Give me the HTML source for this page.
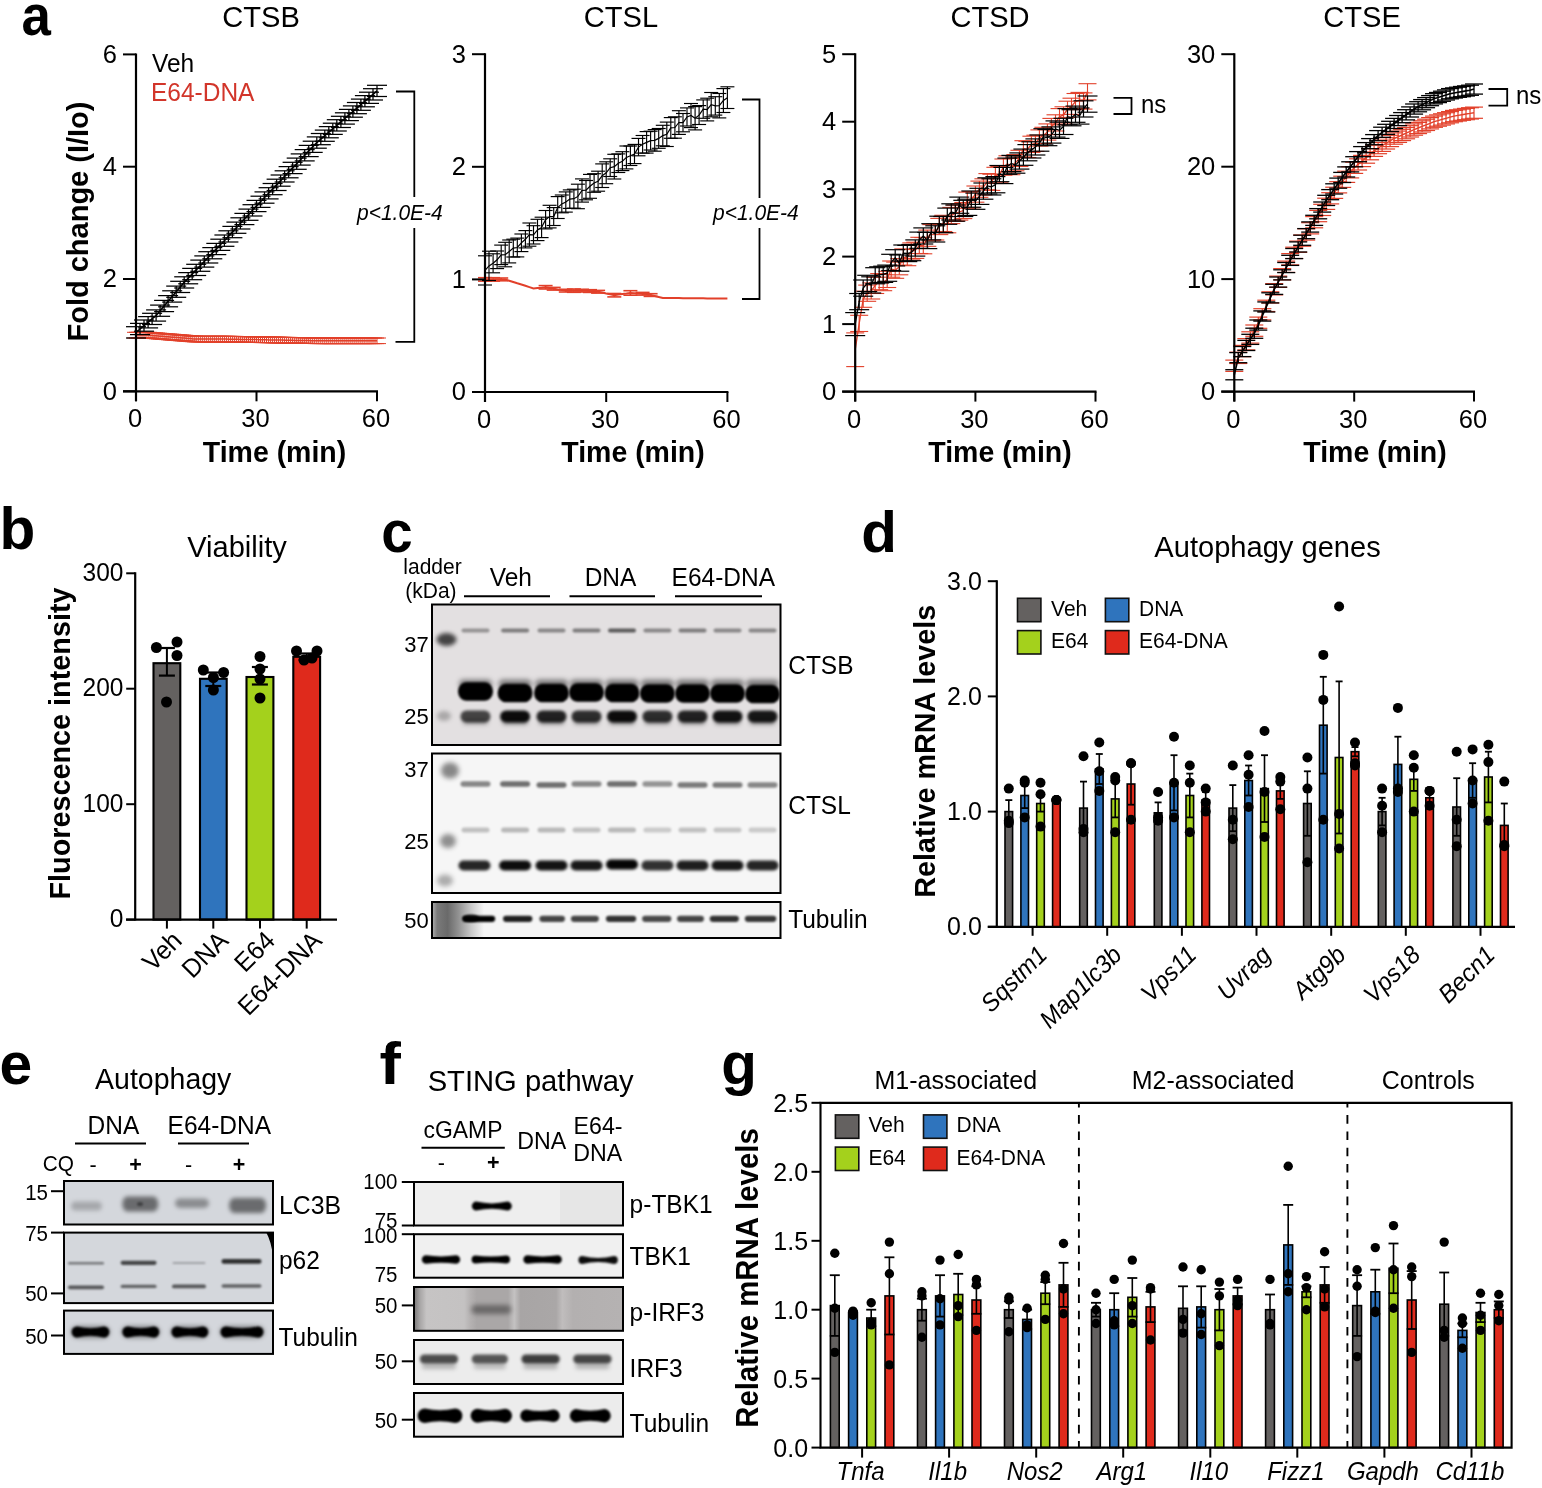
<!DOCTYPE html><html><head><meta charset="utf-8"><style>html,body{margin:0;padding:0;background:#fff;}svg{display:block;}</style></head><body>
<svg width="1542" height="1488" viewBox="0 0 1542 1488" font-family="'Liberation Sans', Arial, Helvetica, sans-serif">
<rect width="1542" height="1488" fill="#fff"/>
<defs><filter id="b0_6" x="-50%" y="-100%" width="200%" height="300%"><feGaussianBlur stdDeviation="0.6"/></filter><filter id="b1_0" x="-50%" y="-100%" width="200%" height="300%"><feGaussianBlur stdDeviation="1.0"/></filter><filter id="b1_5" x="-50%" y="-100%" width="200%" height="300%"><feGaussianBlur stdDeviation="1.5"/></filter><filter id="b2_0" x="-50%" y="-100%" width="200%" height="300%"><feGaussianBlur stdDeviation="2.0"/></filter><filter id="b2_5" x="-50%" y="-100%" width="200%" height="300%"><feGaussianBlur stdDeviation="2.5"/></filter><filter id="b3_0" x="-50%" y="-100%" width="200%" height="300%"><feGaussianBlur stdDeviation="3.0"/></filter><filter id="b4_0" x="-50%" y="-100%" width="200%" height="300%"><feGaussianBlur stdDeviation="4.0"/></filter><filter id="b6_0" x="-50%" y="-100%" width="200%" height="300%"><feGaussianBlur stdDeviation="6.0"/></filter></defs>
<text transform="translate(21.52,35.03) scale(0.92,1)" font-size="57.45" font-weight="bold">a</text>
<text transform="translate(261.00,27.30) scale(1,1.04)" font-size="29.1" text-anchor="middle">CTSB</text>
<path d="M136.0,335.1 L138.0,335.1 L140.0,335.1 L142.0,335.1 L144.0,335.1 L146.0,335.1 L148.1,335.1 L150.1,335.3 L152.1,335.5 L154.1,335.7 L156.1,335.8 L158.1,336.0 L160.1,336.2 L162.1,336.3 L164.1,336.5 L166.1,336.7 L168.1,336.8 L170.1,337.0 L172.2,337.2 L174.2,337.3 L176.2,337.5 L178.2,337.6 L180.2,337.8 L182.2,338.0 L184.2,338.1 L186.2,338.3 L188.2,338.4 L190.2,338.6 L192.2,338.8 L194.2,338.9 L196.2,339.1 L198.3,339.1 L200.3,339.1 L202.3,339.1 L204.3,339.1 L206.3,339.1 L208.3,339.1 L210.3,339.1 L212.3,339.1 L214.3,339.1 L216.3,339.1 L218.3,339.1 L220.3,339.1 L222.4,339.1 L224.4,339.1 L226.4,339.1 L228.4,339.2 L230.4,339.2 L232.4,339.2 L234.4,339.3 L236.4,339.3 L238.4,339.3 L240.4,339.4 L242.4,339.4 L244.4,339.4 L246.5,339.5 L248.5,339.5 L250.5,339.5 L252.5,339.6 L254.5,339.6 L256.5,339.6 L258.5,339.7 L260.5,339.7 L262.5,339.8 L264.5,339.8 L266.5,339.8 L268.6,339.9 L270.6,339.9 L272.6,339.9 L274.6,340.0 L276.6,340.0 L278.6,340.1 L280.6,340.1 L282.6,340.1 L284.6,340.2 L286.6,340.2 L288.6,340.2 L290.6,340.3 L292.6,340.3 L294.7,340.4 L296.7,340.4 L298.7,340.4 L300.7,340.5 L302.7,340.5 L304.7,340.5 L306.7,340.6 L308.7,340.6 L310.7,340.7 L312.7,340.7 L314.7,340.7 L316.8,340.8 L318.8,340.8 L320.8,340.8 L322.8,340.8 L324.8,340.8 L326.8,340.8 L328.8,340.8 L330.8,340.8 L332.8,340.8 L334.8,340.8 L336.8,340.8 L338.8,340.8 L340.9,340.8 L342.9,340.8 L344.9,340.8 L346.9,340.8 L348.9,340.8 L350.9,340.8 L352.9,340.8 L354.9,340.8 L356.9,340.8 L358.9,340.8 L360.9,340.8 L362.9,340.8 L364.9,340.8 L367.0,340.8 L369.0,340.8 L371.0,340.8 L373.0,340.8 L375.0,340.8 L377.0,340.8" stroke="#e2402a" stroke-width="1.5" fill="none"/>
<line x1="136.0" y1="332.3" x2="136.0" y2="338.0" stroke="#e2402a" stroke-width="1.0"/>
<line x1="127.0" y1="332.3" x2="145.0" y2="332.3" stroke="#e2402a" stroke-width="1.0"/>
<line x1="127.0" y1="338.0" x2="145.0" y2="338.0" stroke="#e2402a" stroke-width="1.0"/>
<line x1="138.0" y1="332.3" x2="138.0" y2="338.0" stroke="#e2402a" stroke-width="1.0"/>
<line x1="129.0" y1="332.3" x2="147.0" y2="332.3" stroke="#e2402a" stroke-width="1.0"/>
<line x1="129.0" y1="338.0" x2="147.0" y2="338.0" stroke="#e2402a" stroke-width="1.0"/>
<line x1="140.0" y1="332.3" x2="140.0" y2="338.0" stroke="#e2402a" stroke-width="1.0"/>
<line x1="131.0" y1="332.3" x2="149.0" y2="332.3" stroke="#e2402a" stroke-width="1.0"/>
<line x1="131.0" y1="338.0" x2="149.0" y2="338.0" stroke="#e2402a" stroke-width="1.0"/>
<line x1="142.0" y1="332.3" x2="142.0" y2="338.0" stroke="#e2402a" stroke-width="1.0"/>
<line x1="133.0" y1="332.3" x2="151.0" y2="332.3" stroke="#e2402a" stroke-width="1.0"/>
<line x1="133.0" y1="338.0" x2="151.0" y2="338.0" stroke="#e2402a" stroke-width="1.0"/>
<line x1="144.0" y1="332.3" x2="144.0" y2="338.0" stroke="#e2402a" stroke-width="1.0"/>
<line x1="135.0" y1="332.3" x2="153.0" y2="332.3" stroke="#e2402a" stroke-width="1.0"/>
<line x1="135.0" y1="338.0" x2="153.0" y2="338.0" stroke="#e2402a" stroke-width="1.0"/>
<line x1="146.0" y1="332.3" x2="146.0" y2="338.0" stroke="#e2402a" stroke-width="1.0"/>
<line x1="137.0" y1="332.3" x2="155.0" y2="332.3" stroke="#e2402a" stroke-width="1.0"/>
<line x1="137.0" y1="338.0" x2="155.0" y2="338.0" stroke="#e2402a" stroke-width="1.0"/>
<line x1="148.1" y1="332.3" x2="148.1" y2="338.0" stroke="#e2402a" stroke-width="1.0"/>
<line x1="139.1" y1="332.3" x2="157.1" y2="332.3" stroke="#e2402a" stroke-width="1.0"/>
<line x1="139.1" y1="338.0" x2="157.1" y2="338.0" stroke="#e2402a" stroke-width="1.0"/>
<line x1="150.1" y1="332.5" x2="150.1" y2="338.1" stroke="#e2402a" stroke-width="1.0"/>
<line x1="141.1" y1="332.5" x2="159.1" y2="332.5" stroke="#e2402a" stroke-width="1.0"/>
<line x1="141.1" y1="338.1" x2="159.1" y2="338.1" stroke="#e2402a" stroke-width="1.0"/>
<line x1="152.1" y1="332.7" x2="152.1" y2="338.3" stroke="#e2402a" stroke-width="1.0"/>
<line x1="143.1" y1="332.7" x2="161.1" y2="332.7" stroke="#e2402a" stroke-width="1.0"/>
<line x1="143.1" y1="338.3" x2="161.1" y2="338.3" stroke="#e2402a" stroke-width="1.0"/>
<line x1="154.1" y1="332.8" x2="154.1" y2="338.5" stroke="#e2402a" stroke-width="1.0"/>
<line x1="145.1" y1="332.8" x2="163.1" y2="332.8" stroke="#e2402a" stroke-width="1.0"/>
<line x1="145.1" y1="338.5" x2="163.1" y2="338.5" stroke="#e2402a" stroke-width="1.0"/>
<line x1="156.1" y1="333.0" x2="156.1" y2="338.6" stroke="#e2402a" stroke-width="1.0"/>
<line x1="147.1" y1="333.0" x2="165.1" y2="333.0" stroke="#e2402a" stroke-width="1.0"/>
<line x1="147.1" y1="338.6" x2="165.1" y2="338.6" stroke="#e2402a" stroke-width="1.0"/>
<line x1="158.1" y1="333.2" x2="158.1" y2="338.8" stroke="#e2402a" stroke-width="1.0"/>
<line x1="149.1" y1="333.2" x2="167.1" y2="333.2" stroke="#e2402a" stroke-width="1.0"/>
<line x1="149.1" y1="338.8" x2="167.1" y2="338.8" stroke="#e2402a" stroke-width="1.0"/>
<line x1="160.1" y1="333.4" x2="160.1" y2="339.0" stroke="#e2402a" stroke-width="1.0"/>
<line x1="151.1" y1="333.4" x2="169.1" y2="333.4" stroke="#e2402a" stroke-width="1.0"/>
<line x1="151.1" y1="339.0" x2="169.1" y2="339.0" stroke="#e2402a" stroke-width="1.0"/>
<line x1="162.1" y1="333.5" x2="162.1" y2="339.1" stroke="#e2402a" stroke-width="1.0"/>
<line x1="153.1" y1="333.5" x2="171.1" y2="333.5" stroke="#e2402a" stroke-width="1.0"/>
<line x1="153.1" y1="339.1" x2="171.1" y2="339.1" stroke="#e2402a" stroke-width="1.0"/>
<line x1="164.1" y1="333.7" x2="164.1" y2="339.3" stroke="#e2402a" stroke-width="1.0"/>
<line x1="155.1" y1="333.7" x2="173.1" y2="333.7" stroke="#e2402a" stroke-width="1.0"/>
<line x1="155.1" y1="339.3" x2="173.1" y2="339.3" stroke="#e2402a" stroke-width="1.0"/>
<line x1="166.1" y1="333.9" x2="166.1" y2="339.5" stroke="#e2402a" stroke-width="1.0"/>
<line x1="157.1" y1="333.9" x2="175.1" y2="333.9" stroke="#e2402a" stroke-width="1.0"/>
<line x1="157.1" y1="339.5" x2="175.1" y2="339.5" stroke="#e2402a" stroke-width="1.0"/>
<line x1="168.1" y1="334.0" x2="168.1" y2="339.6" stroke="#e2402a" stroke-width="1.0"/>
<line x1="159.1" y1="334.0" x2="177.1" y2="334.0" stroke="#e2402a" stroke-width="1.0"/>
<line x1="159.1" y1="339.6" x2="177.1" y2="339.6" stroke="#e2402a" stroke-width="1.0"/>
<line x1="170.1" y1="334.2" x2="170.1" y2="339.8" stroke="#e2402a" stroke-width="1.0"/>
<line x1="161.1" y1="334.2" x2="179.1" y2="334.2" stroke="#e2402a" stroke-width="1.0"/>
<line x1="161.1" y1="339.8" x2="179.1" y2="339.8" stroke="#e2402a" stroke-width="1.0"/>
<line x1="172.2" y1="334.3" x2="172.2" y2="340.0" stroke="#e2402a" stroke-width="1.0"/>
<line x1="163.2" y1="334.3" x2="181.2" y2="334.3" stroke="#e2402a" stroke-width="1.0"/>
<line x1="163.2" y1="340.0" x2="181.2" y2="340.0" stroke="#e2402a" stroke-width="1.0"/>
<line x1="174.2" y1="334.5" x2="174.2" y2="340.1" stroke="#e2402a" stroke-width="1.0"/>
<line x1="165.2" y1="334.5" x2="183.2" y2="334.5" stroke="#e2402a" stroke-width="1.0"/>
<line x1="165.2" y1="340.1" x2="183.2" y2="340.1" stroke="#e2402a" stroke-width="1.0"/>
<line x1="176.2" y1="334.7" x2="176.2" y2="340.3" stroke="#e2402a" stroke-width="1.0"/>
<line x1="167.2" y1="334.7" x2="185.2" y2="334.7" stroke="#e2402a" stroke-width="1.0"/>
<line x1="167.2" y1="340.3" x2="185.2" y2="340.3" stroke="#e2402a" stroke-width="1.0"/>
<line x1="178.2" y1="334.8" x2="178.2" y2="340.4" stroke="#e2402a" stroke-width="1.0"/>
<line x1="169.2" y1="334.8" x2="187.2" y2="334.8" stroke="#e2402a" stroke-width="1.0"/>
<line x1="169.2" y1="340.4" x2="187.2" y2="340.4" stroke="#e2402a" stroke-width="1.0"/>
<line x1="180.2" y1="335.0" x2="180.2" y2="340.6" stroke="#e2402a" stroke-width="1.0"/>
<line x1="171.2" y1="335.0" x2="189.2" y2="335.0" stroke="#e2402a" stroke-width="1.0"/>
<line x1="171.2" y1="340.6" x2="189.2" y2="340.6" stroke="#e2402a" stroke-width="1.0"/>
<line x1="182.2" y1="335.1" x2="182.2" y2="340.8" stroke="#e2402a" stroke-width="1.0"/>
<line x1="173.2" y1="335.1" x2="191.2" y2="335.1" stroke="#e2402a" stroke-width="1.0"/>
<line x1="173.2" y1="340.8" x2="191.2" y2="340.8" stroke="#e2402a" stroke-width="1.0"/>
<line x1="184.2" y1="335.3" x2="184.2" y2="340.9" stroke="#e2402a" stroke-width="1.0"/>
<line x1="175.2" y1="335.3" x2="193.2" y2="335.3" stroke="#e2402a" stroke-width="1.0"/>
<line x1="175.2" y1="340.9" x2="193.2" y2="340.9" stroke="#e2402a" stroke-width="1.0"/>
<line x1="186.2" y1="335.5" x2="186.2" y2="341.1" stroke="#e2402a" stroke-width="1.0"/>
<line x1="177.2" y1="335.5" x2="195.2" y2="335.5" stroke="#e2402a" stroke-width="1.0"/>
<line x1="177.2" y1="341.1" x2="195.2" y2="341.1" stroke="#e2402a" stroke-width="1.0"/>
<line x1="188.2" y1="335.6" x2="188.2" y2="341.2" stroke="#e2402a" stroke-width="1.0"/>
<line x1="179.2" y1="335.6" x2="197.2" y2="335.6" stroke="#e2402a" stroke-width="1.0"/>
<line x1="179.2" y1="341.2" x2="197.2" y2="341.2" stroke="#e2402a" stroke-width="1.0"/>
<line x1="190.2" y1="335.8" x2="190.2" y2="341.4" stroke="#e2402a" stroke-width="1.0"/>
<line x1="181.2" y1="335.8" x2="199.2" y2="335.8" stroke="#e2402a" stroke-width="1.0"/>
<line x1="181.2" y1="341.4" x2="199.2" y2="341.4" stroke="#e2402a" stroke-width="1.0"/>
<line x1="192.2" y1="336.0" x2="192.2" y2="341.6" stroke="#e2402a" stroke-width="1.0"/>
<line x1="183.2" y1="336.0" x2="201.2" y2="336.0" stroke="#e2402a" stroke-width="1.0"/>
<line x1="183.2" y1="341.6" x2="201.2" y2="341.6" stroke="#e2402a" stroke-width="1.0"/>
<line x1="194.2" y1="336.1" x2="194.2" y2="341.7" stroke="#e2402a" stroke-width="1.0"/>
<line x1="185.2" y1="336.1" x2="203.2" y2="336.1" stroke="#e2402a" stroke-width="1.0"/>
<line x1="185.2" y1="341.7" x2="203.2" y2="341.7" stroke="#e2402a" stroke-width="1.0"/>
<line x1="196.2" y1="336.3" x2="196.2" y2="341.9" stroke="#e2402a" stroke-width="1.0"/>
<line x1="187.2" y1="336.3" x2="205.2" y2="336.3" stroke="#e2402a" stroke-width="1.0"/>
<line x1="187.2" y1="341.9" x2="205.2" y2="341.9" stroke="#e2402a" stroke-width="1.0"/>
<line x1="198.3" y1="336.3" x2="198.3" y2="341.9" stroke="#e2402a" stroke-width="1.0"/>
<line x1="189.3" y1="336.3" x2="207.3" y2="336.3" stroke="#e2402a" stroke-width="1.0"/>
<line x1="189.3" y1="341.9" x2="207.3" y2="341.9" stroke="#e2402a" stroke-width="1.0"/>
<line x1="200.3" y1="336.3" x2="200.3" y2="341.9" stroke="#e2402a" stroke-width="1.0"/>
<line x1="191.3" y1="336.3" x2="209.3" y2="336.3" stroke="#e2402a" stroke-width="1.0"/>
<line x1="191.3" y1="341.9" x2="209.3" y2="341.9" stroke="#e2402a" stroke-width="1.0"/>
<line x1="202.3" y1="336.3" x2="202.3" y2="341.9" stroke="#e2402a" stroke-width="1.0"/>
<line x1="193.3" y1="336.3" x2="211.3" y2="336.3" stroke="#e2402a" stroke-width="1.0"/>
<line x1="193.3" y1="341.9" x2="211.3" y2="341.9" stroke="#e2402a" stroke-width="1.0"/>
<line x1="204.3" y1="336.3" x2="204.3" y2="341.9" stroke="#e2402a" stroke-width="1.0"/>
<line x1="195.3" y1="336.3" x2="213.3" y2="336.3" stroke="#e2402a" stroke-width="1.0"/>
<line x1="195.3" y1="341.9" x2="213.3" y2="341.9" stroke="#e2402a" stroke-width="1.0"/>
<line x1="206.3" y1="336.3" x2="206.3" y2="341.9" stroke="#e2402a" stroke-width="1.0"/>
<line x1="197.3" y1="336.3" x2="215.3" y2="336.3" stroke="#e2402a" stroke-width="1.0"/>
<line x1="197.3" y1="341.9" x2="215.3" y2="341.9" stroke="#e2402a" stroke-width="1.0"/>
<line x1="208.3" y1="336.3" x2="208.3" y2="341.9" stroke="#e2402a" stroke-width="1.0"/>
<line x1="199.3" y1="336.3" x2="217.3" y2="336.3" stroke="#e2402a" stroke-width="1.0"/>
<line x1="199.3" y1="341.9" x2="217.3" y2="341.9" stroke="#e2402a" stroke-width="1.0"/>
<line x1="210.3" y1="336.3" x2="210.3" y2="341.9" stroke="#e2402a" stroke-width="1.0"/>
<line x1="201.3" y1="336.3" x2="219.3" y2="336.3" stroke="#e2402a" stroke-width="1.0"/>
<line x1="201.3" y1="341.9" x2="219.3" y2="341.9" stroke="#e2402a" stroke-width="1.0"/>
<line x1="212.3" y1="336.3" x2="212.3" y2="341.9" stroke="#e2402a" stroke-width="1.0"/>
<line x1="203.3" y1="336.3" x2="221.3" y2="336.3" stroke="#e2402a" stroke-width="1.0"/>
<line x1="203.3" y1="341.9" x2="221.3" y2="341.9" stroke="#e2402a" stroke-width="1.0"/>
<line x1="214.3" y1="336.3" x2="214.3" y2="341.9" stroke="#e2402a" stroke-width="1.0"/>
<line x1="205.3" y1="336.3" x2="223.3" y2="336.3" stroke="#e2402a" stroke-width="1.0"/>
<line x1="205.3" y1="341.9" x2="223.3" y2="341.9" stroke="#e2402a" stroke-width="1.0"/>
<line x1="216.3" y1="336.3" x2="216.3" y2="341.9" stroke="#e2402a" stroke-width="1.0"/>
<line x1="207.3" y1="336.3" x2="225.3" y2="336.3" stroke="#e2402a" stroke-width="1.0"/>
<line x1="207.3" y1="341.9" x2="225.3" y2="341.9" stroke="#e2402a" stroke-width="1.0"/>
<line x1="218.3" y1="336.3" x2="218.3" y2="341.9" stroke="#e2402a" stroke-width="1.0"/>
<line x1="209.3" y1="336.3" x2="227.3" y2="336.3" stroke="#e2402a" stroke-width="1.0"/>
<line x1="209.3" y1="341.9" x2="227.3" y2="341.9" stroke="#e2402a" stroke-width="1.0"/>
<line x1="220.3" y1="336.3" x2="220.3" y2="341.9" stroke="#e2402a" stroke-width="1.0"/>
<line x1="211.3" y1="336.3" x2="229.3" y2="336.3" stroke="#e2402a" stroke-width="1.0"/>
<line x1="211.3" y1="341.9" x2="229.3" y2="341.9" stroke="#e2402a" stroke-width="1.0"/>
<line x1="222.4" y1="336.3" x2="222.4" y2="341.9" stroke="#e2402a" stroke-width="1.0"/>
<line x1="213.4" y1="336.3" x2="231.4" y2="336.3" stroke="#e2402a" stroke-width="1.0"/>
<line x1="213.4" y1="341.9" x2="231.4" y2="341.9" stroke="#e2402a" stroke-width="1.0"/>
<line x1="224.4" y1="336.3" x2="224.4" y2="341.9" stroke="#e2402a" stroke-width="1.0"/>
<line x1="215.4" y1="336.3" x2="233.4" y2="336.3" stroke="#e2402a" stroke-width="1.0"/>
<line x1="215.4" y1="341.9" x2="233.4" y2="341.9" stroke="#e2402a" stroke-width="1.0"/>
<line x1="226.4" y1="336.3" x2="226.4" y2="341.9" stroke="#e2402a" stroke-width="1.0"/>
<line x1="217.4" y1="336.3" x2="235.4" y2="336.3" stroke="#e2402a" stroke-width="1.0"/>
<line x1="217.4" y1="341.9" x2="235.4" y2="341.9" stroke="#e2402a" stroke-width="1.0"/>
<line x1="228.4" y1="336.3" x2="228.4" y2="342.0" stroke="#e2402a" stroke-width="1.0"/>
<line x1="219.4" y1="336.3" x2="237.4" y2="336.3" stroke="#e2402a" stroke-width="1.0"/>
<line x1="219.4" y1="342.0" x2="237.4" y2="342.0" stroke="#e2402a" stroke-width="1.0"/>
<line x1="230.4" y1="336.4" x2="230.4" y2="342.0" stroke="#e2402a" stroke-width="1.0"/>
<line x1="221.4" y1="336.4" x2="239.4" y2="336.4" stroke="#e2402a" stroke-width="1.0"/>
<line x1="221.4" y1="342.0" x2="239.4" y2="342.0" stroke="#e2402a" stroke-width="1.0"/>
<line x1="232.4" y1="336.4" x2="232.4" y2="342.0" stroke="#e2402a" stroke-width="1.0"/>
<line x1="223.4" y1="336.4" x2="241.4" y2="336.4" stroke="#e2402a" stroke-width="1.0"/>
<line x1="223.4" y1="342.0" x2="241.4" y2="342.0" stroke="#e2402a" stroke-width="1.0"/>
<line x1="234.4" y1="336.4" x2="234.4" y2="342.1" stroke="#e2402a" stroke-width="1.0"/>
<line x1="225.4" y1="336.4" x2="243.4" y2="336.4" stroke="#e2402a" stroke-width="1.0"/>
<line x1="225.4" y1="342.1" x2="243.4" y2="342.1" stroke="#e2402a" stroke-width="1.0"/>
<line x1="236.4" y1="336.5" x2="236.4" y2="342.1" stroke="#e2402a" stroke-width="1.0"/>
<line x1="227.4" y1="336.5" x2="245.4" y2="336.5" stroke="#e2402a" stroke-width="1.0"/>
<line x1="227.4" y1="342.1" x2="245.4" y2="342.1" stroke="#e2402a" stroke-width="1.0"/>
<line x1="238.4" y1="336.5" x2="238.4" y2="342.1" stroke="#e2402a" stroke-width="1.0"/>
<line x1="229.4" y1="336.5" x2="247.4" y2="336.5" stroke="#e2402a" stroke-width="1.0"/>
<line x1="229.4" y1="342.1" x2="247.4" y2="342.1" stroke="#e2402a" stroke-width="1.0"/>
<line x1="240.4" y1="336.6" x2="240.4" y2="342.2" stroke="#e2402a" stroke-width="1.0"/>
<line x1="231.4" y1="336.6" x2="249.4" y2="336.6" stroke="#e2402a" stroke-width="1.0"/>
<line x1="231.4" y1="342.2" x2="249.4" y2="342.2" stroke="#e2402a" stroke-width="1.0"/>
<line x1="242.4" y1="336.6" x2="242.4" y2="342.2" stroke="#e2402a" stroke-width="1.0"/>
<line x1="233.4" y1="336.6" x2="251.4" y2="336.6" stroke="#e2402a" stroke-width="1.0"/>
<line x1="233.4" y1="342.2" x2="251.4" y2="342.2" stroke="#e2402a" stroke-width="1.0"/>
<line x1="244.4" y1="336.6" x2="244.4" y2="342.2" stroke="#e2402a" stroke-width="1.0"/>
<line x1="235.4" y1="336.6" x2="253.4" y2="336.6" stroke="#e2402a" stroke-width="1.0"/>
<line x1="235.4" y1="342.2" x2="253.4" y2="342.2" stroke="#e2402a" stroke-width="1.0"/>
<line x1="246.5" y1="336.7" x2="246.5" y2="342.3" stroke="#e2402a" stroke-width="1.0"/>
<line x1="237.5" y1="336.7" x2="255.5" y2="336.7" stroke="#e2402a" stroke-width="1.0"/>
<line x1="237.5" y1="342.3" x2="255.5" y2="342.3" stroke="#e2402a" stroke-width="1.0"/>
<line x1="248.5" y1="336.7" x2="248.5" y2="342.3" stroke="#e2402a" stroke-width="1.0"/>
<line x1="239.5" y1="336.7" x2="257.5" y2="336.7" stroke="#e2402a" stroke-width="1.0"/>
<line x1="239.5" y1="342.3" x2="257.5" y2="342.3" stroke="#e2402a" stroke-width="1.0"/>
<line x1="250.5" y1="336.7" x2="250.5" y2="342.3" stroke="#e2402a" stroke-width="1.0"/>
<line x1="241.5" y1="336.7" x2="259.5" y2="336.7" stroke="#e2402a" stroke-width="1.0"/>
<line x1="241.5" y1="342.3" x2="259.5" y2="342.3" stroke="#e2402a" stroke-width="1.0"/>
<line x1="252.5" y1="336.8" x2="252.5" y2="342.4" stroke="#e2402a" stroke-width="1.0"/>
<line x1="243.5" y1="336.8" x2="261.5" y2="336.8" stroke="#e2402a" stroke-width="1.0"/>
<line x1="243.5" y1="342.4" x2="261.5" y2="342.4" stroke="#e2402a" stroke-width="1.0"/>
<line x1="254.5" y1="336.8" x2="254.5" y2="342.4" stroke="#e2402a" stroke-width="1.0"/>
<line x1="245.5" y1="336.8" x2="263.5" y2="336.8" stroke="#e2402a" stroke-width="1.0"/>
<line x1="245.5" y1="342.4" x2="263.5" y2="342.4" stroke="#e2402a" stroke-width="1.0"/>
<line x1="256.5" y1="336.8" x2="256.5" y2="342.4" stroke="#e2402a" stroke-width="1.0"/>
<line x1="247.5" y1="336.8" x2="265.5" y2="336.8" stroke="#e2402a" stroke-width="1.0"/>
<line x1="247.5" y1="342.4" x2="265.5" y2="342.4" stroke="#e2402a" stroke-width="1.0"/>
<line x1="258.5" y1="336.9" x2="258.5" y2="342.5" stroke="#e2402a" stroke-width="1.0"/>
<line x1="249.5" y1="336.9" x2="267.5" y2="336.9" stroke="#e2402a" stroke-width="1.0"/>
<line x1="249.5" y1="342.5" x2="267.5" y2="342.5" stroke="#e2402a" stroke-width="1.0"/>
<line x1="260.5" y1="336.9" x2="260.5" y2="342.5" stroke="#e2402a" stroke-width="1.0"/>
<line x1="251.5" y1="336.9" x2="269.5" y2="336.9" stroke="#e2402a" stroke-width="1.0"/>
<line x1="251.5" y1="342.5" x2="269.5" y2="342.5" stroke="#e2402a" stroke-width="1.0"/>
<line x1="262.5" y1="336.9" x2="262.5" y2="342.6" stroke="#e2402a" stroke-width="1.0"/>
<line x1="253.5" y1="336.9" x2="271.5" y2="336.9" stroke="#e2402a" stroke-width="1.0"/>
<line x1="253.5" y1="342.6" x2="271.5" y2="342.6" stroke="#e2402a" stroke-width="1.0"/>
<line x1="264.5" y1="337.0" x2="264.5" y2="342.6" stroke="#e2402a" stroke-width="1.0"/>
<line x1="255.5" y1="337.0" x2="273.5" y2="337.0" stroke="#e2402a" stroke-width="1.0"/>
<line x1="255.5" y1="342.6" x2="273.5" y2="342.6" stroke="#e2402a" stroke-width="1.0"/>
<line x1="266.5" y1="337.0" x2="266.5" y2="342.6" stroke="#e2402a" stroke-width="1.0"/>
<line x1="257.5" y1="337.0" x2="275.5" y2="337.0" stroke="#e2402a" stroke-width="1.0"/>
<line x1="257.5" y1="342.6" x2="275.5" y2="342.6" stroke="#e2402a" stroke-width="1.0"/>
<line x1="268.6" y1="337.1" x2="268.6" y2="342.7" stroke="#e2402a" stroke-width="1.0"/>
<line x1="259.6" y1="337.1" x2="277.6" y2="337.1" stroke="#e2402a" stroke-width="1.0"/>
<line x1="259.6" y1="342.7" x2="277.6" y2="342.7" stroke="#e2402a" stroke-width="1.0"/>
<line x1="270.6" y1="337.1" x2="270.6" y2="342.7" stroke="#e2402a" stroke-width="1.0"/>
<line x1="261.6" y1="337.1" x2="279.6" y2="337.1" stroke="#e2402a" stroke-width="1.0"/>
<line x1="261.6" y1="342.7" x2="279.6" y2="342.7" stroke="#e2402a" stroke-width="1.0"/>
<line x1="272.6" y1="337.1" x2="272.6" y2="342.7" stroke="#e2402a" stroke-width="1.0"/>
<line x1="263.6" y1="337.1" x2="281.6" y2="337.1" stroke="#e2402a" stroke-width="1.0"/>
<line x1="263.6" y1="342.7" x2="281.6" y2="342.7" stroke="#e2402a" stroke-width="1.0"/>
<line x1="274.6" y1="337.2" x2="274.6" y2="342.8" stroke="#e2402a" stroke-width="1.0"/>
<line x1="265.6" y1="337.2" x2="283.6" y2="337.2" stroke="#e2402a" stroke-width="1.0"/>
<line x1="265.6" y1="342.8" x2="283.6" y2="342.8" stroke="#e2402a" stroke-width="1.0"/>
<line x1="276.6" y1="337.2" x2="276.6" y2="342.8" stroke="#e2402a" stroke-width="1.0"/>
<line x1="267.6" y1="337.2" x2="285.6" y2="337.2" stroke="#e2402a" stroke-width="1.0"/>
<line x1="267.6" y1="342.8" x2="285.6" y2="342.8" stroke="#e2402a" stroke-width="1.0"/>
<line x1="278.6" y1="337.2" x2="278.6" y2="342.9" stroke="#e2402a" stroke-width="1.0"/>
<line x1="269.6" y1="337.2" x2="287.6" y2="337.2" stroke="#e2402a" stroke-width="1.0"/>
<line x1="269.6" y1="342.9" x2="287.6" y2="342.9" stroke="#e2402a" stroke-width="1.0"/>
<line x1="280.6" y1="337.3" x2="280.6" y2="342.9" stroke="#e2402a" stroke-width="1.0"/>
<line x1="271.6" y1="337.3" x2="289.6" y2="337.3" stroke="#e2402a" stroke-width="1.0"/>
<line x1="271.6" y1="342.9" x2="289.6" y2="342.9" stroke="#e2402a" stroke-width="1.0"/>
<line x1="282.6" y1="337.3" x2="282.6" y2="342.9" stroke="#e2402a" stroke-width="1.0"/>
<line x1="273.6" y1="337.3" x2="291.6" y2="337.3" stroke="#e2402a" stroke-width="1.0"/>
<line x1="273.6" y1="342.9" x2="291.6" y2="342.9" stroke="#e2402a" stroke-width="1.0"/>
<line x1="284.6" y1="337.4" x2="284.6" y2="343.0" stroke="#e2402a" stroke-width="1.0"/>
<line x1="275.6" y1="337.4" x2="293.6" y2="337.4" stroke="#e2402a" stroke-width="1.0"/>
<line x1="275.6" y1="343.0" x2="293.6" y2="343.0" stroke="#e2402a" stroke-width="1.0"/>
<line x1="286.6" y1="337.4" x2="286.6" y2="343.0" stroke="#e2402a" stroke-width="1.0"/>
<line x1="277.6" y1="337.4" x2="295.6" y2="337.4" stroke="#e2402a" stroke-width="1.0"/>
<line x1="277.6" y1="343.0" x2="295.6" y2="343.0" stroke="#e2402a" stroke-width="1.0"/>
<line x1="288.6" y1="337.4" x2="288.6" y2="343.0" stroke="#e2402a" stroke-width="1.0"/>
<line x1="279.6" y1="337.4" x2="297.6" y2="337.4" stroke="#e2402a" stroke-width="1.0"/>
<line x1="279.6" y1="343.0" x2="297.6" y2="343.0" stroke="#e2402a" stroke-width="1.0"/>
<line x1="290.6" y1="337.5" x2="290.6" y2="343.1" stroke="#e2402a" stroke-width="1.0"/>
<line x1="281.6" y1="337.5" x2="299.6" y2="337.5" stroke="#e2402a" stroke-width="1.0"/>
<line x1="281.6" y1="343.1" x2="299.6" y2="343.1" stroke="#e2402a" stroke-width="1.0"/>
<line x1="292.6" y1="337.5" x2="292.6" y2="343.1" stroke="#e2402a" stroke-width="1.0"/>
<line x1="283.6" y1="337.5" x2="301.6" y2="337.5" stroke="#e2402a" stroke-width="1.0"/>
<line x1="283.6" y1="343.1" x2="301.6" y2="343.1" stroke="#e2402a" stroke-width="1.0"/>
<line x1="294.7" y1="337.5" x2="294.7" y2="343.2" stroke="#e2402a" stroke-width="1.0"/>
<line x1="285.7" y1="337.5" x2="303.7" y2="337.5" stroke="#e2402a" stroke-width="1.0"/>
<line x1="285.7" y1="343.2" x2="303.7" y2="343.2" stroke="#e2402a" stroke-width="1.0"/>
<line x1="296.7" y1="337.6" x2="296.7" y2="343.2" stroke="#e2402a" stroke-width="1.0"/>
<line x1="287.7" y1="337.6" x2="305.7" y2="337.6" stroke="#e2402a" stroke-width="1.0"/>
<line x1="287.7" y1="343.2" x2="305.7" y2="343.2" stroke="#e2402a" stroke-width="1.0"/>
<line x1="298.7" y1="337.6" x2="298.7" y2="343.2" stroke="#e2402a" stroke-width="1.0"/>
<line x1="289.7" y1="337.6" x2="307.7" y2="337.6" stroke="#e2402a" stroke-width="1.0"/>
<line x1="289.7" y1="343.2" x2="307.7" y2="343.2" stroke="#e2402a" stroke-width="1.0"/>
<line x1="300.7" y1="337.7" x2="300.7" y2="343.3" stroke="#e2402a" stroke-width="1.0"/>
<line x1="291.7" y1="337.7" x2="309.7" y2="337.7" stroke="#e2402a" stroke-width="1.0"/>
<line x1="291.7" y1="343.3" x2="309.7" y2="343.3" stroke="#e2402a" stroke-width="1.0"/>
<line x1="302.7" y1="337.7" x2="302.7" y2="343.3" stroke="#e2402a" stroke-width="1.0"/>
<line x1="293.7" y1="337.7" x2="311.7" y2="337.7" stroke="#e2402a" stroke-width="1.0"/>
<line x1="293.7" y1="343.3" x2="311.7" y2="343.3" stroke="#e2402a" stroke-width="1.0"/>
<line x1="304.7" y1="337.7" x2="304.7" y2="343.3" stroke="#e2402a" stroke-width="1.0"/>
<line x1="295.7" y1="337.7" x2="313.7" y2="337.7" stroke="#e2402a" stroke-width="1.0"/>
<line x1="295.7" y1="343.3" x2="313.7" y2="343.3" stroke="#e2402a" stroke-width="1.0"/>
<line x1="306.7" y1="337.8" x2="306.7" y2="343.4" stroke="#e2402a" stroke-width="1.0"/>
<line x1="297.7" y1="337.8" x2="315.7" y2="337.8" stroke="#e2402a" stroke-width="1.0"/>
<line x1="297.7" y1="343.4" x2="315.7" y2="343.4" stroke="#e2402a" stroke-width="1.0"/>
<line x1="308.7" y1="337.8" x2="308.7" y2="343.4" stroke="#e2402a" stroke-width="1.0"/>
<line x1="299.7" y1="337.8" x2="317.7" y2="337.8" stroke="#e2402a" stroke-width="1.0"/>
<line x1="299.7" y1="343.4" x2="317.7" y2="343.4" stroke="#e2402a" stroke-width="1.0"/>
<line x1="310.7" y1="337.8" x2="310.7" y2="343.5" stroke="#e2402a" stroke-width="1.0"/>
<line x1="301.7" y1="337.8" x2="319.7" y2="337.8" stroke="#e2402a" stroke-width="1.0"/>
<line x1="301.7" y1="343.5" x2="319.7" y2="343.5" stroke="#e2402a" stroke-width="1.0"/>
<line x1="312.7" y1="337.9" x2="312.7" y2="343.5" stroke="#e2402a" stroke-width="1.0"/>
<line x1="303.7" y1="337.9" x2="321.7" y2="337.9" stroke="#e2402a" stroke-width="1.0"/>
<line x1="303.7" y1="343.5" x2="321.7" y2="343.5" stroke="#e2402a" stroke-width="1.0"/>
<line x1="314.7" y1="337.9" x2="314.7" y2="343.5" stroke="#e2402a" stroke-width="1.0"/>
<line x1="305.7" y1="337.9" x2="323.7" y2="337.9" stroke="#e2402a" stroke-width="1.0"/>
<line x1="305.7" y1="343.5" x2="323.7" y2="343.5" stroke="#e2402a" stroke-width="1.0"/>
<line x1="316.8" y1="338.0" x2="316.8" y2="343.6" stroke="#e2402a" stroke-width="1.0"/>
<line x1="307.8" y1="338.0" x2="325.8" y2="338.0" stroke="#e2402a" stroke-width="1.0"/>
<line x1="307.8" y1="343.6" x2="325.8" y2="343.6" stroke="#e2402a" stroke-width="1.0"/>
<line x1="318.8" y1="338.0" x2="318.8" y2="343.6" stroke="#e2402a" stroke-width="1.0"/>
<line x1="309.8" y1="338.0" x2="327.8" y2="338.0" stroke="#e2402a" stroke-width="1.0"/>
<line x1="309.8" y1="343.6" x2="327.8" y2="343.6" stroke="#e2402a" stroke-width="1.0"/>
<line x1="320.8" y1="338.0" x2="320.8" y2="343.6" stroke="#e2402a" stroke-width="1.0"/>
<line x1="311.8" y1="338.0" x2="329.8" y2="338.0" stroke="#e2402a" stroke-width="1.0"/>
<line x1="311.8" y1="343.6" x2="329.8" y2="343.6" stroke="#e2402a" stroke-width="1.0"/>
<line x1="322.8" y1="338.0" x2="322.8" y2="343.6" stroke="#e2402a" stroke-width="1.0"/>
<line x1="313.8" y1="338.0" x2="331.8" y2="338.0" stroke="#e2402a" stroke-width="1.0"/>
<line x1="313.8" y1="343.6" x2="331.8" y2="343.6" stroke="#e2402a" stroke-width="1.0"/>
<line x1="324.8" y1="338.0" x2="324.8" y2="343.6" stroke="#e2402a" stroke-width="1.0"/>
<line x1="315.8" y1="338.0" x2="333.8" y2="338.0" stroke="#e2402a" stroke-width="1.0"/>
<line x1="315.8" y1="343.6" x2="333.8" y2="343.6" stroke="#e2402a" stroke-width="1.0"/>
<line x1="326.8" y1="338.0" x2="326.8" y2="343.6" stroke="#e2402a" stroke-width="1.0"/>
<line x1="317.8" y1="338.0" x2="335.8" y2="338.0" stroke="#e2402a" stroke-width="1.0"/>
<line x1="317.8" y1="343.6" x2="335.8" y2="343.6" stroke="#e2402a" stroke-width="1.0"/>
<line x1="328.8" y1="338.0" x2="328.8" y2="343.6" stroke="#e2402a" stroke-width="1.0"/>
<line x1="319.8" y1="338.0" x2="337.8" y2="338.0" stroke="#e2402a" stroke-width="1.0"/>
<line x1="319.8" y1="343.6" x2="337.8" y2="343.6" stroke="#e2402a" stroke-width="1.0"/>
<line x1="330.8" y1="338.0" x2="330.8" y2="343.6" stroke="#e2402a" stroke-width="1.0"/>
<line x1="321.8" y1="338.0" x2="339.8" y2="338.0" stroke="#e2402a" stroke-width="1.0"/>
<line x1="321.8" y1="343.6" x2="339.8" y2="343.6" stroke="#e2402a" stroke-width="1.0"/>
<line x1="332.8" y1="338.0" x2="332.8" y2="343.6" stroke="#e2402a" stroke-width="1.0"/>
<line x1="323.8" y1="338.0" x2="341.8" y2="338.0" stroke="#e2402a" stroke-width="1.0"/>
<line x1="323.8" y1="343.6" x2="341.8" y2="343.6" stroke="#e2402a" stroke-width="1.0"/>
<line x1="334.8" y1="338.0" x2="334.8" y2="343.6" stroke="#e2402a" stroke-width="1.0"/>
<line x1="325.8" y1="338.0" x2="343.8" y2="338.0" stroke="#e2402a" stroke-width="1.0"/>
<line x1="325.8" y1="343.6" x2="343.8" y2="343.6" stroke="#e2402a" stroke-width="1.0"/>
<line x1="336.8" y1="338.0" x2="336.8" y2="343.6" stroke="#e2402a" stroke-width="1.0"/>
<line x1="327.8" y1="338.0" x2="345.8" y2="338.0" stroke="#e2402a" stroke-width="1.0"/>
<line x1="327.8" y1="343.6" x2="345.8" y2="343.6" stroke="#e2402a" stroke-width="1.0"/>
<line x1="338.8" y1="338.0" x2="338.8" y2="343.6" stroke="#e2402a" stroke-width="1.0"/>
<line x1="329.8" y1="338.0" x2="347.8" y2="338.0" stroke="#e2402a" stroke-width="1.0"/>
<line x1="329.8" y1="343.6" x2="347.8" y2="343.6" stroke="#e2402a" stroke-width="1.0"/>
<line x1="340.9" y1="338.0" x2="340.9" y2="343.6" stroke="#e2402a" stroke-width="1.0"/>
<line x1="331.9" y1="338.0" x2="349.9" y2="338.0" stroke="#e2402a" stroke-width="1.0"/>
<line x1="331.9" y1="343.6" x2="349.9" y2="343.6" stroke="#e2402a" stroke-width="1.0"/>
<line x1="342.9" y1="338.0" x2="342.9" y2="343.6" stroke="#e2402a" stroke-width="1.0"/>
<line x1="333.9" y1="338.0" x2="351.9" y2="338.0" stroke="#e2402a" stroke-width="1.0"/>
<line x1="333.9" y1="343.6" x2="351.9" y2="343.6" stroke="#e2402a" stroke-width="1.0"/>
<line x1="344.9" y1="338.0" x2="344.9" y2="343.6" stroke="#e2402a" stroke-width="1.0"/>
<line x1="335.9" y1="338.0" x2="353.9" y2="338.0" stroke="#e2402a" stroke-width="1.0"/>
<line x1="335.9" y1="343.6" x2="353.9" y2="343.6" stroke="#e2402a" stroke-width="1.0"/>
<line x1="346.9" y1="338.0" x2="346.9" y2="343.6" stroke="#e2402a" stroke-width="1.0"/>
<line x1="337.9" y1="338.0" x2="355.9" y2="338.0" stroke="#e2402a" stroke-width="1.0"/>
<line x1="337.9" y1="343.6" x2="355.9" y2="343.6" stroke="#e2402a" stroke-width="1.0"/>
<line x1="348.9" y1="338.0" x2="348.9" y2="343.6" stroke="#e2402a" stroke-width="1.0"/>
<line x1="339.9" y1="338.0" x2="357.9" y2="338.0" stroke="#e2402a" stroke-width="1.0"/>
<line x1="339.9" y1="343.6" x2="357.9" y2="343.6" stroke="#e2402a" stroke-width="1.0"/>
<line x1="350.9" y1="338.0" x2="350.9" y2="343.6" stroke="#e2402a" stroke-width="1.0"/>
<line x1="341.9" y1="338.0" x2="359.9" y2="338.0" stroke="#e2402a" stroke-width="1.0"/>
<line x1="341.9" y1="343.6" x2="359.9" y2="343.6" stroke="#e2402a" stroke-width="1.0"/>
<line x1="352.9" y1="338.0" x2="352.9" y2="343.6" stroke="#e2402a" stroke-width="1.0"/>
<line x1="343.9" y1="338.0" x2="361.9" y2="338.0" stroke="#e2402a" stroke-width="1.0"/>
<line x1="343.9" y1="343.6" x2="361.9" y2="343.6" stroke="#e2402a" stroke-width="1.0"/>
<line x1="354.9" y1="338.0" x2="354.9" y2="343.6" stroke="#e2402a" stroke-width="1.0"/>
<line x1="345.9" y1="338.0" x2="363.9" y2="338.0" stroke="#e2402a" stroke-width="1.0"/>
<line x1="345.9" y1="343.6" x2="363.9" y2="343.6" stroke="#e2402a" stroke-width="1.0"/>
<line x1="356.9" y1="338.0" x2="356.9" y2="343.6" stroke="#e2402a" stroke-width="1.0"/>
<line x1="347.9" y1="338.0" x2="365.9" y2="338.0" stroke="#e2402a" stroke-width="1.0"/>
<line x1="347.9" y1="343.6" x2="365.9" y2="343.6" stroke="#e2402a" stroke-width="1.0"/>
<line x1="358.9" y1="338.0" x2="358.9" y2="343.6" stroke="#e2402a" stroke-width="1.0"/>
<line x1="349.9" y1="338.0" x2="367.9" y2="338.0" stroke="#e2402a" stroke-width="1.0"/>
<line x1="349.9" y1="343.6" x2="367.9" y2="343.6" stroke="#e2402a" stroke-width="1.0"/>
<line x1="360.9" y1="338.0" x2="360.9" y2="343.6" stroke="#e2402a" stroke-width="1.0"/>
<line x1="351.9" y1="338.0" x2="369.9" y2="338.0" stroke="#e2402a" stroke-width="1.0"/>
<line x1="351.9" y1="343.6" x2="369.9" y2="343.6" stroke="#e2402a" stroke-width="1.0"/>
<line x1="362.9" y1="338.0" x2="362.9" y2="343.6" stroke="#e2402a" stroke-width="1.0"/>
<line x1="353.9" y1="338.0" x2="371.9" y2="338.0" stroke="#e2402a" stroke-width="1.0"/>
<line x1="353.9" y1="343.6" x2="371.9" y2="343.6" stroke="#e2402a" stroke-width="1.0"/>
<line x1="364.9" y1="338.0" x2="364.9" y2="343.6" stroke="#e2402a" stroke-width="1.0"/>
<line x1="355.9" y1="338.0" x2="373.9" y2="338.0" stroke="#e2402a" stroke-width="1.0"/>
<line x1="355.9" y1="343.6" x2="373.9" y2="343.6" stroke="#e2402a" stroke-width="1.0"/>
<line x1="367.0" y1="338.0" x2="367.0" y2="343.6" stroke="#e2402a" stroke-width="1.0"/>
<line x1="358.0" y1="338.0" x2="376.0" y2="338.0" stroke="#e2402a" stroke-width="1.0"/>
<line x1="358.0" y1="343.6" x2="376.0" y2="343.6" stroke="#e2402a" stroke-width="1.0"/>
<line x1="369.0" y1="338.0" x2="369.0" y2="343.6" stroke="#e2402a" stroke-width="1.0"/>
<line x1="360.0" y1="338.0" x2="378.0" y2="338.0" stroke="#e2402a" stroke-width="1.0"/>
<line x1="360.0" y1="343.6" x2="378.0" y2="343.6" stroke="#e2402a" stroke-width="1.0"/>
<line x1="371.0" y1="338.0" x2="371.0" y2="343.6" stroke="#e2402a" stroke-width="1.0"/>
<line x1="362.0" y1="338.0" x2="380.0" y2="338.0" stroke="#e2402a" stroke-width="1.0"/>
<line x1="362.0" y1="343.6" x2="380.0" y2="343.6" stroke="#e2402a" stroke-width="1.0"/>
<line x1="373.0" y1="338.0" x2="373.0" y2="343.6" stroke="#e2402a" stroke-width="1.0"/>
<line x1="364.0" y1="338.0" x2="382.0" y2="338.0" stroke="#e2402a" stroke-width="1.0"/>
<line x1="364.0" y1="343.6" x2="382.0" y2="343.6" stroke="#e2402a" stroke-width="1.0"/>
<line x1="375.0" y1="338.0" x2="375.0" y2="343.6" stroke="#e2402a" stroke-width="1.0"/>
<line x1="366.0" y1="338.0" x2="384.0" y2="338.0" stroke="#e2402a" stroke-width="1.0"/>
<line x1="366.0" y1="343.6" x2="384.0" y2="343.6" stroke="#e2402a" stroke-width="1.0"/>
<line x1="377.0" y1="338.0" x2="377.0" y2="343.6" stroke="#e2402a" stroke-width="1.0"/>
<line x1="368.0" y1="338.0" x2="386.0" y2="338.0" stroke="#e2402a" stroke-width="1.0"/>
<line x1="368.0" y1="343.6" x2="386.0" y2="343.6" stroke="#e2402a" stroke-width="1.0"/>
<path d="M136.0,332.3 L140.0,329.0 L144.0,325.6 L148.1,322.2 L152.1,318.9 L156.1,315.5 L160.1,310.7 L164.1,306.0 L168.1,301.2 L172.2,296.4 L176.2,291.7 L180.2,286.9 L184.2,282.4 L188.2,278.2 L192.2,274.0 L196.2,269.9 L200.3,265.7 L204.3,261.5 L208.3,257.3 L212.3,253.2 L216.3,249.0 L220.3,244.8 L224.4,240.7 L228.4,236.4 L232.4,232.1 L236.4,227.7 L240.4,223.4 L244.4,219.0 L248.5,214.7 L252.5,210.3 L256.5,206.0 L260.5,201.8 L264.5,197.5 L268.6,193.3 L272.6,189.1 L276.6,184.9 L280.6,180.6 L284.6,176.4 L288.6,172.2 L292.6,167.9 L296.7,163.7 L300.7,159.5 L304.7,155.2 L308.7,151.0 L312.7,146.8 L316.8,142.6 L320.8,139.1 L324.8,135.7 L328.8,132.2 L332.8,128.8 L336.8,125.3 L340.9,121.9 L344.9,118.4 L348.9,115.0 L352.9,111.6 L356.9,108.1 L360.9,104.7 L364.9,101.2 L369.0,97.8 L373.0,94.3 L377.0,90.9" stroke="#000" stroke-width="1.6" fill="none"/>
<line x1="136.0" y1="326.7" x2="136.0" y2="338.0" stroke="#000" stroke-width="1.25"/>
<line x1="126.0" y1="326.7" x2="146.0" y2="326.7" stroke="#000" stroke-width="1.25"/>
<line x1="126.0" y1="338.0" x2="146.0" y2="338.0" stroke="#000" stroke-width="1.25"/>
<line x1="140.0" y1="323.4" x2="140.0" y2="334.6" stroke="#000" stroke-width="1.25"/>
<line x1="130.0" y1="323.4" x2="150.0" y2="323.4" stroke="#000" stroke-width="1.25"/>
<line x1="130.0" y1="334.6" x2="150.0" y2="334.6" stroke="#000" stroke-width="1.25"/>
<line x1="144.0" y1="320.0" x2="144.0" y2="331.2" stroke="#000" stroke-width="1.25"/>
<line x1="134.0" y1="320.0" x2="154.0" y2="320.0" stroke="#000" stroke-width="1.25"/>
<line x1="134.0" y1="331.2" x2="154.0" y2="331.2" stroke="#000" stroke-width="1.25"/>
<line x1="148.1" y1="316.6" x2="148.1" y2="327.9" stroke="#000" stroke-width="1.25"/>
<line x1="138.1" y1="316.6" x2="158.1" y2="316.6" stroke="#000" stroke-width="1.25"/>
<line x1="138.1" y1="327.9" x2="158.1" y2="327.9" stroke="#000" stroke-width="1.25"/>
<line x1="152.1" y1="313.3" x2="152.1" y2="324.5" stroke="#000" stroke-width="1.25"/>
<line x1="142.1" y1="313.3" x2="162.1" y2="313.3" stroke="#000" stroke-width="1.25"/>
<line x1="142.1" y1="324.5" x2="162.1" y2="324.5" stroke="#000" stroke-width="1.25"/>
<line x1="156.1" y1="309.9" x2="156.1" y2="321.1" stroke="#000" stroke-width="1.25"/>
<line x1="146.1" y1="309.9" x2="166.1" y2="309.9" stroke="#000" stroke-width="1.25"/>
<line x1="146.1" y1="321.1" x2="166.1" y2="321.1" stroke="#000" stroke-width="1.25"/>
<line x1="160.1" y1="305.1" x2="160.1" y2="316.3" stroke="#000" stroke-width="1.25"/>
<line x1="150.1" y1="305.1" x2="170.1" y2="305.1" stroke="#000" stroke-width="1.25"/>
<line x1="150.1" y1="316.3" x2="170.1" y2="316.3" stroke="#000" stroke-width="1.25"/>
<line x1="164.1" y1="300.4" x2="164.1" y2="311.6" stroke="#000" stroke-width="1.25"/>
<line x1="154.1" y1="300.4" x2="174.1" y2="300.4" stroke="#000" stroke-width="1.25"/>
<line x1="154.1" y1="311.6" x2="174.1" y2="311.6" stroke="#000" stroke-width="1.25"/>
<line x1="168.1" y1="295.6" x2="168.1" y2="306.8" stroke="#000" stroke-width="1.25"/>
<line x1="158.1" y1="295.6" x2="178.1" y2="295.6" stroke="#000" stroke-width="1.25"/>
<line x1="158.1" y1="306.8" x2="178.1" y2="306.8" stroke="#000" stroke-width="1.25"/>
<line x1="172.2" y1="290.8" x2="172.2" y2="302.1" stroke="#000" stroke-width="1.25"/>
<line x1="162.2" y1="290.8" x2="182.2" y2="290.8" stroke="#000" stroke-width="1.25"/>
<line x1="162.2" y1="302.1" x2="182.2" y2="302.1" stroke="#000" stroke-width="1.25"/>
<line x1="176.2" y1="286.1" x2="176.2" y2="297.3" stroke="#000" stroke-width="1.25"/>
<line x1="166.2" y1="286.1" x2="186.2" y2="286.1" stroke="#000" stroke-width="1.25"/>
<line x1="166.2" y1="297.3" x2="186.2" y2="297.3" stroke="#000" stroke-width="1.25"/>
<line x1="180.2" y1="281.3" x2="180.2" y2="292.5" stroke="#000" stroke-width="1.25"/>
<line x1="170.2" y1="281.3" x2="190.2" y2="281.3" stroke="#000" stroke-width="1.25"/>
<line x1="170.2" y1="292.5" x2="190.2" y2="292.5" stroke="#000" stroke-width="1.25"/>
<line x1="184.2" y1="276.8" x2="184.2" y2="288.0" stroke="#000" stroke-width="1.25"/>
<line x1="174.2" y1="276.8" x2="194.2" y2="276.8" stroke="#000" stroke-width="1.25"/>
<line x1="174.2" y1="288.0" x2="194.2" y2="288.0" stroke="#000" stroke-width="1.25"/>
<line x1="188.2" y1="272.6" x2="188.2" y2="283.8" stroke="#000" stroke-width="1.25"/>
<line x1="178.2" y1="272.6" x2="198.2" y2="272.6" stroke="#000" stroke-width="1.25"/>
<line x1="178.2" y1="283.8" x2="198.2" y2="283.8" stroke="#000" stroke-width="1.25"/>
<line x1="192.2" y1="268.4" x2="192.2" y2="279.7" stroke="#000" stroke-width="1.25"/>
<line x1="182.2" y1="268.4" x2="202.2" y2="268.4" stroke="#000" stroke-width="1.25"/>
<line x1="182.2" y1="279.7" x2="202.2" y2="279.7" stroke="#000" stroke-width="1.25"/>
<line x1="196.2" y1="264.3" x2="196.2" y2="275.5" stroke="#000" stroke-width="1.25"/>
<line x1="186.2" y1="264.3" x2="206.2" y2="264.3" stroke="#000" stroke-width="1.25"/>
<line x1="186.2" y1="275.5" x2="206.2" y2="275.5" stroke="#000" stroke-width="1.25"/>
<line x1="200.3" y1="260.1" x2="200.3" y2="271.3" stroke="#000" stroke-width="1.25"/>
<line x1="190.3" y1="260.1" x2="210.3" y2="260.1" stroke="#000" stroke-width="1.25"/>
<line x1="190.3" y1="271.3" x2="210.3" y2="271.3" stroke="#000" stroke-width="1.25"/>
<line x1="204.3" y1="255.9" x2="204.3" y2="267.1" stroke="#000" stroke-width="1.25"/>
<line x1="194.3" y1="255.9" x2="214.3" y2="255.9" stroke="#000" stroke-width="1.25"/>
<line x1="194.3" y1="267.1" x2="214.3" y2="267.1" stroke="#000" stroke-width="1.25"/>
<line x1="208.3" y1="251.7" x2="208.3" y2="263.0" stroke="#000" stroke-width="1.25"/>
<line x1="198.3" y1="251.7" x2="218.3" y2="251.7" stroke="#000" stroke-width="1.25"/>
<line x1="198.3" y1="263.0" x2="218.3" y2="263.0" stroke="#000" stroke-width="1.25"/>
<line x1="212.3" y1="247.6" x2="212.3" y2="258.8" stroke="#000" stroke-width="1.25"/>
<line x1="202.3" y1="247.6" x2="222.3" y2="247.6" stroke="#000" stroke-width="1.25"/>
<line x1="202.3" y1="258.8" x2="222.3" y2="258.8" stroke="#000" stroke-width="1.25"/>
<line x1="216.3" y1="243.4" x2="216.3" y2="254.6" stroke="#000" stroke-width="1.25"/>
<line x1="206.3" y1="243.4" x2="226.3" y2="243.4" stroke="#000" stroke-width="1.25"/>
<line x1="206.3" y1="254.6" x2="226.3" y2="254.6" stroke="#000" stroke-width="1.25"/>
<line x1="220.3" y1="239.2" x2="220.3" y2="250.4" stroke="#000" stroke-width="1.25"/>
<line x1="210.3" y1="239.2" x2="230.3" y2="239.2" stroke="#000" stroke-width="1.25"/>
<line x1="210.3" y1="250.4" x2="230.3" y2="250.4" stroke="#000" stroke-width="1.25"/>
<line x1="224.4" y1="235.0" x2="224.4" y2="246.3" stroke="#000" stroke-width="1.25"/>
<line x1="214.4" y1="235.0" x2="234.4" y2="235.0" stroke="#000" stroke-width="1.25"/>
<line x1="214.4" y1="246.3" x2="234.4" y2="246.3" stroke="#000" stroke-width="1.25"/>
<line x1="228.4" y1="230.8" x2="228.4" y2="242.0" stroke="#000" stroke-width="1.25"/>
<line x1="218.4" y1="230.8" x2="238.4" y2="230.8" stroke="#000" stroke-width="1.25"/>
<line x1="218.4" y1="242.0" x2="238.4" y2="242.0" stroke="#000" stroke-width="1.25"/>
<line x1="232.4" y1="226.4" x2="232.4" y2="237.7" stroke="#000" stroke-width="1.25"/>
<line x1="222.4" y1="226.4" x2="242.4" y2="226.4" stroke="#000" stroke-width="1.25"/>
<line x1="222.4" y1="237.7" x2="242.4" y2="237.7" stroke="#000" stroke-width="1.25"/>
<line x1="236.4" y1="222.1" x2="236.4" y2="233.3" stroke="#000" stroke-width="1.25"/>
<line x1="226.4" y1="222.1" x2="246.4" y2="222.1" stroke="#000" stroke-width="1.25"/>
<line x1="226.4" y1="233.3" x2="246.4" y2="233.3" stroke="#000" stroke-width="1.25"/>
<line x1="240.4" y1="217.8" x2="240.4" y2="229.0" stroke="#000" stroke-width="1.25"/>
<line x1="230.4" y1="217.8" x2="250.4" y2="217.8" stroke="#000" stroke-width="1.25"/>
<line x1="230.4" y1="229.0" x2="250.4" y2="229.0" stroke="#000" stroke-width="1.25"/>
<line x1="244.4" y1="213.4" x2="244.4" y2="224.6" stroke="#000" stroke-width="1.25"/>
<line x1="234.4" y1="213.4" x2="254.4" y2="213.4" stroke="#000" stroke-width="1.25"/>
<line x1="234.4" y1="224.6" x2="254.4" y2="224.6" stroke="#000" stroke-width="1.25"/>
<line x1="248.5" y1="209.1" x2="248.5" y2="220.3" stroke="#000" stroke-width="1.25"/>
<line x1="238.5" y1="209.1" x2="258.5" y2="209.1" stroke="#000" stroke-width="1.25"/>
<line x1="238.5" y1="220.3" x2="258.5" y2="220.3" stroke="#000" stroke-width="1.25"/>
<line x1="252.5" y1="204.7" x2="252.5" y2="216.0" stroke="#000" stroke-width="1.25"/>
<line x1="242.5" y1="204.7" x2="262.5" y2="204.7" stroke="#000" stroke-width="1.25"/>
<line x1="242.5" y1="216.0" x2="262.5" y2="216.0" stroke="#000" stroke-width="1.25"/>
<line x1="256.5" y1="200.4" x2="256.5" y2="211.6" stroke="#000" stroke-width="1.25"/>
<line x1="246.5" y1="200.4" x2="266.5" y2="200.4" stroke="#000" stroke-width="1.25"/>
<line x1="246.5" y1="211.6" x2="266.5" y2="211.6" stroke="#000" stroke-width="1.25"/>
<line x1="260.5" y1="196.2" x2="260.5" y2="207.4" stroke="#000" stroke-width="1.25"/>
<line x1="250.5" y1="196.2" x2="270.5" y2="196.2" stroke="#000" stroke-width="1.25"/>
<line x1="250.5" y1="207.4" x2="270.5" y2="207.4" stroke="#000" stroke-width="1.25"/>
<line x1="264.5" y1="191.9" x2="264.5" y2="203.2" stroke="#000" stroke-width="1.25"/>
<line x1="254.5" y1="191.9" x2="274.5" y2="191.9" stroke="#000" stroke-width="1.25"/>
<line x1="254.5" y1="203.2" x2="274.5" y2="203.2" stroke="#000" stroke-width="1.25"/>
<line x1="268.6" y1="187.7" x2="268.6" y2="198.9" stroke="#000" stroke-width="1.25"/>
<line x1="258.6" y1="187.7" x2="278.6" y2="187.7" stroke="#000" stroke-width="1.25"/>
<line x1="258.6" y1="198.9" x2="278.6" y2="198.9" stroke="#000" stroke-width="1.25"/>
<line x1="272.6" y1="183.5" x2="272.6" y2="194.7" stroke="#000" stroke-width="1.25"/>
<line x1="262.6" y1="183.5" x2="282.6" y2="183.5" stroke="#000" stroke-width="1.25"/>
<line x1="262.6" y1="194.7" x2="282.6" y2="194.7" stroke="#000" stroke-width="1.25"/>
<line x1="276.6" y1="179.2" x2="276.6" y2="190.5" stroke="#000" stroke-width="1.25"/>
<line x1="266.6" y1="179.2" x2="286.6" y2="179.2" stroke="#000" stroke-width="1.25"/>
<line x1="266.6" y1="190.5" x2="286.6" y2="190.5" stroke="#000" stroke-width="1.25"/>
<line x1="280.6" y1="175.0" x2="280.6" y2="186.2" stroke="#000" stroke-width="1.25"/>
<line x1="270.6" y1="175.0" x2="290.6" y2="175.0" stroke="#000" stroke-width="1.25"/>
<line x1="270.6" y1="186.2" x2="290.6" y2="186.2" stroke="#000" stroke-width="1.25"/>
<line x1="284.6" y1="170.8" x2="284.6" y2="182.0" stroke="#000" stroke-width="1.25"/>
<line x1="274.6" y1="170.8" x2="294.6" y2="170.8" stroke="#000" stroke-width="1.25"/>
<line x1="274.6" y1="182.0" x2="294.6" y2="182.0" stroke="#000" stroke-width="1.25"/>
<line x1="288.6" y1="166.6" x2="288.6" y2="177.8" stroke="#000" stroke-width="1.25"/>
<line x1="278.6" y1="166.6" x2="298.6" y2="166.6" stroke="#000" stroke-width="1.25"/>
<line x1="278.6" y1="177.8" x2="298.6" y2="177.8" stroke="#000" stroke-width="1.25"/>
<line x1="292.6" y1="162.3" x2="292.6" y2="173.6" stroke="#000" stroke-width="1.25"/>
<line x1="282.6" y1="162.3" x2="302.6" y2="162.3" stroke="#000" stroke-width="1.25"/>
<line x1="282.6" y1="173.6" x2="302.6" y2="173.6" stroke="#000" stroke-width="1.25"/>
<line x1="296.7" y1="158.1" x2="296.7" y2="169.3" stroke="#000" stroke-width="1.25"/>
<line x1="286.7" y1="158.1" x2="306.7" y2="158.1" stroke="#000" stroke-width="1.25"/>
<line x1="286.7" y1="169.3" x2="306.7" y2="169.3" stroke="#000" stroke-width="1.25"/>
<line x1="300.7" y1="153.9" x2="300.7" y2="165.1" stroke="#000" stroke-width="1.25"/>
<line x1="290.7" y1="153.9" x2="310.7" y2="153.9" stroke="#000" stroke-width="1.25"/>
<line x1="290.7" y1="165.1" x2="310.7" y2="165.1" stroke="#000" stroke-width="1.25"/>
<line x1="304.7" y1="149.6" x2="304.7" y2="160.9" stroke="#000" stroke-width="1.25"/>
<line x1="294.7" y1="149.6" x2="314.7" y2="149.6" stroke="#000" stroke-width="1.25"/>
<line x1="294.7" y1="160.9" x2="314.7" y2="160.9" stroke="#000" stroke-width="1.25"/>
<line x1="308.7" y1="145.4" x2="308.7" y2="156.6" stroke="#000" stroke-width="1.25"/>
<line x1="298.7" y1="145.4" x2="318.7" y2="145.4" stroke="#000" stroke-width="1.25"/>
<line x1="298.7" y1="156.6" x2="318.7" y2="156.6" stroke="#000" stroke-width="1.25"/>
<line x1="312.7" y1="141.2" x2="312.7" y2="152.4" stroke="#000" stroke-width="1.25"/>
<line x1="302.7" y1="141.2" x2="322.7" y2="141.2" stroke="#000" stroke-width="1.25"/>
<line x1="302.7" y1="152.4" x2="322.7" y2="152.4" stroke="#000" stroke-width="1.25"/>
<line x1="316.8" y1="136.9" x2="316.8" y2="148.2" stroke="#000" stroke-width="1.25"/>
<line x1="306.8" y1="136.9" x2="326.8" y2="136.9" stroke="#000" stroke-width="1.25"/>
<line x1="306.8" y1="148.2" x2="326.8" y2="148.2" stroke="#000" stroke-width="1.25"/>
<line x1="320.8" y1="133.5" x2="320.8" y2="144.7" stroke="#000" stroke-width="1.25"/>
<line x1="310.8" y1="133.5" x2="330.8" y2="133.5" stroke="#000" stroke-width="1.25"/>
<line x1="310.8" y1="144.7" x2="330.8" y2="144.7" stroke="#000" stroke-width="1.25"/>
<line x1="324.8" y1="130.1" x2="324.8" y2="141.3" stroke="#000" stroke-width="1.25"/>
<line x1="314.8" y1="130.1" x2="334.8" y2="130.1" stroke="#000" stroke-width="1.25"/>
<line x1="314.8" y1="141.3" x2="334.8" y2="141.3" stroke="#000" stroke-width="1.25"/>
<line x1="328.8" y1="126.6" x2="328.8" y2="137.8" stroke="#000" stroke-width="1.25"/>
<line x1="318.8" y1="126.6" x2="338.8" y2="126.6" stroke="#000" stroke-width="1.25"/>
<line x1="318.8" y1="137.8" x2="338.8" y2="137.8" stroke="#000" stroke-width="1.25"/>
<line x1="332.8" y1="123.2" x2="332.8" y2="134.4" stroke="#000" stroke-width="1.25"/>
<line x1="322.8" y1="123.2" x2="342.8" y2="123.2" stroke="#000" stroke-width="1.25"/>
<line x1="322.8" y1="134.4" x2="342.8" y2="134.4" stroke="#000" stroke-width="1.25"/>
<line x1="336.8" y1="119.7" x2="336.8" y2="131.0" stroke="#000" stroke-width="1.25"/>
<line x1="326.8" y1="119.7" x2="346.8" y2="119.7" stroke="#000" stroke-width="1.25"/>
<line x1="326.8" y1="131.0" x2="346.8" y2="131.0" stroke="#000" stroke-width="1.25"/>
<line x1="340.9" y1="116.3" x2="340.9" y2="127.5" stroke="#000" stroke-width="1.25"/>
<line x1="330.9" y1="116.3" x2="350.9" y2="116.3" stroke="#000" stroke-width="1.25"/>
<line x1="330.9" y1="127.5" x2="350.9" y2="127.5" stroke="#000" stroke-width="1.25"/>
<line x1="344.9" y1="112.8" x2="344.9" y2="124.1" stroke="#000" stroke-width="1.25"/>
<line x1="334.9" y1="112.8" x2="354.9" y2="112.8" stroke="#000" stroke-width="1.25"/>
<line x1="334.9" y1="124.1" x2="354.9" y2="124.1" stroke="#000" stroke-width="1.25"/>
<line x1="348.9" y1="109.4" x2="348.9" y2="120.6" stroke="#000" stroke-width="1.25"/>
<line x1="338.9" y1="109.4" x2="358.9" y2="109.4" stroke="#000" stroke-width="1.25"/>
<line x1="338.9" y1="120.6" x2="358.9" y2="120.6" stroke="#000" stroke-width="1.25"/>
<line x1="352.9" y1="105.9" x2="352.9" y2="117.2" stroke="#000" stroke-width="1.25"/>
<line x1="342.9" y1="105.9" x2="362.9" y2="105.9" stroke="#000" stroke-width="1.25"/>
<line x1="342.9" y1="117.2" x2="362.9" y2="117.2" stroke="#000" stroke-width="1.25"/>
<line x1="356.9" y1="102.5" x2="356.9" y2="113.7" stroke="#000" stroke-width="1.25"/>
<line x1="346.9" y1="102.5" x2="366.9" y2="102.5" stroke="#000" stroke-width="1.25"/>
<line x1="346.9" y1="113.7" x2="366.9" y2="113.7" stroke="#000" stroke-width="1.25"/>
<line x1="360.9" y1="99.1" x2="360.9" y2="110.3" stroke="#000" stroke-width="1.25"/>
<line x1="350.9" y1="99.1" x2="370.9" y2="99.1" stroke="#000" stroke-width="1.25"/>
<line x1="350.9" y1="110.3" x2="370.9" y2="110.3" stroke="#000" stroke-width="1.25"/>
<line x1="364.9" y1="95.6" x2="364.9" y2="106.8" stroke="#000" stroke-width="1.25"/>
<line x1="354.9" y1="95.6" x2="374.9" y2="95.6" stroke="#000" stroke-width="1.25"/>
<line x1="354.9" y1="106.8" x2="374.9" y2="106.8" stroke="#000" stroke-width="1.25"/>
<line x1="369.0" y1="92.2" x2="369.0" y2="103.4" stroke="#000" stroke-width="1.25"/>
<line x1="359.0" y1="92.2" x2="379.0" y2="92.2" stroke="#000" stroke-width="1.25"/>
<line x1="359.0" y1="103.4" x2="379.0" y2="103.4" stroke="#000" stroke-width="1.25"/>
<line x1="373.0" y1="88.7" x2="373.0" y2="100.0" stroke="#000" stroke-width="1.25"/>
<line x1="363.0" y1="88.7" x2="383.0" y2="88.7" stroke="#000" stroke-width="1.25"/>
<line x1="363.0" y1="100.0" x2="383.0" y2="100.0" stroke="#000" stroke-width="1.25"/>
<line x1="377.0" y1="85.3" x2="377.0" y2="96.5" stroke="#000" stroke-width="1.25"/>
<line x1="367.0" y1="85.3" x2="387.0" y2="85.3" stroke="#000" stroke-width="1.25"/>
<line x1="367.0" y1="96.5" x2="387.0" y2="96.5" stroke="#000" stroke-width="1.25"/>
<line x1="136.0" y1="53.4" x2="136.0" y2="401.3" stroke="#000" stroke-width="2.2"/>
<line x1="123.0" y1="391.3" x2="136.0" y2="391.3" stroke="#000" stroke-width="2.0"/>
<text transform="translate(117.00,399.70) scale(1,1.04)" font-size="25.5" text-anchor="end">0</text>
<line x1="123.0" y1="279.0" x2="136.0" y2="279.0" stroke="#000" stroke-width="2.0"/>
<text transform="translate(117.00,287.40) scale(1,1.04)" font-size="25.5" text-anchor="end">2</text>
<line x1="123.0" y1="166.7" x2="136.0" y2="166.7" stroke="#000" stroke-width="2.0"/>
<text transform="translate(117.00,175.10) scale(1,1.04)" font-size="25.5" text-anchor="end">4</text>
<line x1="123.0" y1="54.4" x2="136.0" y2="54.4" stroke="#000" stroke-width="2.0"/>
<text transform="translate(117.00,62.80) scale(1,1.04)" font-size="25.5" text-anchor="end">6</text>
<line x1="123.0" y1="391.3" x2="378.0" y2="391.3" stroke="#000" stroke-width="2.2"/>
<line x1="136.0" y1="391.3" x2="136.0" y2="401.3" stroke="#000" stroke-width="2.0"/>
<text transform="translate(135.00,427.30) scale(1,1.04)" font-size="25.5" text-anchor="middle">0</text>
<line x1="256.5" y1="391.3" x2="256.5" y2="401.3" stroke="#000" stroke-width="2.0"/>
<text transform="translate(255.50,427.30) scale(1,1.04)" font-size="25.5" text-anchor="middle">30</text>
<line x1="377.0" y1="391.3" x2="377.0" y2="401.3" stroke="#000" stroke-width="2.0"/>
<text transform="translate(376.00,427.30) scale(1,1.04)" font-size="25.5" text-anchor="middle">60</text>
<text transform="translate(152.00,72.20) scale(1,1.04)" font-size="24.5">Veh</text>
<text transform="translate(151.00,101.00) scale(1,1.04)" font-size="24.5" fill="#d2352a">E64-DNA</text>
<g font-family="'Liberation Sans', Arial, Helvetica, sans-serif">
<text transform="translate(87.50,221.50) rotate(-90) scale(1,1.04)" font-size="29" text-anchor="middle" font-weight="bold">Fold change (I/Io)</text>
</g>
<path d="M396,91.5 H414.3 V197 M414.3,228 V341.8 H395.5" stroke="#000" stroke-width="1.8" fill="none"/>
<text transform="translate(357.00,219.50) scale(1,1.04)" font-size="21" font-style="italic">p&lt;1.0E-4</text>
<text transform="translate(274.50,462.00) scale(1,1.04)" font-size="28.5" text-anchor="middle" font-weight="bold">Time (min)</text>
<text transform="translate(621.00,27.30) scale(1,1.04)" font-size="29.1" text-anchor="middle">CTSL</text>
<path d="M485.0,279.4 L489.0,279.4 L493.1,279.4 L497.1,279.4 L501.2,279.4 L505.2,279.4 L509.2,280.7 L513.3,282.0 L517.3,283.3 L521.4,284.5 L525.4,285.8 L529.4,287.1 L533.5,288.4 L537.5,288.0 L541.6,287.7 L545.6,287.3 L549.6,288.0 L553.7,288.8 L557.7,289.5 L561.8,290.1 L565.8,290.7 L569.8,290.7 L573.9,290.7 L577.9,290.7 L582.0,290.7 L586.0,290.7 L590.0,291.0 L594.1,291.4 L598.1,291.8 L602.2,292.6 L606.2,293.5 L610.2,294.3 L614.3,295.2 L618.3,294.6 L622.4,294.0 L626.4,293.5 L630.4,292.9 L634.5,293.2 L638.5,293.5 L642.6,293.8 L646.6,294.0 L650.6,295.0 L654.7,296.0 L658.7,297.0 L662.8,298.0 L666.8,298.0 L670.8,298.0 L674.9,298.1 L678.9,298.1 L683.0,298.2 L687.0,298.2 L691.0,298.2 L695.1,298.3 L699.1,298.3 L703.2,298.3 L707.2,298.4 L711.2,298.4 L715.3,298.4 L719.3,298.5 L723.4,298.5 L727.4,298.5" stroke="#e2402a" stroke-width="2.0" fill="none"/>
<line x1="485.0" y1="277.7" x2="485.0" y2="281.1" stroke="#e2402a" stroke-width="1.6"/>
<line x1="478.0" y1="277.7" x2="492.0" y2="277.7" stroke="#e2402a" stroke-width="1.6"/>
<line x1="478.0" y1="281.1" x2="492.0" y2="281.1" stroke="#e2402a" stroke-width="1.6"/>
<line x1="493.1" y1="277.7" x2="493.1" y2="281.1" stroke="#e2402a" stroke-width="1.6"/>
<line x1="486.1" y1="277.7" x2="500.1" y2="277.7" stroke="#e2402a" stroke-width="1.6"/>
<line x1="486.1" y1="281.1" x2="500.1" y2="281.1" stroke="#e2402a" stroke-width="1.6"/>
<line x1="501.2" y1="278.0" x2="501.2" y2="280.8" stroke="#e2402a" stroke-width="1.6"/>
<line x1="494.2" y1="278.0" x2="508.2" y2="278.0" stroke="#e2402a" stroke-width="1.6"/>
<line x1="494.2" y1="280.8" x2="508.2" y2="280.8" stroke="#e2402a" stroke-width="1.6"/>
<line x1="545.6" y1="285.6" x2="545.6" y2="289.0" stroke="#e2402a" stroke-width="1.6"/>
<line x1="538.6" y1="285.6" x2="552.6" y2="285.6" stroke="#e2402a" stroke-width="1.6"/>
<line x1="538.6" y1="289.0" x2="552.6" y2="289.0" stroke="#e2402a" stroke-width="1.6"/>
<line x1="553.7" y1="287.4" x2="553.7" y2="290.1" stroke="#e2402a" stroke-width="1.6"/>
<line x1="546.7" y1="287.4" x2="560.7" y2="287.4" stroke="#e2402a" stroke-width="1.6"/>
<line x1="546.7" y1="290.1" x2="560.7" y2="290.1" stroke="#e2402a" stroke-width="1.6"/>
<line x1="565.8" y1="289.3" x2="565.8" y2="292.0" stroke="#e2402a" stroke-width="1.6"/>
<line x1="558.8" y1="289.3" x2="572.8" y2="289.3" stroke="#e2402a" stroke-width="1.6"/>
<line x1="558.8" y1="292.0" x2="572.8" y2="292.0" stroke="#e2402a" stroke-width="1.6"/>
<line x1="573.9" y1="289.0" x2="573.9" y2="292.3" stroke="#e2402a" stroke-width="1.6"/>
<line x1="566.9" y1="289.0" x2="580.9" y2="289.0" stroke="#e2402a" stroke-width="1.6"/>
<line x1="566.9" y1="292.3" x2="580.9" y2="292.3" stroke="#e2402a" stroke-width="1.6"/>
<line x1="582.0" y1="289.3" x2="582.0" y2="292.0" stroke="#e2402a" stroke-width="1.6"/>
<line x1="575.0" y1="289.3" x2="589.0" y2="289.3" stroke="#e2402a" stroke-width="1.6"/>
<line x1="575.0" y1="292.0" x2="589.0" y2="292.0" stroke="#e2402a" stroke-width="1.6"/>
<line x1="590.0" y1="289.7" x2="590.0" y2="292.4" stroke="#e2402a" stroke-width="1.6"/>
<line x1="583.0" y1="289.7" x2="597.0" y2="289.7" stroke="#e2402a" stroke-width="1.6"/>
<line x1="583.0" y1="292.4" x2="597.0" y2="292.4" stroke="#e2402a" stroke-width="1.6"/>
<line x1="598.1" y1="290.4" x2="598.1" y2="293.1" stroke="#e2402a" stroke-width="1.6"/>
<line x1="591.1" y1="290.4" x2="605.1" y2="290.4" stroke="#e2402a" stroke-width="1.6"/>
<line x1="591.1" y1="293.1" x2="605.1" y2="293.1" stroke="#e2402a" stroke-width="1.6"/>
<line x1="614.3" y1="293.5" x2="614.3" y2="296.9" stroke="#e2402a" stroke-width="1.6"/>
<line x1="607.3" y1="293.5" x2="621.3" y2="293.5" stroke="#e2402a" stroke-width="1.6"/>
<line x1="607.3" y1="296.9" x2="621.3" y2="296.9" stroke="#e2402a" stroke-width="1.6"/>
<line x1="630.4" y1="290.7" x2="630.4" y2="295.2" stroke="#e2402a" stroke-width="1.6"/>
<line x1="623.4" y1="290.7" x2="637.4" y2="290.7" stroke="#e2402a" stroke-width="1.6"/>
<line x1="623.4" y1="295.2" x2="637.4" y2="295.2" stroke="#e2402a" stroke-width="1.6"/>
<line x1="642.6" y1="292.4" x2="642.6" y2="295.1" stroke="#e2402a" stroke-width="1.6"/>
<line x1="635.6" y1="292.4" x2="649.6" y2="292.4" stroke="#e2402a" stroke-width="1.6"/>
<line x1="635.6" y1="295.1" x2="649.6" y2="295.1" stroke="#e2402a" stroke-width="1.6"/>
<line x1="650.6" y1="293.7" x2="650.6" y2="296.4" stroke="#e2402a" stroke-width="1.6"/>
<line x1="643.6" y1="293.7" x2="657.6" y2="293.7" stroke="#e2402a" stroke-width="1.6"/>
<line x1="643.6" y1="296.4" x2="657.6" y2="296.4" stroke="#e2402a" stroke-width="1.6"/>
<path d="M485.0,270.4 L489.0,265.9 L493.1,263.3 L497.1,259.8 L501.2,254.9 L505.2,254.6 L509.2,251.5 L513.3,248.1 L517.3,247.5 L521.4,242.8 L525.4,239.3 L529.4,234.6 L533.5,234.8 L537.5,229.9 L541.6,227.4 L545.6,219.7 L549.6,216.6 L553.7,216.6 L557.7,207.5 L561.8,203.9 L565.8,202.0 L569.8,199.1 L573.9,198.7 L577.9,196.4 L582.0,190.5 L586.0,190.1 L590.0,186.3 L594.1,183.0 L598.1,181.2 L602.2,175.7 L606.2,172.8 L610.2,167.7 L614.3,166.7 L618.3,163.2 L622.4,161.2 L626.4,157.4 L630.4,155.8 L634.5,154.0 L638.5,147.1 L642.6,144.3 L646.6,142.4 L650.6,140.6 L654.7,140.4 L658.7,138.4 L662.8,135.6 L666.8,134.3 L670.8,127.9 L674.9,127.5 L678.9,122.5 L683.0,122.6 L687.0,116.9 L691.0,115.5 L695.1,118.3 L699.1,115.1 L703.2,109.1 L707.2,109.5 L711.2,104.6 L715.3,105.9 L719.3,105.7 L723.4,100.5 L727.4,97.7" stroke="#000" stroke-width="1.2" fill="none"/>
<line x1="485.0" y1="255.8" x2="485.0" y2="285.0" stroke="#000" stroke-width="1.15"/>
<line x1="478.0" y1="255.8" x2="492.0" y2="255.8" stroke="#000" stroke-width="1.15"/>
<line x1="478.0" y1="285.0" x2="492.0" y2="285.0" stroke="#000" stroke-width="1.15"/>
<line x1="489.0" y1="251.2" x2="489.0" y2="280.5" stroke="#000" stroke-width="1.15"/>
<line x1="482.0" y1="251.2" x2="496.0" y2="251.2" stroke="#000" stroke-width="1.15"/>
<line x1="482.0" y1="280.5" x2="496.0" y2="280.5" stroke="#000" stroke-width="1.15"/>
<line x1="493.1" y1="253.8" x2="493.1" y2="272.8" stroke="#000" stroke-width="1.15"/>
<line x1="486.1" y1="253.8" x2="500.1" y2="253.8" stroke="#000" stroke-width="1.15"/>
<line x1="486.1" y1="272.8" x2="500.1" y2="272.8" stroke="#000" stroke-width="1.15"/>
<line x1="497.1" y1="251.0" x2="497.1" y2="268.6" stroke="#000" stroke-width="1.15"/>
<line x1="490.1" y1="251.0" x2="504.1" y2="251.0" stroke="#000" stroke-width="1.15"/>
<line x1="490.1" y1="268.6" x2="504.1" y2="268.6" stroke="#000" stroke-width="1.15"/>
<line x1="501.2" y1="245.1" x2="501.2" y2="264.6" stroke="#000" stroke-width="1.15"/>
<line x1="494.2" y1="245.1" x2="508.2" y2="245.1" stroke="#000" stroke-width="1.15"/>
<line x1="494.2" y1="264.6" x2="508.2" y2="264.6" stroke="#000" stroke-width="1.15"/>
<line x1="505.2" y1="242.3" x2="505.2" y2="266.8" stroke="#000" stroke-width="1.15"/>
<line x1="498.2" y1="242.3" x2="512.2" y2="242.3" stroke="#000" stroke-width="1.15"/>
<line x1="498.2" y1="266.8" x2="512.2" y2="266.8" stroke="#000" stroke-width="1.15"/>
<line x1="509.2" y1="240.0" x2="509.2" y2="262.9" stroke="#000" stroke-width="1.15"/>
<line x1="502.2" y1="240.0" x2="516.2" y2="240.0" stroke="#000" stroke-width="1.15"/>
<line x1="502.2" y1="262.9" x2="516.2" y2="262.9" stroke="#000" stroke-width="1.15"/>
<line x1="513.3" y1="239.2" x2="513.3" y2="257.0" stroke="#000" stroke-width="1.15"/>
<line x1="506.3" y1="239.2" x2="520.3" y2="239.2" stroke="#000" stroke-width="1.15"/>
<line x1="506.3" y1="257.0" x2="520.3" y2="257.0" stroke="#000" stroke-width="1.15"/>
<line x1="517.3" y1="238.1" x2="517.3" y2="256.9" stroke="#000" stroke-width="1.15"/>
<line x1="510.3" y1="238.1" x2="524.3" y2="238.1" stroke="#000" stroke-width="1.15"/>
<line x1="510.3" y1="256.9" x2="524.3" y2="256.9" stroke="#000" stroke-width="1.15"/>
<line x1="521.4" y1="234.0" x2="521.4" y2="251.6" stroke="#000" stroke-width="1.15"/>
<line x1="514.4" y1="234.0" x2="528.4" y2="234.0" stroke="#000" stroke-width="1.15"/>
<line x1="514.4" y1="251.6" x2="528.4" y2="251.6" stroke="#000" stroke-width="1.15"/>
<line x1="525.4" y1="230.6" x2="525.4" y2="247.9" stroke="#000" stroke-width="1.15"/>
<line x1="518.4" y1="230.6" x2="532.4" y2="230.6" stroke="#000" stroke-width="1.15"/>
<line x1="518.4" y1="247.9" x2="532.4" y2="247.9" stroke="#000" stroke-width="1.15"/>
<line x1="529.4" y1="223.0" x2="529.4" y2="246.2" stroke="#000" stroke-width="1.15"/>
<line x1="522.4" y1="223.0" x2="536.4" y2="223.0" stroke="#000" stroke-width="1.15"/>
<line x1="522.4" y1="246.2" x2="536.4" y2="246.2" stroke="#000" stroke-width="1.15"/>
<line x1="533.5" y1="225.7" x2="533.5" y2="244.0" stroke="#000" stroke-width="1.15"/>
<line x1="526.5" y1="225.7" x2="540.5" y2="225.7" stroke="#000" stroke-width="1.15"/>
<line x1="526.5" y1="244.0" x2="540.5" y2="244.0" stroke="#000" stroke-width="1.15"/>
<line x1="537.5" y1="219.3" x2="537.5" y2="240.6" stroke="#000" stroke-width="1.15"/>
<line x1="530.5" y1="219.3" x2="544.5" y2="219.3" stroke="#000" stroke-width="1.15"/>
<line x1="530.5" y1="240.6" x2="544.5" y2="240.6" stroke="#000" stroke-width="1.15"/>
<line x1="541.6" y1="217.2" x2="541.6" y2="237.6" stroke="#000" stroke-width="1.15"/>
<line x1="534.6" y1="217.2" x2="548.6" y2="217.2" stroke="#000" stroke-width="1.15"/>
<line x1="534.6" y1="237.6" x2="548.6" y2="237.6" stroke="#000" stroke-width="1.15"/>
<line x1="545.6" y1="210.5" x2="545.6" y2="228.9" stroke="#000" stroke-width="1.15"/>
<line x1="538.6" y1="210.5" x2="552.6" y2="210.5" stroke="#000" stroke-width="1.15"/>
<line x1="538.6" y1="228.9" x2="552.6" y2="228.9" stroke="#000" stroke-width="1.15"/>
<line x1="549.6" y1="205.3" x2="549.6" y2="227.9" stroke="#000" stroke-width="1.15"/>
<line x1="542.6" y1="205.3" x2="556.6" y2="205.3" stroke="#000" stroke-width="1.15"/>
<line x1="542.6" y1="227.9" x2="556.6" y2="227.9" stroke="#000" stroke-width="1.15"/>
<line x1="553.7" y1="207.6" x2="553.7" y2="225.5" stroke="#000" stroke-width="1.15"/>
<line x1="546.7" y1="207.6" x2="560.7" y2="207.6" stroke="#000" stroke-width="1.15"/>
<line x1="546.7" y1="225.5" x2="560.7" y2="225.5" stroke="#000" stroke-width="1.15"/>
<line x1="557.7" y1="196.6" x2="557.7" y2="218.5" stroke="#000" stroke-width="1.15"/>
<line x1="550.7" y1="196.6" x2="564.7" y2="196.6" stroke="#000" stroke-width="1.15"/>
<line x1="550.7" y1="218.5" x2="564.7" y2="218.5" stroke="#000" stroke-width="1.15"/>
<line x1="561.8" y1="195.0" x2="561.8" y2="212.8" stroke="#000" stroke-width="1.15"/>
<line x1="554.8" y1="195.0" x2="568.8" y2="195.0" stroke="#000" stroke-width="1.15"/>
<line x1="554.8" y1="212.8" x2="568.8" y2="212.8" stroke="#000" stroke-width="1.15"/>
<line x1="565.8" y1="191.9" x2="565.8" y2="212.1" stroke="#000" stroke-width="1.15"/>
<line x1="558.8" y1="191.9" x2="572.8" y2="191.9" stroke="#000" stroke-width="1.15"/>
<line x1="558.8" y1="212.1" x2="572.8" y2="212.1" stroke="#000" stroke-width="1.15"/>
<line x1="569.8" y1="189.9" x2="569.8" y2="208.4" stroke="#000" stroke-width="1.15"/>
<line x1="562.8" y1="189.9" x2="576.8" y2="189.9" stroke="#000" stroke-width="1.15"/>
<line x1="562.8" y1="208.4" x2="576.8" y2="208.4" stroke="#000" stroke-width="1.15"/>
<line x1="573.9" y1="189.2" x2="573.9" y2="208.2" stroke="#000" stroke-width="1.15"/>
<line x1="566.9" y1="189.2" x2="580.9" y2="189.2" stroke="#000" stroke-width="1.15"/>
<line x1="566.9" y1="208.2" x2="580.9" y2="208.2" stroke="#000" stroke-width="1.15"/>
<line x1="577.9" y1="184.2" x2="577.9" y2="208.7" stroke="#000" stroke-width="1.15"/>
<line x1="570.9" y1="184.2" x2="584.9" y2="184.2" stroke="#000" stroke-width="1.15"/>
<line x1="570.9" y1="208.7" x2="584.9" y2="208.7" stroke="#000" stroke-width="1.15"/>
<line x1="582.0" y1="178.9" x2="582.0" y2="202.1" stroke="#000" stroke-width="1.15"/>
<line x1="575.0" y1="178.9" x2="589.0" y2="178.9" stroke="#000" stroke-width="1.15"/>
<line x1="575.0" y1="202.1" x2="589.0" y2="202.1" stroke="#000" stroke-width="1.15"/>
<line x1="586.0" y1="180.5" x2="586.0" y2="199.8" stroke="#000" stroke-width="1.15"/>
<line x1="579.0" y1="180.5" x2="593.0" y2="180.5" stroke="#000" stroke-width="1.15"/>
<line x1="579.0" y1="199.8" x2="593.0" y2="199.8" stroke="#000" stroke-width="1.15"/>
<line x1="590.0" y1="174.4" x2="590.0" y2="198.3" stroke="#000" stroke-width="1.15"/>
<line x1="583.0" y1="174.4" x2="597.0" y2="174.4" stroke="#000" stroke-width="1.15"/>
<line x1="583.0" y1="198.3" x2="597.0" y2="198.3" stroke="#000" stroke-width="1.15"/>
<line x1="594.1" y1="173.7" x2="594.1" y2="192.3" stroke="#000" stroke-width="1.15"/>
<line x1="587.1" y1="173.7" x2="601.1" y2="173.7" stroke="#000" stroke-width="1.15"/>
<line x1="587.1" y1="192.3" x2="601.1" y2="192.3" stroke="#000" stroke-width="1.15"/>
<line x1="598.1" y1="171.2" x2="598.1" y2="191.2" stroke="#000" stroke-width="1.15"/>
<line x1="591.1" y1="171.2" x2="605.1" y2="171.2" stroke="#000" stroke-width="1.15"/>
<line x1="591.1" y1="191.2" x2="605.1" y2="191.2" stroke="#000" stroke-width="1.15"/>
<line x1="602.2" y1="163.9" x2="602.2" y2="187.5" stroke="#000" stroke-width="1.15"/>
<line x1="595.2" y1="163.9" x2="609.2" y2="163.9" stroke="#000" stroke-width="1.15"/>
<line x1="595.2" y1="187.5" x2="609.2" y2="187.5" stroke="#000" stroke-width="1.15"/>
<line x1="606.2" y1="161.8" x2="606.2" y2="183.7" stroke="#000" stroke-width="1.15"/>
<line x1="599.2" y1="161.8" x2="613.2" y2="161.8" stroke="#000" stroke-width="1.15"/>
<line x1="599.2" y1="183.7" x2="613.2" y2="183.7" stroke="#000" stroke-width="1.15"/>
<line x1="610.2" y1="158.8" x2="610.2" y2="176.5" stroke="#000" stroke-width="1.15"/>
<line x1="603.2" y1="158.8" x2="617.2" y2="158.8" stroke="#000" stroke-width="1.15"/>
<line x1="603.2" y1="176.5" x2="617.2" y2="176.5" stroke="#000" stroke-width="1.15"/>
<line x1="614.3" y1="154.3" x2="614.3" y2="179.0" stroke="#000" stroke-width="1.15"/>
<line x1="607.3" y1="154.3" x2="621.3" y2="154.3" stroke="#000" stroke-width="1.15"/>
<line x1="607.3" y1="179.0" x2="621.3" y2="179.0" stroke="#000" stroke-width="1.15"/>
<line x1="618.3" y1="153.9" x2="618.3" y2="172.5" stroke="#000" stroke-width="1.15"/>
<line x1="611.3" y1="153.9" x2="625.3" y2="153.9" stroke="#000" stroke-width="1.15"/>
<line x1="611.3" y1="172.5" x2="625.3" y2="172.5" stroke="#000" stroke-width="1.15"/>
<line x1="622.4" y1="151.7" x2="622.4" y2="170.6" stroke="#000" stroke-width="1.15"/>
<line x1="615.4" y1="151.7" x2="629.4" y2="151.7" stroke="#000" stroke-width="1.15"/>
<line x1="615.4" y1="170.6" x2="629.4" y2="170.6" stroke="#000" stroke-width="1.15"/>
<line x1="626.4" y1="146.0" x2="626.4" y2="168.9" stroke="#000" stroke-width="1.15"/>
<line x1="619.4" y1="146.0" x2="633.4" y2="146.0" stroke="#000" stroke-width="1.15"/>
<line x1="619.4" y1="168.9" x2="633.4" y2="168.9" stroke="#000" stroke-width="1.15"/>
<line x1="630.4" y1="146.0" x2="630.4" y2="165.5" stroke="#000" stroke-width="1.15"/>
<line x1="623.4" y1="146.0" x2="637.4" y2="146.0" stroke="#000" stroke-width="1.15"/>
<line x1="623.4" y1="165.5" x2="637.4" y2="165.5" stroke="#000" stroke-width="1.15"/>
<line x1="634.5" y1="144.4" x2="634.5" y2="163.6" stroke="#000" stroke-width="1.15"/>
<line x1="627.5" y1="144.4" x2="641.5" y2="144.4" stroke="#000" stroke-width="1.15"/>
<line x1="627.5" y1="163.6" x2="641.5" y2="163.6" stroke="#000" stroke-width="1.15"/>
<line x1="638.5" y1="138.4" x2="638.5" y2="155.8" stroke="#000" stroke-width="1.15"/>
<line x1="631.5" y1="138.4" x2="645.5" y2="138.4" stroke="#000" stroke-width="1.15"/>
<line x1="631.5" y1="155.8" x2="645.5" y2="155.8" stroke="#000" stroke-width="1.15"/>
<line x1="642.6" y1="135.5" x2="642.6" y2="153.1" stroke="#000" stroke-width="1.15"/>
<line x1="635.6" y1="135.5" x2="649.6" y2="135.5" stroke="#000" stroke-width="1.15"/>
<line x1="635.6" y1="153.1" x2="649.6" y2="153.1" stroke="#000" stroke-width="1.15"/>
<line x1="646.6" y1="131.6" x2="646.6" y2="153.1" stroke="#000" stroke-width="1.15"/>
<line x1="639.6" y1="131.6" x2="653.6" y2="131.6" stroke="#000" stroke-width="1.15"/>
<line x1="639.6" y1="153.1" x2="653.6" y2="153.1" stroke="#000" stroke-width="1.15"/>
<line x1="650.6" y1="131.2" x2="650.6" y2="150.0" stroke="#000" stroke-width="1.15"/>
<line x1="643.6" y1="131.2" x2="657.6" y2="131.2" stroke="#000" stroke-width="1.15"/>
<line x1="643.6" y1="150.0" x2="657.6" y2="150.0" stroke="#000" stroke-width="1.15"/>
<line x1="654.7" y1="129.6" x2="654.7" y2="151.2" stroke="#000" stroke-width="1.15"/>
<line x1="647.7" y1="129.6" x2="661.7" y2="129.6" stroke="#000" stroke-width="1.15"/>
<line x1="647.7" y1="151.2" x2="661.7" y2="151.2" stroke="#000" stroke-width="1.15"/>
<line x1="658.7" y1="128.5" x2="658.7" y2="148.3" stroke="#000" stroke-width="1.15"/>
<line x1="651.7" y1="128.5" x2="665.7" y2="128.5" stroke="#000" stroke-width="1.15"/>
<line x1="651.7" y1="148.3" x2="665.7" y2="148.3" stroke="#000" stroke-width="1.15"/>
<line x1="662.8" y1="125.3" x2="662.8" y2="145.8" stroke="#000" stroke-width="1.15"/>
<line x1="655.8" y1="125.3" x2="669.8" y2="125.3" stroke="#000" stroke-width="1.15"/>
<line x1="655.8" y1="145.8" x2="669.8" y2="145.8" stroke="#000" stroke-width="1.15"/>
<line x1="666.8" y1="122.1" x2="666.8" y2="146.5" stroke="#000" stroke-width="1.15"/>
<line x1="659.8" y1="122.1" x2="673.8" y2="122.1" stroke="#000" stroke-width="1.15"/>
<line x1="659.8" y1="146.5" x2="673.8" y2="146.5" stroke="#000" stroke-width="1.15"/>
<line x1="670.8" y1="117.6" x2="670.8" y2="138.3" stroke="#000" stroke-width="1.15"/>
<line x1="663.8" y1="117.6" x2="677.8" y2="117.6" stroke="#000" stroke-width="1.15"/>
<line x1="663.8" y1="138.3" x2="677.8" y2="138.3" stroke="#000" stroke-width="1.15"/>
<line x1="674.9" y1="116.8" x2="674.9" y2="138.2" stroke="#000" stroke-width="1.15"/>
<line x1="667.9" y1="116.8" x2="681.9" y2="116.8" stroke="#000" stroke-width="1.15"/>
<line x1="667.9" y1="138.2" x2="681.9" y2="138.2" stroke="#000" stroke-width="1.15"/>
<line x1="678.9" y1="110.7" x2="678.9" y2="134.4" stroke="#000" stroke-width="1.15"/>
<line x1="671.9" y1="110.7" x2="685.9" y2="110.7" stroke="#000" stroke-width="1.15"/>
<line x1="671.9" y1="134.4" x2="685.9" y2="134.4" stroke="#000" stroke-width="1.15"/>
<line x1="683.0" y1="113.5" x2="683.0" y2="131.8" stroke="#000" stroke-width="1.15"/>
<line x1="676.0" y1="113.5" x2="690.0" y2="113.5" stroke="#000" stroke-width="1.15"/>
<line x1="676.0" y1="131.8" x2="690.0" y2="131.8" stroke="#000" stroke-width="1.15"/>
<line x1="687.0" y1="107.9" x2="687.0" y2="126.0" stroke="#000" stroke-width="1.15"/>
<line x1="680.0" y1="107.9" x2="694.0" y2="107.9" stroke="#000" stroke-width="1.15"/>
<line x1="680.0" y1="126.0" x2="694.0" y2="126.0" stroke="#000" stroke-width="1.15"/>
<line x1="691.0" y1="103.5" x2="691.0" y2="127.6" stroke="#000" stroke-width="1.15"/>
<line x1="684.0" y1="103.5" x2="698.0" y2="103.5" stroke="#000" stroke-width="1.15"/>
<line x1="684.0" y1="127.6" x2="698.0" y2="127.6" stroke="#000" stroke-width="1.15"/>
<line x1="695.1" y1="106.6" x2="695.1" y2="129.9" stroke="#000" stroke-width="1.15"/>
<line x1="688.1" y1="106.6" x2="702.1" y2="106.6" stroke="#000" stroke-width="1.15"/>
<line x1="688.1" y1="129.9" x2="702.1" y2="129.9" stroke="#000" stroke-width="1.15"/>
<line x1="699.1" y1="105.6" x2="699.1" y2="124.5" stroke="#000" stroke-width="1.15"/>
<line x1="692.1" y1="105.6" x2="706.1" y2="105.6" stroke="#000" stroke-width="1.15"/>
<line x1="692.1" y1="124.5" x2="706.1" y2="124.5" stroke="#000" stroke-width="1.15"/>
<line x1="703.2" y1="99.9" x2="703.2" y2="118.3" stroke="#000" stroke-width="1.15"/>
<line x1="696.2" y1="99.9" x2="710.2" y2="99.9" stroke="#000" stroke-width="1.15"/>
<line x1="696.2" y1="118.3" x2="710.2" y2="118.3" stroke="#000" stroke-width="1.15"/>
<line x1="707.2" y1="98.2" x2="707.2" y2="120.9" stroke="#000" stroke-width="1.15"/>
<line x1="700.2" y1="98.2" x2="714.2" y2="98.2" stroke="#000" stroke-width="1.15"/>
<line x1="700.2" y1="120.9" x2="714.2" y2="120.9" stroke="#000" stroke-width="1.15"/>
<line x1="711.2" y1="92.5" x2="711.2" y2="116.8" stroke="#000" stroke-width="1.15"/>
<line x1="704.2" y1="92.5" x2="718.2" y2="92.5" stroke="#000" stroke-width="1.15"/>
<line x1="704.2" y1="116.8" x2="718.2" y2="116.8" stroke="#000" stroke-width="1.15"/>
<line x1="715.3" y1="96.7" x2="715.3" y2="115.1" stroke="#000" stroke-width="1.15"/>
<line x1="708.3" y1="96.7" x2="722.3" y2="96.7" stroke="#000" stroke-width="1.15"/>
<line x1="708.3" y1="115.1" x2="722.3" y2="115.1" stroke="#000" stroke-width="1.15"/>
<line x1="719.3" y1="93.5" x2="719.3" y2="117.9" stroke="#000" stroke-width="1.15"/>
<line x1="712.3" y1="93.5" x2="726.3" y2="93.5" stroke="#000" stroke-width="1.15"/>
<line x1="712.3" y1="117.9" x2="726.3" y2="117.9" stroke="#000" stroke-width="1.15"/>
<line x1="723.4" y1="88.6" x2="723.4" y2="112.5" stroke="#000" stroke-width="1.15"/>
<line x1="716.4" y1="88.6" x2="730.4" y2="88.6" stroke="#000" stroke-width="1.15"/>
<line x1="716.4" y1="112.5" x2="730.4" y2="112.5" stroke="#000" stroke-width="1.15"/>
<line x1="727.4" y1="86.8" x2="727.4" y2="108.5" stroke="#000" stroke-width="1.15"/>
<line x1="720.4" y1="86.8" x2="734.4" y2="86.8" stroke="#000" stroke-width="1.15"/>
<line x1="720.4" y1="108.5" x2="734.4" y2="108.5" stroke="#000" stroke-width="1.15"/>
<line x1="485.0" y1="53.2" x2="485.0" y2="402.0" stroke="#000" stroke-width="2.2"/>
<line x1="472.0" y1="392.0" x2="485.0" y2="392.0" stroke="#000" stroke-width="2.0"/>
<text transform="translate(466.00,400.40) scale(1,1.04)" font-size="25.5" text-anchor="end">0</text>
<line x1="472.0" y1="279.4" x2="485.0" y2="279.4" stroke="#000" stroke-width="2.0"/>
<text transform="translate(466.00,287.80) scale(1,1.04)" font-size="25.5" text-anchor="end">1</text>
<line x1="472.0" y1="166.8" x2="485.0" y2="166.8" stroke="#000" stroke-width="2.0"/>
<text transform="translate(466.00,175.20) scale(1,1.04)" font-size="25.5" text-anchor="end">2</text>
<line x1="472.0" y1="54.2" x2="485.0" y2="54.2" stroke="#000" stroke-width="2.0"/>
<text transform="translate(466.00,62.60) scale(1,1.04)" font-size="25.5" text-anchor="end">3</text>
<line x1="472.0" y1="392.0" x2="728.4" y2="392.0" stroke="#000" stroke-width="2.2"/>
<line x1="485.0" y1="392.0" x2="485.0" y2="402.0" stroke="#000" stroke-width="2.0"/>
<text transform="translate(484.00,428.00) scale(1,1.04)" font-size="25.5" text-anchor="middle">0</text>
<line x1="606.2" y1="392.0" x2="606.2" y2="402.0" stroke="#000" stroke-width="2.0"/>
<text transform="translate(605.20,428.00) scale(1,1.04)" font-size="25.5" text-anchor="middle">30</text>
<line x1="727.4" y1="392.0" x2="727.4" y2="402.0" stroke="#000" stroke-width="2.0"/>
<text transform="translate(726.40,428.00) scale(1,1.04)" font-size="25.5" text-anchor="middle">60</text>
<path d="M742,99.5 H759.5 V198 M759.5,228 V299 H742" stroke="#000" stroke-width="1.8" fill="none"/>
<text transform="translate(713.00,220.00) scale(1,1.04)" font-size="21" font-style="italic">p&lt;1.0E-4</text>
<text transform="translate(633.00,462.00) scale(1,1.04)" font-size="28.5" text-anchor="middle" font-weight="bold">Time (min)</text>
<text transform="translate(990.00,27.30) scale(1,1.04)" font-size="29.1" text-anchor="middle">CTSD</text>
<path d="M855.2,349.8 L859.2,323.4 L863.2,299.2 L867.2,293.2 L871.2,291.0 L875.2,285.4 L879.2,281.6 L883.2,282.6 L887.2,279.4 L891.2,269.1 L895.2,270.2 L899.3,266.7 L903.3,257.0 L907.3,257.6 L911.3,251.0 L915.3,250.3 L919.3,245.4 L923.3,245.7 L927.3,238.2 L931.3,232.7 L935.3,231.9 L939.3,226.5 L943.3,223.4 L947.3,224.7 L951.3,215.5 L955.3,213.2 L959.3,212.0 L963.3,210.6 L967.3,200.2 L971.3,199.7 L975.4,194.1 L979.4,189.2 L983.4,186.9 L987.4,181.7 L991.4,182.3 L995.4,175.4 L999.4,174.7 L1003.4,167.1 L1007.4,163.9 L1011.4,166.6 L1015.4,162.7 L1019.4,158.4 L1023.4,148.8 L1027.4,149.4 L1031.4,144.3 L1035.4,143.3 L1039.4,138.0 L1043.4,135.4 L1047.4,132.0 L1051.4,126.5 L1055.5,122.9 L1059.5,116.7 L1063.5,114.9 L1067.5,109.3 L1071.5,106.3 L1075.5,101.6 L1079.5,100.5 L1083.5,101.0 L1087.5,91.8" stroke="#e2402a" stroke-width="1.3" fill="none"/>
<line x1="855.2" y1="332.9" x2="855.2" y2="366.6" stroke="#e2402a" stroke-width="1.1"/>
<line x1="846.2" y1="332.9" x2="864.2" y2="332.9" stroke="#e2402a" stroke-width="1.1"/>
<line x1="846.2" y1="366.6" x2="864.2" y2="366.6" stroke="#e2402a" stroke-width="1.1"/>
<line x1="859.2" y1="315.3" x2="859.2" y2="331.5" stroke="#e2402a" stroke-width="1.1"/>
<line x1="850.2" y1="315.3" x2="868.2" y2="315.3" stroke="#e2402a" stroke-width="1.1"/>
<line x1="850.2" y1="331.5" x2="868.2" y2="331.5" stroke="#e2402a" stroke-width="1.1"/>
<line x1="863.2" y1="291.2" x2="863.2" y2="307.3" stroke="#e2402a" stroke-width="1.1"/>
<line x1="854.2" y1="291.2" x2="872.2" y2="291.2" stroke="#e2402a" stroke-width="1.1"/>
<line x1="854.2" y1="307.3" x2="872.2" y2="307.3" stroke="#e2402a" stroke-width="1.1"/>
<line x1="867.2" y1="285.1" x2="867.2" y2="301.3" stroke="#e2402a" stroke-width="1.1"/>
<line x1="858.2" y1="285.1" x2="876.2" y2="285.1" stroke="#e2402a" stroke-width="1.1"/>
<line x1="858.2" y1="301.3" x2="876.2" y2="301.3" stroke="#e2402a" stroke-width="1.1"/>
<line x1="871.2" y1="282.9" x2="871.2" y2="299.0" stroke="#e2402a" stroke-width="1.1"/>
<line x1="862.2" y1="282.9" x2="880.2" y2="282.9" stroke="#e2402a" stroke-width="1.1"/>
<line x1="862.2" y1="299.0" x2="880.2" y2="299.0" stroke="#e2402a" stroke-width="1.1"/>
<line x1="875.2" y1="277.3" x2="875.2" y2="293.5" stroke="#e2402a" stroke-width="1.1"/>
<line x1="866.2" y1="277.3" x2="884.2" y2="277.3" stroke="#e2402a" stroke-width="1.1"/>
<line x1="866.2" y1="293.5" x2="884.2" y2="293.5" stroke="#e2402a" stroke-width="1.1"/>
<line x1="879.2" y1="273.6" x2="879.2" y2="289.7" stroke="#e2402a" stroke-width="1.1"/>
<line x1="870.2" y1="273.6" x2="888.2" y2="273.6" stroke="#e2402a" stroke-width="1.1"/>
<line x1="870.2" y1="289.7" x2="888.2" y2="289.7" stroke="#e2402a" stroke-width="1.1"/>
<line x1="883.2" y1="274.5" x2="883.2" y2="290.7" stroke="#e2402a" stroke-width="1.1"/>
<line x1="874.2" y1="274.5" x2="892.2" y2="274.5" stroke="#e2402a" stroke-width="1.1"/>
<line x1="874.2" y1="290.7" x2="892.2" y2="290.7" stroke="#e2402a" stroke-width="1.1"/>
<line x1="887.2" y1="271.3" x2="887.2" y2="287.5" stroke="#e2402a" stroke-width="1.1"/>
<line x1="878.2" y1="271.3" x2="896.2" y2="271.3" stroke="#e2402a" stroke-width="1.1"/>
<line x1="878.2" y1="287.5" x2="896.2" y2="287.5" stroke="#e2402a" stroke-width="1.1"/>
<line x1="891.2" y1="261.0" x2="891.2" y2="277.2" stroke="#e2402a" stroke-width="1.1"/>
<line x1="882.2" y1="261.0" x2="900.2" y2="261.0" stroke="#e2402a" stroke-width="1.1"/>
<line x1="882.2" y1="277.2" x2="900.2" y2="277.2" stroke="#e2402a" stroke-width="1.1"/>
<line x1="895.2" y1="262.1" x2="895.2" y2="278.3" stroke="#e2402a" stroke-width="1.1"/>
<line x1="886.2" y1="262.1" x2="904.2" y2="262.1" stroke="#e2402a" stroke-width="1.1"/>
<line x1="886.2" y1="278.3" x2="904.2" y2="278.3" stroke="#e2402a" stroke-width="1.1"/>
<line x1="899.3" y1="258.6" x2="899.3" y2="274.8" stroke="#e2402a" stroke-width="1.1"/>
<line x1="890.3" y1="258.6" x2="908.3" y2="258.6" stroke="#e2402a" stroke-width="1.1"/>
<line x1="890.3" y1="274.8" x2="908.3" y2="274.8" stroke="#e2402a" stroke-width="1.1"/>
<line x1="903.3" y1="248.9" x2="903.3" y2="265.1" stroke="#e2402a" stroke-width="1.1"/>
<line x1="894.3" y1="248.9" x2="912.3" y2="248.9" stroke="#e2402a" stroke-width="1.1"/>
<line x1="894.3" y1="265.1" x2="912.3" y2="265.1" stroke="#e2402a" stroke-width="1.1"/>
<line x1="907.3" y1="249.5" x2="907.3" y2="265.7" stroke="#e2402a" stroke-width="1.1"/>
<line x1="898.3" y1="249.5" x2="916.3" y2="249.5" stroke="#e2402a" stroke-width="1.1"/>
<line x1="898.3" y1="265.7" x2="916.3" y2="265.7" stroke="#e2402a" stroke-width="1.1"/>
<line x1="911.3" y1="242.9" x2="911.3" y2="259.1" stroke="#e2402a" stroke-width="1.1"/>
<line x1="902.3" y1="242.9" x2="920.3" y2="242.9" stroke="#e2402a" stroke-width="1.1"/>
<line x1="902.3" y1="259.1" x2="920.3" y2="259.1" stroke="#e2402a" stroke-width="1.1"/>
<line x1="915.3" y1="242.2" x2="915.3" y2="258.4" stroke="#e2402a" stroke-width="1.1"/>
<line x1="906.3" y1="242.2" x2="924.3" y2="242.2" stroke="#e2402a" stroke-width="1.1"/>
<line x1="906.3" y1="258.4" x2="924.3" y2="258.4" stroke="#e2402a" stroke-width="1.1"/>
<line x1="919.3" y1="237.3" x2="919.3" y2="253.5" stroke="#e2402a" stroke-width="1.1"/>
<line x1="910.3" y1="237.3" x2="928.3" y2="237.3" stroke="#e2402a" stroke-width="1.1"/>
<line x1="910.3" y1="253.5" x2="928.3" y2="253.5" stroke="#e2402a" stroke-width="1.1"/>
<line x1="923.3" y1="237.6" x2="923.3" y2="253.8" stroke="#e2402a" stroke-width="1.1"/>
<line x1="914.3" y1="237.6" x2="932.3" y2="237.6" stroke="#e2402a" stroke-width="1.1"/>
<line x1="914.3" y1="253.8" x2="932.3" y2="253.8" stroke="#e2402a" stroke-width="1.1"/>
<line x1="927.3" y1="230.1" x2="927.3" y2="246.3" stroke="#e2402a" stroke-width="1.1"/>
<line x1="918.3" y1="230.1" x2="936.3" y2="230.1" stroke="#e2402a" stroke-width="1.1"/>
<line x1="918.3" y1="246.3" x2="936.3" y2="246.3" stroke="#e2402a" stroke-width="1.1"/>
<line x1="931.3" y1="224.6" x2="931.3" y2="240.8" stroke="#e2402a" stroke-width="1.1"/>
<line x1="922.3" y1="224.6" x2="940.3" y2="224.6" stroke="#e2402a" stroke-width="1.1"/>
<line x1="922.3" y1="240.8" x2="940.3" y2="240.8" stroke="#e2402a" stroke-width="1.1"/>
<line x1="935.3" y1="223.8" x2="935.3" y2="240.0" stroke="#e2402a" stroke-width="1.1"/>
<line x1="926.3" y1="223.8" x2="944.3" y2="223.8" stroke="#e2402a" stroke-width="1.1"/>
<line x1="926.3" y1="240.0" x2="944.3" y2="240.0" stroke="#e2402a" stroke-width="1.1"/>
<line x1="939.3" y1="218.4" x2="939.3" y2="234.6" stroke="#e2402a" stroke-width="1.1"/>
<line x1="930.3" y1="218.4" x2="948.3" y2="218.4" stroke="#e2402a" stroke-width="1.1"/>
<line x1="930.3" y1="234.6" x2="948.3" y2="234.6" stroke="#e2402a" stroke-width="1.1"/>
<line x1="943.3" y1="215.3" x2="943.3" y2="231.5" stroke="#e2402a" stroke-width="1.1"/>
<line x1="934.3" y1="215.3" x2="952.3" y2="215.3" stroke="#e2402a" stroke-width="1.1"/>
<line x1="934.3" y1="231.5" x2="952.3" y2="231.5" stroke="#e2402a" stroke-width="1.1"/>
<line x1="947.3" y1="216.6" x2="947.3" y2="232.8" stroke="#e2402a" stroke-width="1.1"/>
<line x1="938.3" y1="216.6" x2="956.3" y2="216.6" stroke="#e2402a" stroke-width="1.1"/>
<line x1="938.3" y1="232.8" x2="956.3" y2="232.8" stroke="#e2402a" stroke-width="1.1"/>
<line x1="951.3" y1="207.4" x2="951.3" y2="223.6" stroke="#e2402a" stroke-width="1.1"/>
<line x1="942.3" y1="207.4" x2="960.3" y2="207.4" stroke="#e2402a" stroke-width="1.1"/>
<line x1="942.3" y1="223.6" x2="960.3" y2="223.6" stroke="#e2402a" stroke-width="1.1"/>
<line x1="955.3" y1="205.1" x2="955.3" y2="221.3" stroke="#e2402a" stroke-width="1.1"/>
<line x1="946.3" y1="205.1" x2="964.3" y2="205.1" stroke="#e2402a" stroke-width="1.1"/>
<line x1="946.3" y1="221.3" x2="964.3" y2="221.3" stroke="#e2402a" stroke-width="1.1"/>
<line x1="959.3" y1="203.9" x2="959.3" y2="220.1" stroke="#e2402a" stroke-width="1.1"/>
<line x1="950.3" y1="203.9" x2="968.3" y2="203.9" stroke="#e2402a" stroke-width="1.1"/>
<line x1="950.3" y1="220.1" x2="968.3" y2="220.1" stroke="#e2402a" stroke-width="1.1"/>
<line x1="963.3" y1="202.5" x2="963.3" y2="218.6" stroke="#e2402a" stroke-width="1.1"/>
<line x1="954.3" y1="202.5" x2="972.3" y2="202.5" stroke="#e2402a" stroke-width="1.1"/>
<line x1="954.3" y1="218.6" x2="972.3" y2="218.6" stroke="#e2402a" stroke-width="1.1"/>
<line x1="967.3" y1="192.1" x2="967.3" y2="208.3" stroke="#e2402a" stroke-width="1.1"/>
<line x1="958.3" y1="192.1" x2="976.3" y2="192.1" stroke="#e2402a" stroke-width="1.1"/>
<line x1="958.3" y1="208.3" x2="976.3" y2="208.3" stroke="#e2402a" stroke-width="1.1"/>
<line x1="971.3" y1="191.6" x2="971.3" y2="207.8" stroke="#e2402a" stroke-width="1.1"/>
<line x1="962.3" y1="191.6" x2="980.3" y2="191.6" stroke="#e2402a" stroke-width="1.1"/>
<line x1="962.3" y1="207.8" x2="980.3" y2="207.8" stroke="#e2402a" stroke-width="1.1"/>
<line x1="975.4" y1="186.0" x2="975.4" y2="202.2" stroke="#e2402a" stroke-width="1.1"/>
<line x1="966.4" y1="186.0" x2="984.4" y2="186.0" stroke="#e2402a" stroke-width="1.1"/>
<line x1="966.4" y1="202.2" x2="984.4" y2="202.2" stroke="#e2402a" stroke-width="1.1"/>
<line x1="979.4" y1="181.1" x2="979.4" y2="197.3" stroke="#e2402a" stroke-width="1.1"/>
<line x1="970.4" y1="181.1" x2="988.4" y2="181.1" stroke="#e2402a" stroke-width="1.1"/>
<line x1="970.4" y1="197.3" x2="988.4" y2="197.3" stroke="#e2402a" stroke-width="1.1"/>
<line x1="983.4" y1="178.8" x2="983.4" y2="195.0" stroke="#e2402a" stroke-width="1.1"/>
<line x1="974.4" y1="178.8" x2="992.4" y2="178.8" stroke="#e2402a" stroke-width="1.1"/>
<line x1="974.4" y1="195.0" x2="992.4" y2="195.0" stroke="#e2402a" stroke-width="1.1"/>
<line x1="987.4" y1="173.6" x2="987.4" y2="189.8" stroke="#e2402a" stroke-width="1.1"/>
<line x1="978.4" y1="173.6" x2="996.4" y2="173.6" stroke="#e2402a" stroke-width="1.1"/>
<line x1="978.4" y1="189.8" x2="996.4" y2="189.8" stroke="#e2402a" stroke-width="1.1"/>
<line x1="991.4" y1="174.2" x2="991.4" y2="190.4" stroke="#e2402a" stroke-width="1.1"/>
<line x1="982.4" y1="174.2" x2="1000.4" y2="174.2" stroke="#e2402a" stroke-width="1.1"/>
<line x1="982.4" y1="190.4" x2="1000.4" y2="190.4" stroke="#e2402a" stroke-width="1.1"/>
<line x1="995.4" y1="167.3" x2="995.4" y2="183.5" stroke="#e2402a" stroke-width="1.1"/>
<line x1="986.4" y1="167.3" x2="1004.4" y2="167.3" stroke="#e2402a" stroke-width="1.1"/>
<line x1="986.4" y1="183.5" x2="1004.4" y2="183.5" stroke="#e2402a" stroke-width="1.1"/>
<line x1="999.4" y1="166.6" x2="999.4" y2="182.8" stroke="#e2402a" stroke-width="1.1"/>
<line x1="990.4" y1="166.6" x2="1008.4" y2="166.6" stroke="#e2402a" stroke-width="1.1"/>
<line x1="990.4" y1="182.8" x2="1008.4" y2="182.8" stroke="#e2402a" stroke-width="1.1"/>
<line x1="1003.4" y1="159.0" x2="1003.4" y2="175.2" stroke="#e2402a" stroke-width="1.1"/>
<line x1="994.4" y1="159.0" x2="1012.4" y2="159.0" stroke="#e2402a" stroke-width="1.1"/>
<line x1="994.4" y1="175.2" x2="1012.4" y2="175.2" stroke="#e2402a" stroke-width="1.1"/>
<line x1="1007.4" y1="155.8" x2="1007.4" y2="172.0" stroke="#e2402a" stroke-width="1.1"/>
<line x1="998.4" y1="155.8" x2="1016.4" y2="155.8" stroke="#e2402a" stroke-width="1.1"/>
<line x1="998.4" y1="172.0" x2="1016.4" y2="172.0" stroke="#e2402a" stroke-width="1.1"/>
<line x1="1011.4" y1="158.5" x2="1011.4" y2="174.7" stroke="#e2402a" stroke-width="1.1"/>
<line x1="1002.4" y1="158.5" x2="1020.4" y2="158.5" stroke="#e2402a" stroke-width="1.1"/>
<line x1="1002.4" y1="174.7" x2="1020.4" y2="174.7" stroke="#e2402a" stroke-width="1.1"/>
<line x1="1015.4" y1="154.6" x2="1015.4" y2="170.8" stroke="#e2402a" stroke-width="1.1"/>
<line x1="1006.4" y1="154.6" x2="1024.4" y2="154.6" stroke="#e2402a" stroke-width="1.1"/>
<line x1="1006.4" y1="170.8" x2="1024.4" y2="170.8" stroke="#e2402a" stroke-width="1.1"/>
<line x1="1019.4" y1="150.3" x2="1019.4" y2="166.5" stroke="#e2402a" stroke-width="1.1"/>
<line x1="1010.4" y1="150.3" x2="1028.4" y2="150.3" stroke="#e2402a" stroke-width="1.1"/>
<line x1="1010.4" y1="166.5" x2="1028.4" y2="166.5" stroke="#e2402a" stroke-width="1.1"/>
<line x1="1023.4" y1="140.7" x2="1023.4" y2="156.9" stroke="#e2402a" stroke-width="1.1"/>
<line x1="1014.4" y1="140.7" x2="1032.4" y2="140.7" stroke="#e2402a" stroke-width="1.1"/>
<line x1="1014.4" y1="156.9" x2="1032.4" y2="156.9" stroke="#e2402a" stroke-width="1.1"/>
<line x1="1027.4" y1="141.3" x2="1027.4" y2="157.5" stroke="#e2402a" stroke-width="1.1"/>
<line x1="1018.4" y1="141.3" x2="1036.4" y2="141.3" stroke="#e2402a" stroke-width="1.1"/>
<line x1="1018.4" y1="157.5" x2="1036.4" y2="157.5" stroke="#e2402a" stroke-width="1.1"/>
<line x1="1031.4" y1="136.2" x2="1031.4" y2="152.4" stroke="#e2402a" stroke-width="1.1"/>
<line x1="1022.4" y1="136.2" x2="1040.4" y2="136.2" stroke="#e2402a" stroke-width="1.1"/>
<line x1="1022.4" y1="152.4" x2="1040.4" y2="152.4" stroke="#e2402a" stroke-width="1.1"/>
<line x1="1035.4" y1="135.2" x2="1035.4" y2="151.4" stroke="#e2402a" stroke-width="1.1"/>
<line x1="1026.4" y1="135.2" x2="1044.4" y2="135.2" stroke="#e2402a" stroke-width="1.1"/>
<line x1="1026.4" y1="151.4" x2="1044.4" y2="151.4" stroke="#e2402a" stroke-width="1.1"/>
<line x1="1039.4" y1="129.9" x2="1039.4" y2="146.1" stroke="#e2402a" stroke-width="1.1"/>
<line x1="1030.4" y1="129.9" x2="1048.4" y2="129.9" stroke="#e2402a" stroke-width="1.1"/>
<line x1="1030.4" y1="146.1" x2="1048.4" y2="146.1" stroke="#e2402a" stroke-width="1.1"/>
<line x1="1043.4" y1="127.3" x2="1043.4" y2="143.5" stroke="#e2402a" stroke-width="1.1"/>
<line x1="1034.4" y1="127.3" x2="1052.4" y2="127.3" stroke="#e2402a" stroke-width="1.1"/>
<line x1="1034.4" y1="143.5" x2="1052.4" y2="143.5" stroke="#e2402a" stroke-width="1.1"/>
<line x1="1047.4" y1="123.9" x2="1047.4" y2="140.1" stroke="#e2402a" stroke-width="1.1"/>
<line x1="1038.4" y1="123.9" x2="1056.4" y2="123.9" stroke="#e2402a" stroke-width="1.1"/>
<line x1="1038.4" y1="140.1" x2="1056.4" y2="140.1" stroke="#e2402a" stroke-width="1.1"/>
<line x1="1051.4" y1="118.4" x2="1051.4" y2="134.6" stroke="#e2402a" stroke-width="1.1"/>
<line x1="1042.4" y1="118.4" x2="1060.4" y2="118.4" stroke="#e2402a" stroke-width="1.1"/>
<line x1="1042.4" y1="134.6" x2="1060.4" y2="134.6" stroke="#e2402a" stroke-width="1.1"/>
<line x1="1055.5" y1="114.8" x2="1055.5" y2="131.0" stroke="#e2402a" stroke-width="1.1"/>
<line x1="1046.5" y1="114.8" x2="1064.5" y2="114.8" stroke="#e2402a" stroke-width="1.1"/>
<line x1="1046.5" y1="131.0" x2="1064.5" y2="131.0" stroke="#e2402a" stroke-width="1.1"/>
<line x1="1059.5" y1="108.6" x2="1059.5" y2="124.8" stroke="#e2402a" stroke-width="1.1"/>
<line x1="1050.5" y1="108.6" x2="1068.5" y2="108.6" stroke="#e2402a" stroke-width="1.1"/>
<line x1="1050.5" y1="124.8" x2="1068.5" y2="124.8" stroke="#e2402a" stroke-width="1.1"/>
<line x1="1063.5" y1="106.8" x2="1063.5" y2="123.0" stroke="#e2402a" stroke-width="1.1"/>
<line x1="1054.5" y1="106.8" x2="1072.5" y2="106.8" stroke="#e2402a" stroke-width="1.1"/>
<line x1="1054.5" y1="123.0" x2="1072.5" y2="123.0" stroke="#e2402a" stroke-width="1.1"/>
<line x1="1067.5" y1="101.2" x2="1067.5" y2="117.4" stroke="#e2402a" stroke-width="1.1"/>
<line x1="1058.5" y1="101.2" x2="1076.5" y2="101.2" stroke="#e2402a" stroke-width="1.1"/>
<line x1="1058.5" y1="117.4" x2="1076.5" y2="117.4" stroke="#e2402a" stroke-width="1.1"/>
<line x1="1071.5" y1="98.2" x2="1071.5" y2="114.4" stroke="#e2402a" stroke-width="1.1"/>
<line x1="1062.5" y1="98.2" x2="1080.5" y2="98.2" stroke="#e2402a" stroke-width="1.1"/>
<line x1="1062.5" y1="114.4" x2="1080.5" y2="114.4" stroke="#e2402a" stroke-width="1.1"/>
<line x1="1075.5" y1="93.5" x2="1075.5" y2="109.7" stroke="#e2402a" stroke-width="1.1"/>
<line x1="1066.5" y1="93.5" x2="1084.5" y2="93.5" stroke="#e2402a" stroke-width="1.1"/>
<line x1="1066.5" y1="109.7" x2="1084.5" y2="109.7" stroke="#e2402a" stroke-width="1.1"/>
<line x1="1079.5" y1="92.4" x2="1079.5" y2="108.6" stroke="#e2402a" stroke-width="1.1"/>
<line x1="1070.5" y1="92.4" x2="1088.5" y2="92.4" stroke="#e2402a" stroke-width="1.1"/>
<line x1="1070.5" y1="108.6" x2="1088.5" y2="108.6" stroke="#e2402a" stroke-width="1.1"/>
<line x1="1083.5" y1="92.9" x2="1083.5" y2="109.1" stroke="#e2402a" stroke-width="1.1"/>
<line x1="1074.5" y1="92.9" x2="1092.5" y2="92.9" stroke="#e2402a" stroke-width="1.1"/>
<line x1="1074.5" y1="109.1" x2="1092.5" y2="109.1" stroke="#e2402a" stroke-width="1.1"/>
<line x1="1087.5" y1="83.7" x2="1087.5" y2="99.9" stroke="#e2402a" stroke-width="1.1"/>
<line x1="1078.5" y1="83.7" x2="1096.5" y2="83.7" stroke="#e2402a" stroke-width="1.1"/>
<line x1="1078.5" y1="99.9" x2="1096.5" y2="99.9" stroke="#e2402a" stroke-width="1.1"/>
<path d="M855.2,324.1 L859.2,301.6 L863.2,288.1 L867.2,283.4 L871.2,284.9 L875.2,275.8 L879.2,274.9 L883.2,274.3 L887.2,273.2 L891.2,262.4 L895.2,257.8 L899.3,263.1 L903.3,253.1 L907.3,253.5 L911.3,252.6 L915.3,248.0 L919.3,240.2 L923.3,235.9 L927.3,240.5 L931.3,231.8 L935.3,233.9 L939.3,224.3 L943.3,224.6 L947.3,216.2 L951.3,211.9 L955.3,213.1 L959.3,205.2 L963.3,208.4 L967.3,207.3 L971.3,199.1 L975.4,201.2 L979.4,196.3 L983.4,191.1 L987.4,185.9 L991.4,186.9 L995.4,184.7 L999.4,173.6 L1003.4,175.5 L1007.4,166.2 L1011.4,163.5 L1015.4,165.1 L1019.4,161.0 L1023.4,157.2 L1027.4,152.7 L1031.4,149.9 L1035.4,146.9 L1039.4,143.1 L1043.4,136.8 L1047.4,137.6 L1051.4,135.0 L1055.5,129.0 L1059.5,130.3 L1063.5,126.4 L1067.5,116.7 L1071.5,117.7 L1075.5,114.2 L1079.5,116.0 L1083.5,108.9 L1087.5,104.1" stroke="#000" stroke-width="1.3" fill="none"/>
<line x1="855.2" y1="312.6" x2="855.2" y2="335.6" stroke="#000" stroke-width="1.2"/>
<line x1="845.2" y1="312.6" x2="865.2" y2="312.6" stroke="#000" stroke-width="1.2"/>
<line x1="845.2" y1="335.6" x2="865.2" y2="335.6" stroke="#000" stroke-width="1.2"/>
<line x1="859.2" y1="293.5" x2="859.2" y2="309.7" stroke="#000" stroke-width="1.2"/>
<line x1="849.2" y1="293.5" x2="869.2" y2="293.5" stroke="#000" stroke-width="1.2"/>
<line x1="849.2" y1="309.7" x2="869.2" y2="309.7" stroke="#000" stroke-width="1.2"/>
<line x1="863.2" y1="280.0" x2="863.2" y2="296.2" stroke="#000" stroke-width="1.2"/>
<line x1="853.2" y1="280.0" x2="873.2" y2="280.0" stroke="#000" stroke-width="1.2"/>
<line x1="853.2" y1="296.2" x2="873.2" y2="296.2" stroke="#000" stroke-width="1.2"/>
<line x1="867.2" y1="275.3" x2="867.2" y2="291.5" stroke="#000" stroke-width="1.2"/>
<line x1="857.2" y1="275.3" x2="877.2" y2="275.3" stroke="#000" stroke-width="1.2"/>
<line x1="857.2" y1="291.5" x2="877.2" y2="291.5" stroke="#000" stroke-width="1.2"/>
<line x1="871.2" y1="276.8" x2="871.2" y2="293.0" stroke="#000" stroke-width="1.2"/>
<line x1="861.2" y1="276.8" x2="881.2" y2="276.8" stroke="#000" stroke-width="1.2"/>
<line x1="861.2" y1="293.0" x2="881.2" y2="293.0" stroke="#000" stroke-width="1.2"/>
<line x1="875.2" y1="267.7" x2="875.2" y2="283.8" stroke="#000" stroke-width="1.2"/>
<line x1="865.2" y1="267.7" x2="885.2" y2="267.7" stroke="#000" stroke-width="1.2"/>
<line x1="865.2" y1="283.8" x2="885.2" y2="283.8" stroke="#000" stroke-width="1.2"/>
<line x1="879.2" y1="266.8" x2="879.2" y2="283.0" stroke="#000" stroke-width="1.2"/>
<line x1="869.2" y1="266.8" x2="889.2" y2="266.8" stroke="#000" stroke-width="1.2"/>
<line x1="869.2" y1="283.0" x2="889.2" y2="283.0" stroke="#000" stroke-width="1.2"/>
<line x1="883.2" y1="266.2" x2="883.2" y2="282.4" stroke="#000" stroke-width="1.2"/>
<line x1="873.2" y1="266.2" x2="893.2" y2="266.2" stroke="#000" stroke-width="1.2"/>
<line x1="873.2" y1="282.4" x2="893.2" y2="282.4" stroke="#000" stroke-width="1.2"/>
<line x1="887.2" y1="265.1" x2="887.2" y2="281.3" stroke="#000" stroke-width="1.2"/>
<line x1="877.2" y1="265.1" x2="897.2" y2="265.1" stroke="#000" stroke-width="1.2"/>
<line x1="877.2" y1="281.3" x2="897.2" y2="281.3" stroke="#000" stroke-width="1.2"/>
<line x1="891.2" y1="254.3" x2="891.2" y2="270.5" stroke="#000" stroke-width="1.2"/>
<line x1="881.2" y1="254.3" x2="901.2" y2="254.3" stroke="#000" stroke-width="1.2"/>
<line x1="881.2" y1="270.5" x2="901.2" y2="270.5" stroke="#000" stroke-width="1.2"/>
<line x1="895.2" y1="249.7" x2="895.2" y2="265.9" stroke="#000" stroke-width="1.2"/>
<line x1="885.2" y1="249.7" x2="905.2" y2="249.7" stroke="#000" stroke-width="1.2"/>
<line x1="885.2" y1="265.9" x2="905.2" y2="265.9" stroke="#000" stroke-width="1.2"/>
<line x1="899.3" y1="255.0" x2="899.3" y2="271.2" stroke="#000" stroke-width="1.2"/>
<line x1="889.3" y1="255.0" x2="909.3" y2="255.0" stroke="#000" stroke-width="1.2"/>
<line x1="889.3" y1="271.2" x2="909.3" y2="271.2" stroke="#000" stroke-width="1.2"/>
<line x1="903.3" y1="245.0" x2="903.3" y2="261.2" stroke="#000" stroke-width="1.2"/>
<line x1="893.3" y1="245.0" x2="913.3" y2="245.0" stroke="#000" stroke-width="1.2"/>
<line x1="893.3" y1="261.2" x2="913.3" y2="261.2" stroke="#000" stroke-width="1.2"/>
<line x1="907.3" y1="245.4" x2="907.3" y2="261.6" stroke="#000" stroke-width="1.2"/>
<line x1="897.3" y1="245.4" x2="917.3" y2="245.4" stroke="#000" stroke-width="1.2"/>
<line x1="897.3" y1="261.6" x2="917.3" y2="261.6" stroke="#000" stroke-width="1.2"/>
<line x1="911.3" y1="244.5" x2="911.3" y2="260.7" stroke="#000" stroke-width="1.2"/>
<line x1="901.3" y1="244.5" x2="921.3" y2="244.5" stroke="#000" stroke-width="1.2"/>
<line x1="901.3" y1="260.7" x2="921.3" y2="260.7" stroke="#000" stroke-width="1.2"/>
<line x1="915.3" y1="239.9" x2="915.3" y2="256.1" stroke="#000" stroke-width="1.2"/>
<line x1="905.3" y1="239.9" x2="925.3" y2="239.9" stroke="#000" stroke-width="1.2"/>
<line x1="905.3" y1="256.1" x2="925.3" y2="256.1" stroke="#000" stroke-width="1.2"/>
<line x1="919.3" y1="232.1" x2="919.3" y2="248.3" stroke="#000" stroke-width="1.2"/>
<line x1="909.3" y1="232.1" x2="929.3" y2="232.1" stroke="#000" stroke-width="1.2"/>
<line x1="909.3" y1="248.3" x2="929.3" y2="248.3" stroke="#000" stroke-width="1.2"/>
<line x1="923.3" y1="227.9" x2="923.3" y2="244.0" stroke="#000" stroke-width="1.2"/>
<line x1="913.3" y1="227.9" x2="933.3" y2="227.9" stroke="#000" stroke-width="1.2"/>
<line x1="913.3" y1="244.0" x2="933.3" y2="244.0" stroke="#000" stroke-width="1.2"/>
<line x1="927.3" y1="232.4" x2="927.3" y2="248.6" stroke="#000" stroke-width="1.2"/>
<line x1="917.3" y1="232.4" x2="937.3" y2="232.4" stroke="#000" stroke-width="1.2"/>
<line x1="917.3" y1="248.6" x2="937.3" y2="248.6" stroke="#000" stroke-width="1.2"/>
<line x1="931.3" y1="223.7" x2="931.3" y2="239.9" stroke="#000" stroke-width="1.2"/>
<line x1="921.3" y1="223.7" x2="941.3" y2="223.7" stroke="#000" stroke-width="1.2"/>
<line x1="921.3" y1="239.9" x2="941.3" y2="239.9" stroke="#000" stroke-width="1.2"/>
<line x1="935.3" y1="225.8" x2="935.3" y2="242.0" stroke="#000" stroke-width="1.2"/>
<line x1="925.3" y1="225.8" x2="945.3" y2="225.8" stroke="#000" stroke-width="1.2"/>
<line x1="925.3" y1="242.0" x2="945.3" y2="242.0" stroke="#000" stroke-width="1.2"/>
<line x1="939.3" y1="216.2" x2="939.3" y2="232.4" stroke="#000" stroke-width="1.2"/>
<line x1="929.3" y1="216.2" x2="949.3" y2="216.2" stroke="#000" stroke-width="1.2"/>
<line x1="929.3" y1="232.4" x2="949.3" y2="232.4" stroke="#000" stroke-width="1.2"/>
<line x1="943.3" y1="216.5" x2="943.3" y2="232.7" stroke="#000" stroke-width="1.2"/>
<line x1="933.3" y1="216.5" x2="953.3" y2="216.5" stroke="#000" stroke-width="1.2"/>
<line x1="933.3" y1="232.7" x2="953.3" y2="232.7" stroke="#000" stroke-width="1.2"/>
<line x1="947.3" y1="208.1" x2="947.3" y2="224.3" stroke="#000" stroke-width="1.2"/>
<line x1="937.3" y1="208.1" x2="957.3" y2="208.1" stroke="#000" stroke-width="1.2"/>
<line x1="937.3" y1="224.3" x2="957.3" y2="224.3" stroke="#000" stroke-width="1.2"/>
<line x1="951.3" y1="203.8" x2="951.3" y2="220.0" stroke="#000" stroke-width="1.2"/>
<line x1="941.3" y1="203.8" x2="961.3" y2="203.8" stroke="#000" stroke-width="1.2"/>
<line x1="941.3" y1="220.0" x2="961.3" y2="220.0" stroke="#000" stroke-width="1.2"/>
<line x1="955.3" y1="205.0" x2="955.3" y2="221.2" stroke="#000" stroke-width="1.2"/>
<line x1="945.3" y1="205.0" x2="965.3" y2="205.0" stroke="#000" stroke-width="1.2"/>
<line x1="945.3" y1="221.2" x2="965.3" y2="221.2" stroke="#000" stroke-width="1.2"/>
<line x1="959.3" y1="197.1" x2="959.3" y2="213.3" stroke="#000" stroke-width="1.2"/>
<line x1="949.3" y1="197.1" x2="969.3" y2="197.1" stroke="#000" stroke-width="1.2"/>
<line x1="949.3" y1="213.3" x2="969.3" y2="213.3" stroke="#000" stroke-width="1.2"/>
<line x1="963.3" y1="200.3" x2="963.3" y2="216.5" stroke="#000" stroke-width="1.2"/>
<line x1="953.3" y1="200.3" x2="973.3" y2="200.3" stroke="#000" stroke-width="1.2"/>
<line x1="953.3" y1="216.5" x2="973.3" y2="216.5" stroke="#000" stroke-width="1.2"/>
<line x1="967.3" y1="199.2" x2="967.3" y2="215.4" stroke="#000" stroke-width="1.2"/>
<line x1="957.3" y1="199.2" x2="977.3" y2="199.2" stroke="#000" stroke-width="1.2"/>
<line x1="957.3" y1="215.4" x2="977.3" y2="215.4" stroke="#000" stroke-width="1.2"/>
<line x1="971.3" y1="191.0" x2="971.3" y2="207.2" stroke="#000" stroke-width="1.2"/>
<line x1="961.3" y1="191.0" x2="981.3" y2="191.0" stroke="#000" stroke-width="1.2"/>
<line x1="961.3" y1="207.2" x2="981.3" y2="207.2" stroke="#000" stroke-width="1.2"/>
<line x1="975.4" y1="193.1" x2="975.4" y2="209.3" stroke="#000" stroke-width="1.2"/>
<line x1="965.4" y1="193.1" x2="985.4" y2="193.1" stroke="#000" stroke-width="1.2"/>
<line x1="965.4" y1="209.3" x2="985.4" y2="209.3" stroke="#000" stroke-width="1.2"/>
<line x1="979.4" y1="188.3" x2="979.4" y2="204.4" stroke="#000" stroke-width="1.2"/>
<line x1="969.4" y1="188.3" x2="989.4" y2="188.3" stroke="#000" stroke-width="1.2"/>
<line x1="969.4" y1="204.4" x2="989.4" y2="204.4" stroke="#000" stroke-width="1.2"/>
<line x1="983.4" y1="183.0" x2="983.4" y2="199.2" stroke="#000" stroke-width="1.2"/>
<line x1="973.4" y1="183.0" x2="993.4" y2="183.0" stroke="#000" stroke-width="1.2"/>
<line x1="973.4" y1="199.2" x2="993.4" y2="199.2" stroke="#000" stroke-width="1.2"/>
<line x1="987.4" y1="177.8" x2="987.4" y2="194.0" stroke="#000" stroke-width="1.2"/>
<line x1="977.4" y1="177.8" x2="997.4" y2="177.8" stroke="#000" stroke-width="1.2"/>
<line x1="977.4" y1="194.0" x2="997.4" y2="194.0" stroke="#000" stroke-width="1.2"/>
<line x1="991.4" y1="178.8" x2="991.4" y2="195.0" stroke="#000" stroke-width="1.2"/>
<line x1="981.4" y1="178.8" x2="1001.4" y2="178.8" stroke="#000" stroke-width="1.2"/>
<line x1="981.4" y1="195.0" x2="1001.4" y2="195.0" stroke="#000" stroke-width="1.2"/>
<line x1="995.4" y1="176.6" x2="995.4" y2="192.8" stroke="#000" stroke-width="1.2"/>
<line x1="985.4" y1="176.6" x2="1005.4" y2="176.6" stroke="#000" stroke-width="1.2"/>
<line x1="985.4" y1="192.8" x2="1005.4" y2="192.8" stroke="#000" stroke-width="1.2"/>
<line x1="999.4" y1="165.5" x2="999.4" y2="181.7" stroke="#000" stroke-width="1.2"/>
<line x1="989.4" y1="165.5" x2="1009.4" y2="165.5" stroke="#000" stroke-width="1.2"/>
<line x1="989.4" y1="181.7" x2="1009.4" y2="181.7" stroke="#000" stroke-width="1.2"/>
<line x1="1003.4" y1="167.4" x2="1003.4" y2="183.6" stroke="#000" stroke-width="1.2"/>
<line x1="993.4" y1="167.4" x2="1013.4" y2="167.4" stroke="#000" stroke-width="1.2"/>
<line x1="993.4" y1="183.6" x2="1013.4" y2="183.6" stroke="#000" stroke-width="1.2"/>
<line x1="1007.4" y1="158.1" x2="1007.4" y2="174.3" stroke="#000" stroke-width="1.2"/>
<line x1="997.4" y1="158.1" x2="1017.4" y2="158.1" stroke="#000" stroke-width="1.2"/>
<line x1="997.4" y1="174.3" x2="1017.4" y2="174.3" stroke="#000" stroke-width="1.2"/>
<line x1="1011.4" y1="155.4" x2="1011.4" y2="171.6" stroke="#000" stroke-width="1.2"/>
<line x1="1001.4" y1="155.4" x2="1021.4" y2="155.4" stroke="#000" stroke-width="1.2"/>
<line x1="1001.4" y1="171.6" x2="1021.4" y2="171.6" stroke="#000" stroke-width="1.2"/>
<line x1="1015.4" y1="157.0" x2="1015.4" y2="173.2" stroke="#000" stroke-width="1.2"/>
<line x1="1005.4" y1="157.0" x2="1025.4" y2="157.0" stroke="#000" stroke-width="1.2"/>
<line x1="1005.4" y1="173.2" x2="1025.4" y2="173.2" stroke="#000" stroke-width="1.2"/>
<line x1="1019.4" y1="152.9" x2="1019.4" y2="169.1" stroke="#000" stroke-width="1.2"/>
<line x1="1009.4" y1="152.9" x2="1029.4" y2="152.9" stroke="#000" stroke-width="1.2"/>
<line x1="1009.4" y1="169.1" x2="1029.4" y2="169.1" stroke="#000" stroke-width="1.2"/>
<line x1="1023.4" y1="149.1" x2="1023.4" y2="165.3" stroke="#000" stroke-width="1.2"/>
<line x1="1013.4" y1="149.1" x2="1033.4" y2="149.1" stroke="#000" stroke-width="1.2"/>
<line x1="1013.4" y1="165.3" x2="1033.4" y2="165.3" stroke="#000" stroke-width="1.2"/>
<line x1="1027.4" y1="144.6" x2="1027.4" y2="160.8" stroke="#000" stroke-width="1.2"/>
<line x1="1017.4" y1="144.6" x2="1037.4" y2="144.6" stroke="#000" stroke-width="1.2"/>
<line x1="1017.4" y1="160.8" x2="1037.4" y2="160.8" stroke="#000" stroke-width="1.2"/>
<line x1="1031.4" y1="141.8" x2="1031.4" y2="158.0" stroke="#000" stroke-width="1.2"/>
<line x1="1021.4" y1="141.8" x2="1041.4" y2="141.8" stroke="#000" stroke-width="1.2"/>
<line x1="1021.4" y1="158.0" x2="1041.4" y2="158.0" stroke="#000" stroke-width="1.2"/>
<line x1="1035.4" y1="138.9" x2="1035.4" y2="155.0" stroke="#000" stroke-width="1.2"/>
<line x1="1025.4" y1="138.9" x2="1045.4" y2="138.9" stroke="#000" stroke-width="1.2"/>
<line x1="1025.4" y1="155.0" x2="1045.4" y2="155.0" stroke="#000" stroke-width="1.2"/>
<line x1="1039.4" y1="135.0" x2="1039.4" y2="151.2" stroke="#000" stroke-width="1.2"/>
<line x1="1029.4" y1="135.0" x2="1049.4" y2="135.0" stroke="#000" stroke-width="1.2"/>
<line x1="1029.4" y1="151.2" x2="1049.4" y2="151.2" stroke="#000" stroke-width="1.2"/>
<line x1="1043.4" y1="128.7" x2="1043.4" y2="144.9" stroke="#000" stroke-width="1.2"/>
<line x1="1033.4" y1="128.7" x2="1053.4" y2="128.7" stroke="#000" stroke-width="1.2"/>
<line x1="1033.4" y1="144.9" x2="1053.4" y2="144.9" stroke="#000" stroke-width="1.2"/>
<line x1="1047.4" y1="129.5" x2="1047.4" y2="145.7" stroke="#000" stroke-width="1.2"/>
<line x1="1037.4" y1="129.5" x2="1057.4" y2="129.5" stroke="#000" stroke-width="1.2"/>
<line x1="1037.4" y1="145.7" x2="1057.4" y2="145.7" stroke="#000" stroke-width="1.2"/>
<line x1="1051.4" y1="126.9" x2="1051.4" y2="143.1" stroke="#000" stroke-width="1.2"/>
<line x1="1041.4" y1="126.9" x2="1061.4" y2="126.9" stroke="#000" stroke-width="1.2"/>
<line x1="1041.4" y1="143.1" x2="1061.4" y2="143.1" stroke="#000" stroke-width="1.2"/>
<line x1="1055.5" y1="120.9" x2="1055.5" y2="137.1" stroke="#000" stroke-width="1.2"/>
<line x1="1045.5" y1="120.9" x2="1065.5" y2="120.9" stroke="#000" stroke-width="1.2"/>
<line x1="1045.5" y1="137.1" x2="1065.5" y2="137.1" stroke="#000" stroke-width="1.2"/>
<line x1="1059.5" y1="122.2" x2="1059.5" y2="138.4" stroke="#000" stroke-width="1.2"/>
<line x1="1049.5" y1="122.2" x2="1069.5" y2="122.2" stroke="#000" stroke-width="1.2"/>
<line x1="1049.5" y1="138.4" x2="1069.5" y2="138.4" stroke="#000" stroke-width="1.2"/>
<line x1="1063.5" y1="118.3" x2="1063.5" y2="134.5" stroke="#000" stroke-width="1.2"/>
<line x1="1053.5" y1="118.3" x2="1073.5" y2="118.3" stroke="#000" stroke-width="1.2"/>
<line x1="1053.5" y1="134.5" x2="1073.5" y2="134.5" stroke="#000" stroke-width="1.2"/>
<line x1="1067.5" y1="108.6" x2="1067.5" y2="124.8" stroke="#000" stroke-width="1.2"/>
<line x1="1057.5" y1="108.6" x2="1077.5" y2="108.6" stroke="#000" stroke-width="1.2"/>
<line x1="1057.5" y1="124.8" x2="1077.5" y2="124.8" stroke="#000" stroke-width="1.2"/>
<line x1="1071.5" y1="109.7" x2="1071.5" y2="125.8" stroke="#000" stroke-width="1.2"/>
<line x1="1061.5" y1="109.7" x2="1081.5" y2="109.7" stroke="#000" stroke-width="1.2"/>
<line x1="1061.5" y1="125.8" x2="1081.5" y2="125.8" stroke="#000" stroke-width="1.2"/>
<line x1="1075.5" y1="106.1" x2="1075.5" y2="122.3" stroke="#000" stroke-width="1.2"/>
<line x1="1065.5" y1="106.1" x2="1085.5" y2="106.1" stroke="#000" stroke-width="1.2"/>
<line x1="1065.5" y1="122.3" x2="1085.5" y2="122.3" stroke="#000" stroke-width="1.2"/>
<line x1="1079.5" y1="107.9" x2="1079.5" y2="124.1" stroke="#000" stroke-width="1.2"/>
<line x1="1069.5" y1="107.9" x2="1089.5" y2="107.9" stroke="#000" stroke-width="1.2"/>
<line x1="1069.5" y1="124.1" x2="1089.5" y2="124.1" stroke="#000" stroke-width="1.2"/>
<line x1="1083.5" y1="100.8" x2="1083.5" y2="117.0" stroke="#000" stroke-width="1.2"/>
<line x1="1073.5" y1="100.8" x2="1093.5" y2="100.8" stroke="#000" stroke-width="1.2"/>
<line x1="1073.5" y1="117.0" x2="1093.5" y2="117.0" stroke="#000" stroke-width="1.2"/>
<line x1="1087.5" y1="96.0" x2="1087.5" y2="112.2" stroke="#000" stroke-width="1.2"/>
<line x1="1077.5" y1="96.0" x2="1097.5" y2="96.0" stroke="#000" stroke-width="1.2"/>
<line x1="1077.5" y1="112.2" x2="1097.5" y2="112.2" stroke="#000" stroke-width="1.2"/>
<line x1="855.2" y1="53.2" x2="855.2" y2="401.6" stroke="#000" stroke-width="2.2"/>
<line x1="842.2" y1="391.6" x2="855.2" y2="391.6" stroke="#000" stroke-width="2.0"/>
<text transform="translate(836.20,400.00) scale(1,1.04)" font-size="25.5" text-anchor="end">0</text>
<line x1="842.2" y1="324.1" x2="855.2" y2="324.1" stroke="#000" stroke-width="2.0"/>
<text transform="translate(836.20,332.52) scale(1,1.04)" font-size="25.5" text-anchor="end">1</text>
<line x1="842.2" y1="256.6" x2="855.2" y2="256.6" stroke="#000" stroke-width="2.0"/>
<text transform="translate(836.20,265.04) scale(1,1.04)" font-size="25.5" text-anchor="end">2</text>
<line x1="842.2" y1="189.2" x2="855.2" y2="189.2" stroke="#000" stroke-width="2.0"/>
<text transform="translate(836.20,197.56) scale(1,1.04)" font-size="25.5" text-anchor="end">3</text>
<line x1="842.2" y1="121.7" x2="855.2" y2="121.7" stroke="#000" stroke-width="2.0"/>
<text transform="translate(836.20,130.08) scale(1,1.04)" font-size="25.5" text-anchor="end">4</text>
<line x1="842.2" y1="54.2" x2="855.2" y2="54.2" stroke="#000" stroke-width="2.0"/>
<text transform="translate(836.20,62.60) scale(1,1.04)" font-size="25.5" text-anchor="end">5</text>
<line x1="842.2" y1="391.6" x2="1096.5" y2="391.6" stroke="#000" stroke-width="2.2"/>
<line x1="855.2" y1="391.6" x2="855.2" y2="401.6" stroke="#000" stroke-width="2.0"/>
<text transform="translate(854.20,427.60) scale(1,1.04)" font-size="25.5" text-anchor="middle">0</text>
<line x1="975.4" y1="391.6" x2="975.4" y2="401.6" stroke="#000" stroke-width="2.0"/>
<text transform="translate(974.35,427.60) scale(1,1.04)" font-size="25.5" text-anchor="middle">30</text>
<line x1="1095.5" y1="391.6" x2="1095.5" y2="401.6" stroke="#000" stroke-width="2.0"/>
<text transform="translate(1094.50,427.60) scale(1,1.04)" font-size="25.5" text-anchor="middle">60</text>
<path d="M1113.5,97.8 H1131.5 V114 H1113.5" stroke="#000" stroke-width="1.8" fill="none"/>
<text transform="translate(1141.00,112.50) scale(1,1.04)" font-size="24">ns</text>
<text transform="translate(1000.00,462.00) scale(1,1.04)" font-size="28.5" text-anchor="middle" font-weight="bold">Time (min)</text>
<text transform="translate(1362.00,27.30) scale(1,1.04)" font-size="29.1" text-anchor="middle">CTSE</text>
<path d="M1234.3,365.7 L1238.3,357.9 L1242.3,351.1 L1246.3,344.3 L1250.3,337.5 L1254.3,330.7 L1258.3,322.7 L1262.3,314.3 L1266.3,305.8 L1270.3,297.4 L1274.2,289.3 L1278.2,281.8 L1282.2,274.3 L1286.2,266.8 L1290.2,259.3 L1294.2,252.9 L1298.2,246.7 L1302.2,240.6 L1306.2,234.5 L1310.2,228.3 L1314.2,222.2 L1318.2,216.0 L1322.2,209.9 L1326.2,203.8 L1330.2,198.3 L1334.2,192.8 L1338.2,187.3 L1342.2,181.8 L1346.2,176.8 L1350.2,172.3 L1354.2,167.8 L1358.1,164.4 L1362.1,161.0 L1366.1,157.6 L1370.1,154.2 L1374.1,150.8 L1378.1,148.1 L1382.1,145.7 L1386.1,143.3 L1390.1,140.9 L1394.1,138.5 L1398.1,136.8 L1402.1,135.0 L1406.1,133.2 L1410.1,131.4 L1414.1,129.6 L1418.1,128.0 L1422.1,126.4 L1426.1,124.8 L1430.1,123.3 L1434.0,121.7 L1438.0,120.6 L1442.0,119.4 L1446.0,118.3 L1450.0,117.2 L1454.0,116.1 L1458.0,115.4 L1462.0,114.7 L1466.0,114.0 L1470.0,113.4 L1474.0,112.7" stroke="#e2402a" stroke-width="1.4" fill="none"/>
<line x1="1234.3" y1="360.1" x2="1234.3" y2="371.4" stroke="#e2402a" stroke-width="1.2"/>
<line x1="1225.3" y1="360.1" x2="1243.3" y2="360.1" stroke="#e2402a" stroke-width="1.2"/>
<line x1="1225.3" y1="371.4" x2="1243.3" y2="371.4" stroke="#e2402a" stroke-width="1.2"/>
<line x1="1238.3" y1="352.2" x2="1238.3" y2="363.5" stroke="#e2402a" stroke-width="1.2"/>
<line x1="1229.3" y1="352.2" x2="1247.3" y2="352.2" stroke="#e2402a" stroke-width="1.2"/>
<line x1="1229.3" y1="363.5" x2="1247.3" y2="363.5" stroke="#e2402a" stroke-width="1.2"/>
<line x1="1242.3" y1="345.4" x2="1242.3" y2="356.7" stroke="#e2402a" stroke-width="1.2"/>
<line x1="1233.3" y1="345.4" x2="1251.3" y2="345.4" stroke="#e2402a" stroke-width="1.2"/>
<line x1="1233.3" y1="356.7" x2="1251.3" y2="356.7" stroke="#e2402a" stroke-width="1.2"/>
<line x1="1246.3" y1="338.6" x2="1246.3" y2="349.9" stroke="#e2402a" stroke-width="1.2"/>
<line x1="1237.3" y1="338.6" x2="1255.3" y2="338.6" stroke="#e2402a" stroke-width="1.2"/>
<line x1="1237.3" y1="349.9" x2="1255.3" y2="349.9" stroke="#e2402a" stroke-width="1.2"/>
<line x1="1250.3" y1="331.8" x2="1250.3" y2="343.1" stroke="#e2402a" stroke-width="1.2"/>
<line x1="1241.3" y1="331.8" x2="1259.3" y2="331.8" stroke="#e2402a" stroke-width="1.2"/>
<line x1="1241.3" y1="343.1" x2="1259.3" y2="343.1" stroke="#e2402a" stroke-width="1.2"/>
<line x1="1254.3" y1="325.0" x2="1254.3" y2="336.3" stroke="#e2402a" stroke-width="1.2"/>
<line x1="1245.3" y1="325.0" x2="1263.3" y2="325.0" stroke="#e2402a" stroke-width="1.2"/>
<line x1="1245.3" y1="336.3" x2="1263.3" y2="336.3" stroke="#e2402a" stroke-width="1.2"/>
<line x1="1258.3" y1="317.1" x2="1258.3" y2="328.3" stroke="#e2402a" stroke-width="1.2"/>
<line x1="1249.3" y1="317.1" x2="1267.3" y2="317.1" stroke="#e2402a" stroke-width="1.2"/>
<line x1="1249.3" y1="328.3" x2="1267.3" y2="328.3" stroke="#e2402a" stroke-width="1.2"/>
<line x1="1262.3" y1="308.7" x2="1262.3" y2="319.9" stroke="#e2402a" stroke-width="1.2"/>
<line x1="1253.3" y1="308.7" x2="1271.3" y2="308.7" stroke="#e2402a" stroke-width="1.2"/>
<line x1="1253.3" y1="319.9" x2="1271.3" y2="319.9" stroke="#e2402a" stroke-width="1.2"/>
<line x1="1266.3" y1="300.2" x2="1266.3" y2="311.5" stroke="#e2402a" stroke-width="1.2"/>
<line x1="1257.3" y1="300.2" x2="1275.3" y2="300.2" stroke="#e2402a" stroke-width="1.2"/>
<line x1="1257.3" y1="311.5" x2="1275.3" y2="311.5" stroke="#e2402a" stroke-width="1.2"/>
<line x1="1270.3" y1="291.8" x2="1270.3" y2="303.0" stroke="#e2402a" stroke-width="1.2"/>
<line x1="1261.3" y1="291.8" x2="1279.3" y2="291.8" stroke="#e2402a" stroke-width="1.2"/>
<line x1="1261.3" y1="303.0" x2="1279.3" y2="303.0" stroke="#e2402a" stroke-width="1.2"/>
<line x1="1274.2" y1="283.6" x2="1274.2" y2="294.9" stroke="#e2402a" stroke-width="1.2"/>
<line x1="1265.2" y1="283.6" x2="1283.2" y2="283.6" stroke="#e2402a" stroke-width="1.2"/>
<line x1="1265.2" y1="294.9" x2="1283.2" y2="294.9" stroke="#e2402a" stroke-width="1.2"/>
<line x1="1278.2" y1="276.1" x2="1278.2" y2="287.4" stroke="#e2402a" stroke-width="1.2"/>
<line x1="1269.2" y1="276.1" x2="1287.2" y2="276.1" stroke="#e2402a" stroke-width="1.2"/>
<line x1="1269.2" y1="287.4" x2="1287.2" y2="287.4" stroke="#e2402a" stroke-width="1.2"/>
<line x1="1282.2" y1="268.6" x2="1282.2" y2="279.9" stroke="#e2402a" stroke-width="1.2"/>
<line x1="1273.2" y1="268.6" x2="1291.2" y2="268.6" stroke="#e2402a" stroke-width="1.2"/>
<line x1="1273.2" y1="279.9" x2="1291.2" y2="279.9" stroke="#e2402a" stroke-width="1.2"/>
<line x1="1286.2" y1="261.1" x2="1286.2" y2="272.4" stroke="#e2402a" stroke-width="1.2"/>
<line x1="1277.2" y1="261.1" x2="1295.2" y2="261.1" stroke="#e2402a" stroke-width="1.2"/>
<line x1="1277.2" y1="272.4" x2="1295.2" y2="272.4" stroke="#e2402a" stroke-width="1.2"/>
<line x1="1290.2" y1="253.6" x2="1290.2" y2="264.9" stroke="#e2402a" stroke-width="1.2"/>
<line x1="1281.2" y1="253.6" x2="1299.2" y2="253.6" stroke="#e2402a" stroke-width="1.2"/>
<line x1="1281.2" y1="264.9" x2="1299.2" y2="264.9" stroke="#e2402a" stroke-width="1.2"/>
<line x1="1294.2" y1="247.2" x2="1294.2" y2="258.5" stroke="#e2402a" stroke-width="1.2"/>
<line x1="1285.2" y1="247.2" x2="1303.2" y2="247.2" stroke="#e2402a" stroke-width="1.2"/>
<line x1="1285.2" y1="258.5" x2="1303.2" y2="258.5" stroke="#e2402a" stroke-width="1.2"/>
<line x1="1298.2" y1="241.1" x2="1298.2" y2="252.3" stroke="#e2402a" stroke-width="1.2"/>
<line x1="1289.2" y1="241.1" x2="1307.2" y2="241.1" stroke="#e2402a" stroke-width="1.2"/>
<line x1="1289.2" y1="252.3" x2="1307.2" y2="252.3" stroke="#e2402a" stroke-width="1.2"/>
<line x1="1302.2" y1="235.0" x2="1302.2" y2="246.2" stroke="#e2402a" stroke-width="1.2"/>
<line x1="1293.2" y1="235.0" x2="1311.2" y2="235.0" stroke="#e2402a" stroke-width="1.2"/>
<line x1="1293.2" y1="246.2" x2="1311.2" y2="246.2" stroke="#e2402a" stroke-width="1.2"/>
<line x1="1306.2" y1="228.8" x2="1306.2" y2="240.1" stroke="#e2402a" stroke-width="1.2"/>
<line x1="1297.2" y1="228.8" x2="1315.2" y2="228.8" stroke="#e2402a" stroke-width="1.2"/>
<line x1="1297.2" y1="240.1" x2="1315.2" y2="240.1" stroke="#e2402a" stroke-width="1.2"/>
<line x1="1310.2" y1="222.7" x2="1310.2" y2="233.9" stroke="#e2402a" stroke-width="1.2"/>
<line x1="1301.2" y1="222.7" x2="1319.2" y2="222.7" stroke="#e2402a" stroke-width="1.2"/>
<line x1="1301.2" y1="233.9" x2="1319.2" y2="233.9" stroke="#e2402a" stroke-width="1.2"/>
<line x1="1314.2" y1="216.6" x2="1314.2" y2="227.8" stroke="#e2402a" stroke-width="1.2"/>
<line x1="1305.2" y1="216.6" x2="1323.2" y2="216.6" stroke="#e2402a" stroke-width="1.2"/>
<line x1="1305.2" y1="227.8" x2="1323.2" y2="227.8" stroke="#e2402a" stroke-width="1.2"/>
<line x1="1318.2" y1="210.4" x2="1318.2" y2="221.7" stroke="#e2402a" stroke-width="1.2"/>
<line x1="1309.2" y1="210.4" x2="1327.2" y2="210.4" stroke="#e2402a" stroke-width="1.2"/>
<line x1="1309.2" y1="221.7" x2="1327.2" y2="221.7" stroke="#e2402a" stroke-width="1.2"/>
<line x1="1322.2" y1="204.3" x2="1322.2" y2="215.5" stroke="#e2402a" stroke-width="1.2"/>
<line x1="1313.2" y1="204.3" x2="1331.2" y2="204.3" stroke="#e2402a" stroke-width="1.2"/>
<line x1="1313.2" y1="215.5" x2="1331.2" y2="215.5" stroke="#e2402a" stroke-width="1.2"/>
<line x1="1326.2" y1="198.2" x2="1326.2" y2="209.4" stroke="#e2402a" stroke-width="1.2"/>
<line x1="1317.2" y1="198.2" x2="1335.2" y2="198.2" stroke="#e2402a" stroke-width="1.2"/>
<line x1="1317.2" y1="209.4" x2="1335.2" y2="209.4" stroke="#e2402a" stroke-width="1.2"/>
<line x1="1330.2" y1="192.7" x2="1330.2" y2="203.9" stroke="#e2402a" stroke-width="1.2"/>
<line x1="1321.2" y1="192.7" x2="1339.2" y2="192.7" stroke="#e2402a" stroke-width="1.2"/>
<line x1="1321.2" y1="203.9" x2="1339.2" y2="203.9" stroke="#e2402a" stroke-width="1.2"/>
<line x1="1334.2" y1="187.2" x2="1334.2" y2="198.4" stroke="#e2402a" stroke-width="1.2"/>
<line x1="1325.2" y1="187.2" x2="1343.2" y2="187.2" stroke="#e2402a" stroke-width="1.2"/>
<line x1="1325.2" y1="198.4" x2="1343.2" y2="198.4" stroke="#e2402a" stroke-width="1.2"/>
<line x1="1338.2" y1="181.7" x2="1338.2" y2="192.9" stroke="#e2402a" stroke-width="1.2"/>
<line x1="1329.2" y1="181.7" x2="1347.2" y2="181.7" stroke="#e2402a" stroke-width="1.2"/>
<line x1="1329.2" y1="192.9" x2="1347.2" y2="192.9" stroke="#e2402a" stroke-width="1.2"/>
<line x1="1342.2" y1="176.2" x2="1342.2" y2="187.4" stroke="#e2402a" stroke-width="1.2"/>
<line x1="1333.2" y1="176.2" x2="1351.2" y2="176.2" stroke="#e2402a" stroke-width="1.2"/>
<line x1="1333.2" y1="187.4" x2="1351.2" y2="187.4" stroke="#e2402a" stroke-width="1.2"/>
<line x1="1346.2" y1="171.2" x2="1346.2" y2="182.4" stroke="#e2402a" stroke-width="1.2"/>
<line x1="1337.2" y1="171.2" x2="1355.2" y2="171.2" stroke="#e2402a" stroke-width="1.2"/>
<line x1="1337.2" y1="182.4" x2="1355.2" y2="182.4" stroke="#e2402a" stroke-width="1.2"/>
<line x1="1350.2" y1="166.7" x2="1350.2" y2="177.9" stroke="#e2402a" stroke-width="1.2"/>
<line x1="1341.2" y1="166.7" x2="1359.2" y2="166.7" stroke="#e2402a" stroke-width="1.2"/>
<line x1="1341.2" y1="177.9" x2="1359.2" y2="177.9" stroke="#e2402a" stroke-width="1.2"/>
<line x1="1354.2" y1="162.2" x2="1354.2" y2="173.4" stroke="#e2402a" stroke-width="1.2"/>
<line x1="1345.2" y1="162.2" x2="1363.2" y2="162.2" stroke="#e2402a" stroke-width="1.2"/>
<line x1="1345.2" y1="173.4" x2="1363.2" y2="173.4" stroke="#e2402a" stroke-width="1.2"/>
<line x1="1358.1" y1="158.8" x2="1358.1" y2="170.0" stroke="#e2402a" stroke-width="1.2"/>
<line x1="1349.1" y1="158.8" x2="1367.1" y2="158.8" stroke="#e2402a" stroke-width="1.2"/>
<line x1="1349.1" y1="170.0" x2="1367.1" y2="170.0" stroke="#e2402a" stroke-width="1.2"/>
<line x1="1362.1" y1="155.4" x2="1362.1" y2="166.6" stroke="#e2402a" stroke-width="1.2"/>
<line x1="1353.1" y1="155.4" x2="1371.1" y2="155.4" stroke="#e2402a" stroke-width="1.2"/>
<line x1="1353.1" y1="166.6" x2="1371.1" y2="166.6" stroke="#e2402a" stroke-width="1.2"/>
<line x1="1366.1" y1="152.0" x2="1366.1" y2="163.2" stroke="#e2402a" stroke-width="1.2"/>
<line x1="1357.1" y1="152.0" x2="1375.1" y2="152.0" stroke="#e2402a" stroke-width="1.2"/>
<line x1="1357.1" y1="163.2" x2="1375.1" y2="163.2" stroke="#e2402a" stroke-width="1.2"/>
<line x1="1370.1" y1="148.6" x2="1370.1" y2="159.8" stroke="#e2402a" stroke-width="1.2"/>
<line x1="1361.1" y1="148.6" x2="1379.1" y2="148.6" stroke="#e2402a" stroke-width="1.2"/>
<line x1="1361.1" y1="159.8" x2="1379.1" y2="159.8" stroke="#e2402a" stroke-width="1.2"/>
<line x1="1374.1" y1="145.2" x2="1374.1" y2="156.4" stroke="#e2402a" stroke-width="1.2"/>
<line x1="1365.1" y1="145.2" x2="1383.1" y2="145.2" stroke="#e2402a" stroke-width="1.2"/>
<line x1="1365.1" y1="156.4" x2="1383.1" y2="156.4" stroke="#e2402a" stroke-width="1.2"/>
<line x1="1378.1" y1="142.5" x2="1378.1" y2="153.7" stroke="#e2402a" stroke-width="1.2"/>
<line x1="1369.1" y1="142.5" x2="1387.1" y2="142.5" stroke="#e2402a" stroke-width="1.2"/>
<line x1="1369.1" y1="153.7" x2="1387.1" y2="153.7" stroke="#e2402a" stroke-width="1.2"/>
<line x1="1382.1" y1="140.1" x2="1382.1" y2="151.4" stroke="#e2402a" stroke-width="1.2"/>
<line x1="1373.1" y1="140.1" x2="1391.1" y2="140.1" stroke="#e2402a" stroke-width="1.2"/>
<line x1="1373.1" y1="151.4" x2="1391.1" y2="151.4" stroke="#e2402a" stroke-width="1.2"/>
<line x1="1386.1" y1="137.7" x2="1386.1" y2="149.0" stroke="#e2402a" stroke-width="1.2"/>
<line x1="1377.1" y1="137.7" x2="1395.1" y2="137.7" stroke="#e2402a" stroke-width="1.2"/>
<line x1="1377.1" y1="149.0" x2="1395.1" y2="149.0" stroke="#e2402a" stroke-width="1.2"/>
<line x1="1390.1" y1="135.3" x2="1390.1" y2="146.6" stroke="#e2402a" stroke-width="1.2"/>
<line x1="1381.1" y1="135.3" x2="1399.1" y2="135.3" stroke="#e2402a" stroke-width="1.2"/>
<line x1="1381.1" y1="146.6" x2="1399.1" y2="146.6" stroke="#e2402a" stroke-width="1.2"/>
<line x1="1394.1" y1="132.9" x2="1394.1" y2="144.2" stroke="#e2402a" stroke-width="1.2"/>
<line x1="1385.1" y1="132.9" x2="1403.1" y2="132.9" stroke="#e2402a" stroke-width="1.2"/>
<line x1="1385.1" y1="144.2" x2="1403.1" y2="144.2" stroke="#e2402a" stroke-width="1.2"/>
<line x1="1398.1" y1="131.1" x2="1398.1" y2="142.4" stroke="#e2402a" stroke-width="1.2"/>
<line x1="1389.1" y1="131.1" x2="1407.1" y2="131.1" stroke="#e2402a" stroke-width="1.2"/>
<line x1="1389.1" y1="142.4" x2="1407.1" y2="142.4" stroke="#e2402a" stroke-width="1.2"/>
<line x1="1402.1" y1="129.3" x2="1402.1" y2="140.6" stroke="#e2402a" stroke-width="1.2"/>
<line x1="1393.1" y1="129.3" x2="1411.1" y2="129.3" stroke="#e2402a" stroke-width="1.2"/>
<line x1="1393.1" y1="140.6" x2="1411.1" y2="140.6" stroke="#e2402a" stroke-width="1.2"/>
<line x1="1406.1" y1="127.5" x2="1406.1" y2="138.8" stroke="#e2402a" stroke-width="1.2"/>
<line x1="1397.1" y1="127.5" x2="1415.1" y2="127.5" stroke="#e2402a" stroke-width="1.2"/>
<line x1="1397.1" y1="138.8" x2="1415.1" y2="138.8" stroke="#e2402a" stroke-width="1.2"/>
<line x1="1410.1" y1="125.7" x2="1410.1" y2="137.0" stroke="#e2402a" stroke-width="1.2"/>
<line x1="1401.1" y1="125.7" x2="1419.1" y2="125.7" stroke="#e2402a" stroke-width="1.2"/>
<line x1="1401.1" y1="137.0" x2="1419.1" y2="137.0" stroke="#e2402a" stroke-width="1.2"/>
<line x1="1414.1" y1="123.9" x2="1414.1" y2="135.2" stroke="#e2402a" stroke-width="1.2"/>
<line x1="1405.1" y1="123.9" x2="1423.1" y2="123.9" stroke="#e2402a" stroke-width="1.2"/>
<line x1="1405.1" y1="135.2" x2="1423.1" y2="135.2" stroke="#e2402a" stroke-width="1.2"/>
<line x1="1418.1" y1="122.4" x2="1418.1" y2="133.6" stroke="#e2402a" stroke-width="1.2"/>
<line x1="1409.1" y1="122.4" x2="1427.1" y2="122.4" stroke="#e2402a" stroke-width="1.2"/>
<line x1="1409.1" y1="133.6" x2="1427.1" y2="133.6" stroke="#e2402a" stroke-width="1.2"/>
<line x1="1422.1" y1="120.8" x2="1422.1" y2="132.0" stroke="#e2402a" stroke-width="1.2"/>
<line x1="1413.1" y1="120.8" x2="1431.1" y2="120.8" stroke="#e2402a" stroke-width="1.2"/>
<line x1="1413.1" y1="132.0" x2="1431.1" y2="132.0" stroke="#e2402a" stroke-width="1.2"/>
<line x1="1426.1" y1="119.2" x2="1426.1" y2="130.5" stroke="#e2402a" stroke-width="1.2"/>
<line x1="1417.1" y1="119.2" x2="1435.1" y2="119.2" stroke="#e2402a" stroke-width="1.2"/>
<line x1="1417.1" y1="130.5" x2="1435.1" y2="130.5" stroke="#e2402a" stroke-width="1.2"/>
<line x1="1430.1" y1="117.6" x2="1430.1" y2="128.9" stroke="#e2402a" stroke-width="1.2"/>
<line x1="1421.1" y1="117.6" x2="1439.1" y2="117.6" stroke="#e2402a" stroke-width="1.2"/>
<line x1="1421.1" y1="128.9" x2="1439.1" y2="128.9" stroke="#e2402a" stroke-width="1.2"/>
<line x1="1434.0" y1="116.1" x2="1434.0" y2="127.3" stroke="#e2402a" stroke-width="1.2"/>
<line x1="1425.0" y1="116.1" x2="1443.0" y2="116.1" stroke="#e2402a" stroke-width="1.2"/>
<line x1="1425.0" y1="127.3" x2="1443.0" y2="127.3" stroke="#e2402a" stroke-width="1.2"/>
<line x1="1438.0" y1="114.9" x2="1438.0" y2="126.2" stroke="#e2402a" stroke-width="1.2"/>
<line x1="1429.0" y1="114.9" x2="1447.0" y2="114.9" stroke="#e2402a" stroke-width="1.2"/>
<line x1="1429.0" y1="126.2" x2="1447.0" y2="126.2" stroke="#e2402a" stroke-width="1.2"/>
<line x1="1442.0" y1="113.8" x2="1442.0" y2="125.1" stroke="#e2402a" stroke-width="1.2"/>
<line x1="1433.0" y1="113.8" x2="1451.0" y2="113.8" stroke="#e2402a" stroke-width="1.2"/>
<line x1="1433.0" y1="125.1" x2="1451.0" y2="125.1" stroke="#e2402a" stroke-width="1.2"/>
<line x1="1446.0" y1="112.7" x2="1446.0" y2="123.9" stroke="#e2402a" stroke-width="1.2"/>
<line x1="1437.0" y1="112.7" x2="1455.0" y2="112.7" stroke="#e2402a" stroke-width="1.2"/>
<line x1="1437.0" y1="123.9" x2="1455.0" y2="123.9" stroke="#e2402a" stroke-width="1.2"/>
<line x1="1450.0" y1="111.6" x2="1450.0" y2="122.8" stroke="#e2402a" stroke-width="1.2"/>
<line x1="1441.0" y1="111.6" x2="1459.0" y2="111.6" stroke="#e2402a" stroke-width="1.2"/>
<line x1="1441.0" y1="122.8" x2="1459.0" y2="122.8" stroke="#e2402a" stroke-width="1.2"/>
<line x1="1454.0" y1="110.4" x2="1454.0" y2="121.7" stroke="#e2402a" stroke-width="1.2"/>
<line x1="1445.0" y1="110.4" x2="1463.0" y2="110.4" stroke="#e2402a" stroke-width="1.2"/>
<line x1="1445.0" y1="121.7" x2="1463.0" y2="121.7" stroke="#e2402a" stroke-width="1.2"/>
<line x1="1458.0" y1="109.8" x2="1458.0" y2="121.0" stroke="#e2402a" stroke-width="1.2"/>
<line x1="1449.0" y1="109.8" x2="1467.0" y2="109.8" stroke="#e2402a" stroke-width="1.2"/>
<line x1="1449.0" y1="121.0" x2="1467.0" y2="121.0" stroke="#e2402a" stroke-width="1.2"/>
<line x1="1462.0" y1="109.1" x2="1462.0" y2="120.3" stroke="#e2402a" stroke-width="1.2"/>
<line x1="1453.0" y1="109.1" x2="1471.0" y2="109.1" stroke="#e2402a" stroke-width="1.2"/>
<line x1="1453.0" y1="120.3" x2="1471.0" y2="120.3" stroke="#e2402a" stroke-width="1.2"/>
<line x1="1466.0" y1="108.4" x2="1466.0" y2="119.7" stroke="#e2402a" stroke-width="1.2"/>
<line x1="1457.0" y1="108.4" x2="1475.0" y2="108.4" stroke="#e2402a" stroke-width="1.2"/>
<line x1="1457.0" y1="119.7" x2="1475.0" y2="119.7" stroke="#e2402a" stroke-width="1.2"/>
<line x1="1470.0" y1="107.7" x2="1470.0" y2="119.0" stroke="#e2402a" stroke-width="1.2"/>
<line x1="1461.0" y1="107.7" x2="1479.0" y2="107.7" stroke="#e2402a" stroke-width="1.2"/>
<line x1="1461.0" y1="119.0" x2="1479.0" y2="119.0" stroke="#e2402a" stroke-width="1.2"/>
<line x1="1474.0" y1="107.1" x2="1474.0" y2="118.3" stroke="#e2402a" stroke-width="1.2"/>
<line x1="1465.0" y1="107.1" x2="1483.0" y2="107.1" stroke="#e2402a" stroke-width="1.2"/>
<line x1="1465.0" y1="118.3" x2="1483.0" y2="118.3" stroke="#e2402a" stroke-width="1.2"/>
<path d="M1234.3,374.7 L1238.3,357.7 L1242.3,351.6 L1246.3,345.5 L1250.3,339.4 L1254.3,333.3 L1258.3,325.1 L1262.3,316.0 L1266.3,306.9 L1270.3,297.9 L1274.2,289.3 L1278.2,282.1 L1282.2,274.8 L1286.2,267.6 L1290.2,260.3 L1294.2,253.6 L1298.2,246.9 L1302.2,240.3 L1306.2,233.6 L1310.2,227.0 L1314.2,220.3 L1318.2,213.7 L1322.2,207.1 L1326.2,200.4 L1330.2,194.7 L1334.2,188.9 L1338.2,183.2 L1342.2,177.4 L1346.2,172.0 L1350.2,166.9 L1354.2,161.8 L1358.1,156.6 L1362.1,151.6 L1366.1,147.6 L1370.1,143.6 L1374.1,139.6 L1378.1,135.7 L1382.1,132.3 L1386.1,129.3 L1390.1,126.4 L1394.1,123.5 L1398.1,120.5 L1402.1,117.7 L1406.1,114.8 L1410.1,111.9 L1414.1,109.0 L1418.1,106.8 L1422.1,104.7 L1426.1,102.7 L1430.1,100.6 L1434.0,98.8 L1438.0,97.5 L1442.0,96.2 L1446.0,95.0 L1450.0,93.7 L1454.0,93.0 L1458.0,92.3 L1462.0,91.6 L1466.0,90.9 L1470.0,90.3 L1474.0,89.1" stroke="#000" stroke-width="1.6" fill="none"/>
<line x1="1234.3" y1="369.7" x2="1234.3" y2="379.8" stroke="#000" stroke-width="1.3"/>
<line x1="1225.3" y1="369.7" x2="1243.3" y2="369.7" stroke="#000" stroke-width="1.3"/>
<line x1="1225.3" y1="379.8" x2="1243.3" y2="379.8" stroke="#000" stroke-width="1.3"/>
<line x1="1238.3" y1="352.6" x2="1238.3" y2="362.7" stroke="#000" stroke-width="1.3"/>
<line x1="1229.3" y1="352.6" x2="1247.3" y2="352.6" stroke="#000" stroke-width="1.3"/>
<line x1="1229.3" y1="362.7" x2="1247.3" y2="362.7" stroke="#000" stroke-width="1.3"/>
<line x1="1242.3" y1="346.5" x2="1242.3" y2="356.6" stroke="#000" stroke-width="1.3"/>
<line x1="1233.3" y1="346.5" x2="1251.3" y2="346.5" stroke="#000" stroke-width="1.3"/>
<line x1="1233.3" y1="356.6" x2="1251.3" y2="356.6" stroke="#000" stroke-width="1.3"/>
<line x1="1246.3" y1="340.4" x2="1246.3" y2="350.5" stroke="#000" stroke-width="1.3"/>
<line x1="1237.3" y1="340.4" x2="1255.3" y2="340.4" stroke="#000" stroke-width="1.3"/>
<line x1="1237.3" y1="350.5" x2="1255.3" y2="350.5" stroke="#000" stroke-width="1.3"/>
<line x1="1250.3" y1="334.3" x2="1250.3" y2="344.4" stroke="#000" stroke-width="1.3"/>
<line x1="1241.3" y1="334.3" x2="1259.3" y2="334.3" stroke="#000" stroke-width="1.3"/>
<line x1="1241.3" y1="344.4" x2="1259.3" y2="344.4" stroke="#000" stroke-width="1.3"/>
<line x1="1254.3" y1="328.2" x2="1254.3" y2="338.3" stroke="#000" stroke-width="1.3"/>
<line x1="1245.3" y1="328.2" x2="1263.3" y2="328.2" stroke="#000" stroke-width="1.3"/>
<line x1="1245.3" y1="338.3" x2="1263.3" y2="338.3" stroke="#000" stroke-width="1.3"/>
<line x1="1258.3" y1="320.0" x2="1258.3" y2="330.1" stroke="#000" stroke-width="1.3"/>
<line x1="1249.3" y1="320.0" x2="1267.3" y2="320.0" stroke="#000" stroke-width="1.3"/>
<line x1="1249.3" y1="330.1" x2="1267.3" y2="330.1" stroke="#000" stroke-width="1.3"/>
<line x1="1262.3" y1="310.9" x2="1262.3" y2="321.1" stroke="#000" stroke-width="1.3"/>
<line x1="1253.3" y1="310.9" x2="1271.3" y2="310.9" stroke="#000" stroke-width="1.3"/>
<line x1="1253.3" y1="321.1" x2="1271.3" y2="321.1" stroke="#000" stroke-width="1.3"/>
<line x1="1266.3" y1="301.9" x2="1266.3" y2="312.0" stroke="#000" stroke-width="1.3"/>
<line x1="1257.3" y1="301.9" x2="1275.3" y2="301.9" stroke="#000" stroke-width="1.3"/>
<line x1="1257.3" y1="312.0" x2="1275.3" y2="312.0" stroke="#000" stroke-width="1.3"/>
<line x1="1270.3" y1="292.8" x2="1270.3" y2="302.9" stroke="#000" stroke-width="1.3"/>
<line x1="1261.3" y1="292.8" x2="1279.3" y2="292.8" stroke="#000" stroke-width="1.3"/>
<line x1="1261.3" y1="302.9" x2="1279.3" y2="302.9" stroke="#000" stroke-width="1.3"/>
<line x1="1274.2" y1="284.3" x2="1274.2" y2="294.4" stroke="#000" stroke-width="1.3"/>
<line x1="1265.2" y1="284.3" x2="1283.2" y2="284.3" stroke="#000" stroke-width="1.3"/>
<line x1="1265.2" y1="294.4" x2="1283.2" y2="294.4" stroke="#000" stroke-width="1.3"/>
<line x1="1278.2" y1="277.0" x2="1278.2" y2="287.1" stroke="#000" stroke-width="1.3"/>
<line x1="1269.2" y1="277.0" x2="1287.2" y2="277.0" stroke="#000" stroke-width="1.3"/>
<line x1="1269.2" y1="287.1" x2="1287.2" y2="287.1" stroke="#000" stroke-width="1.3"/>
<line x1="1282.2" y1="269.8" x2="1282.2" y2="279.9" stroke="#000" stroke-width="1.3"/>
<line x1="1273.2" y1="269.8" x2="1291.2" y2="269.8" stroke="#000" stroke-width="1.3"/>
<line x1="1273.2" y1="279.9" x2="1291.2" y2="279.9" stroke="#000" stroke-width="1.3"/>
<line x1="1286.2" y1="262.5" x2="1286.2" y2="272.6" stroke="#000" stroke-width="1.3"/>
<line x1="1277.2" y1="262.5" x2="1295.2" y2="262.5" stroke="#000" stroke-width="1.3"/>
<line x1="1277.2" y1="272.6" x2="1295.2" y2="272.6" stroke="#000" stroke-width="1.3"/>
<line x1="1290.2" y1="255.3" x2="1290.2" y2="265.4" stroke="#000" stroke-width="1.3"/>
<line x1="1281.2" y1="255.3" x2="1299.2" y2="255.3" stroke="#000" stroke-width="1.3"/>
<line x1="1281.2" y1="265.4" x2="1299.2" y2="265.4" stroke="#000" stroke-width="1.3"/>
<line x1="1294.2" y1="248.5" x2="1294.2" y2="258.6" stroke="#000" stroke-width="1.3"/>
<line x1="1285.2" y1="248.5" x2="1303.2" y2="248.5" stroke="#000" stroke-width="1.3"/>
<line x1="1285.2" y1="258.6" x2="1303.2" y2="258.6" stroke="#000" stroke-width="1.3"/>
<line x1="1298.2" y1="241.9" x2="1298.2" y2="252.0" stroke="#000" stroke-width="1.3"/>
<line x1="1289.2" y1="241.9" x2="1307.2" y2="241.9" stroke="#000" stroke-width="1.3"/>
<line x1="1289.2" y1="252.0" x2="1307.2" y2="252.0" stroke="#000" stroke-width="1.3"/>
<line x1="1302.2" y1="235.2" x2="1302.2" y2="245.3" stroke="#000" stroke-width="1.3"/>
<line x1="1293.2" y1="235.2" x2="1311.2" y2="235.2" stroke="#000" stroke-width="1.3"/>
<line x1="1293.2" y1="245.3" x2="1311.2" y2="245.3" stroke="#000" stroke-width="1.3"/>
<line x1="1306.2" y1="228.6" x2="1306.2" y2="238.7" stroke="#000" stroke-width="1.3"/>
<line x1="1297.2" y1="228.6" x2="1315.2" y2="228.6" stroke="#000" stroke-width="1.3"/>
<line x1="1297.2" y1="238.7" x2="1315.2" y2="238.7" stroke="#000" stroke-width="1.3"/>
<line x1="1310.2" y1="221.9" x2="1310.2" y2="232.1" stroke="#000" stroke-width="1.3"/>
<line x1="1301.2" y1="221.9" x2="1319.2" y2="221.9" stroke="#000" stroke-width="1.3"/>
<line x1="1301.2" y1="232.1" x2="1319.2" y2="232.1" stroke="#000" stroke-width="1.3"/>
<line x1="1314.2" y1="215.3" x2="1314.2" y2="225.4" stroke="#000" stroke-width="1.3"/>
<line x1="1305.2" y1="215.3" x2="1323.2" y2="215.3" stroke="#000" stroke-width="1.3"/>
<line x1="1305.2" y1="225.4" x2="1323.2" y2="225.4" stroke="#000" stroke-width="1.3"/>
<line x1="1318.2" y1="208.6" x2="1318.2" y2="218.8" stroke="#000" stroke-width="1.3"/>
<line x1="1309.2" y1="208.6" x2="1327.2" y2="208.6" stroke="#000" stroke-width="1.3"/>
<line x1="1309.2" y1="218.8" x2="1327.2" y2="218.8" stroke="#000" stroke-width="1.3"/>
<line x1="1322.2" y1="202.0" x2="1322.2" y2="212.1" stroke="#000" stroke-width="1.3"/>
<line x1="1313.2" y1="202.0" x2="1331.2" y2="202.0" stroke="#000" stroke-width="1.3"/>
<line x1="1313.2" y1="212.1" x2="1331.2" y2="212.1" stroke="#000" stroke-width="1.3"/>
<line x1="1326.2" y1="195.3" x2="1326.2" y2="205.5" stroke="#000" stroke-width="1.3"/>
<line x1="1317.2" y1="195.3" x2="1335.2" y2="195.3" stroke="#000" stroke-width="1.3"/>
<line x1="1317.2" y1="205.5" x2="1335.2" y2="205.5" stroke="#000" stroke-width="1.3"/>
<line x1="1330.2" y1="189.6" x2="1330.2" y2="199.7" stroke="#000" stroke-width="1.3"/>
<line x1="1321.2" y1="189.6" x2="1339.2" y2="189.6" stroke="#000" stroke-width="1.3"/>
<line x1="1321.2" y1="199.7" x2="1339.2" y2="199.7" stroke="#000" stroke-width="1.3"/>
<line x1="1334.2" y1="183.8" x2="1334.2" y2="194.0" stroke="#000" stroke-width="1.3"/>
<line x1="1325.2" y1="183.8" x2="1343.2" y2="183.8" stroke="#000" stroke-width="1.3"/>
<line x1="1325.2" y1="194.0" x2="1343.2" y2="194.0" stroke="#000" stroke-width="1.3"/>
<line x1="1338.2" y1="178.1" x2="1338.2" y2="188.2" stroke="#000" stroke-width="1.3"/>
<line x1="1329.2" y1="178.1" x2="1347.2" y2="178.1" stroke="#000" stroke-width="1.3"/>
<line x1="1329.2" y1="188.2" x2="1347.2" y2="188.2" stroke="#000" stroke-width="1.3"/>
<line x1="1342.2" y1="172.4" x2="1342.2" y2="182.5" stroke="#000" stroke-width="1.3"/>
<line x1="1333.2" y1="172.4" x2="1351.2" y2="172.4" stroke="#000" stroke-width="1.3"/>
<line x1="1333.2" y1="182.5" x2="1351.2" y2="182.5" stroke="#000" stroke-width="1.3"/>
<line x1="1346.2" y1="166.9" x2="1346.2" y2="177.0" stroke="#000" stroke-width="1.3"/>
<line x1="1337.2" y1="166.9" x2="1355.2" y2="166.9" stroke="#000" stroke-width="1.3"/>
<line x1="1337.2" y1="177.0" x2="1355.2" y2="177.0" stroke="#000" stroke-width="1.3"/>
<line x1="1350.2" y1="161.8" x2="1350.2" y2="171.9" stroke="#000" stroke-width="1.3"/>
<line x1="1341.2" y1="161.8" x2="1359.2" y2="161.8" stroke="#000" stroke-width="1.3"/>
<line x1="1341.2" y1="171.9" x2="1359.2" y2="171.9" stroke="#000" stroke-width="1.3"/>
<line x1="1354.2" y1="156.7" x2="1354.2" y2="166.8" stroke="#000" stroke-width="1.3"/>
<line x1="1345.2" y1="156.7" x2="1363.2" y2="156.7" stroke="#000" stroke-width="1.3"/>
<line x1="1345.2" y1="166.8" x2="1363.2" y2="166.8" stroke="#000" stroke-width="1.3"/>
<line x1="1358.1" y1="151.6" x2="1358.1" y2="161.7" stroke="#000" stroke-width="1.3"/>
<line x1="1349.1" y1="151.6" x2="1367.1" y2="151.6" stroke="#000" stroke-width="1.3"/>
<line x1="1349.1" y1="161.7" x2="1367.1" y2="161.7" stroke="#000" stroke-width="1.3"/>
<line x1="1362.1" y1="146.6" x2="1362.1" y2="156.7" stroke="#000" stroke-width="1.3"/>
<line x1="1353.1" y1="146.6" x2="1371.1" y2="146.6" stroke="#000" stroke-width="1.3"/>
<line x1="1353.1" y1="156.7" x2="1371.1" y2="156.7" stroke="#000" stroke-width="1.3"/>
<line x1="1366.1" y1="142.6" x2="1366.1" y2="152.7" stroke="#000" stroke-width="1.3"/>
<line x1="1357.1" y1="142.6" x2="1375.1" y2="142.6" stroke="#000" stroke-width="1.3"/>
<line x1="1357.1" y1="152.7" x2="1375.1" y2="152.7" stroke="#000" stroke-width="1.3"/>
<line x1="1370.1" y1="138.6" x2="1370.1" y2="148.7" stroke="#000" stroke-width="1.3"/>
<line x1="1361.1" y1="138.6" x2="1379.1" y2="138.6" stroke="#000" stroke-width="1.3"/>
<line x1="1361.1" y1="148.7" x2="1379.1" y2="148.7" stroke="#000" stroke-width="1.3"/>
<line x1="1374.1" y1="134.6" x2="1374.1" y2="144.7" stroke="#000" stroke-width="1.3"/>
<line x1="1365.1" y1="134.6" x2="1383.1" y2="134.6" stroke="#000" stroke-width="1.3"/>
<line x1="1365.1" y1="144.7" x2="1383.1" y2="144.7" stroke="#000" stroke-width="1.3"/>
<line x1="1378.1" y1="130.6" x2="1378.1" y2="140.7" stroke="#000" stroke-width="1.3"/>
<line x1="1369.1" y1="130.6" x2="1387.1" y2="130.6" stroke="#000" stroke-width="1.3"/>
<line x1="1369.1" y1="140.7" x2="1387.1" y2="140.7" stroke="#000" stroke-width="1.3"/>
<line x1="1382.1" y1="127.2" x2="1382.1" y2="137.3" stroke="#000" stroke-width="1.3"/>
<line x1="1373.1" y1="127.2" x2="1391.1" y2="127.2" stroke="#000" stroke-width="1.3"/>
<line x1="1373.1" y1="137.3" x2="1391.1" y2="137.3" stroke="#000" stroke-width="1.3"/>
<line x1="1386.1" y1="124.3" x2="1386.1" y2="134.4" stroke="#000" stroke-width="1.3"/>
<line x1="1377.1" y1="124.3" x2="1395.1" y2="124.3" stroke="#000" stroke-width="1.3"/>
<line x1="1377.1" y1="134.4" x2="1395.1" y2="134.4" stroke="#000" stroke-width="1.3"/>
<line x1="1390.1" y1="121.3" x2="1390.1" y2="131.5" stroke="#000" stroke-width="1.3"/>
<line x1="1381.1" y1="121.3" x2="1399.1" y2="121.3" stroke="#000" stroke-width="1.3"/>
<line x1="1381.1" y1="131.5" x2="1399.1" y2="131.5" stroke="#000" stroke-width="1.3"/>
<line x1="1394.1" y1="118.4" x2="1394.1" y2="128.5" stroke="#000" stroke-width="1.3"/>
<line x1="1385.1" y1="118.4" x2="1403.1" y2="118.4" stroke="#000" stroke-width="1.3"/>
<line x1="1385.1" y1="128.5" x2="1403.1" y2="128.5" stroke="#000" stroke-width="1.3"/>
<line x1="1398.1" y1="115.5" x2="1398.1" y2="125.6" stroke="#000" stroke-width="1.3"/>
<line x1="1389.1" y1="115.5" x2="1407.1" y2="115.5" stroke="#000" stroke-width="1.3"/>
<line x1="1389.1" y1="125.6" x2="1407.1" y2="125.6" stroke="#000" stroke-width="1.3"/>
<line x1="1402.1" y1="112.6" x2="1402.1" y2="122.7" stroke="#000" stroke-width="1.3"/>
<line x1="1393.1" y1="112.6" x2="1411.1" y2="112.6" stroke="#000" stroke-width="1.3"/>
<line x1="1393.1" y1="122.7" x2="1411.1" y2="122.7" stroke="#000" stroke-width="1.3"/>
<line x1="1406.1" y1="109.7" x2="1406.1" y2="119.9" stroke="#000" stroke-width="1.3"/>
<line x1="1397.1" y1="109.7" x2="1415.1" y2="109.7" stroke="#000" stroke-width="1.3"/>
<line x1="1397.1" y1="119.9" x2="1415.1" y2="119.9" stroke="#000" stroke-width="1.3"/>
<line x1="1410.1" y1="106.9" x2="1410.1" y2="117.0" stroke="#000" stroke-width="1.3"/>
<line x1="1401.1" y1="106.9" x2="1419.1" y2="106.9" stroke="#000" stroke-width="1.3"/>
<line x1="1401.1" y1="117.0" x2="1419.1" y2="117.0" stroke="#000" stroke-width="1.3"/>
<line x1="1414.1" y1="104.0" x2="1414.1" y2="114.1" stroke="#000" stroke-width="1.3"/>
<line x1="1405.1" y1="104.0" x2="1423.1" y2="104.0" stroke="#000" stroke-width="1.3"/>
<line x1="1405.1" y1="114.1" x2="1423.1" y2="114.1" stroke="#000" stroke-width="1.3"/>
<line x1="1418.1" y1="101.7" x2="1418.1" y2="111.8" stroke="#000" stroke-width="1.3"/>
<line x1="1409.1" y1="101.7" x2="1427.1" y2="101.7" stroke="#000" stroke-width="1.3"/>
<line x1="1409.1" y1="111.8" x2="1427.1" y2="111.8" stroke="#000" stroke-width="1.3"/>
<line x1="1422.1" y1="99.6" x2="1422.1" y2="109.8" stroke="#000" stroke-width="1.3"/>
<line x1="1413.1" y1="99.6" x2="1431.1" y2="99.6" stroke="#000" stroke-width="1.3"/>
<line x1="1413.1" y1="109.8" x2="1431.1" y2="109.8" stroke="#000" stroke-width="1.3"/>
<line x1="1426.1" y1="97.6" x2="1426.1" y2="107.7" stroke="#000" stroke-width="1.3"/>
<line x1="1417.1" y1="97.6" x2="1435.1" y2="97.6" stroke="#000" stroke-width="1.3"/>
<line x1="1417.1" y1="107.7" x2="1435.1" y2="107.7" stroke="#000" stroke-width="1.3"/>
<line x1="1430.1" y1="95.6" x2="1430.1" y2="105.7" stroke="#000" stroke-width="1.3"/>
<line x1="1421.1" y1="95.6" x2="1439.1" y2="95.6" stroke="#000" stroke-width="1.3"/>
<line x1="1421.1" y1="105.7" x2="1439.1" y2="105.7" stroke="#000" stroke-width="1.3"/>
<line x1="1434.0" y1="93.7" x2="1434.0" y2="103.9" stroke="#000" stroke-width="1.3"/>
<line x1="1425.0" y1="93.7" x2="1443.0" y2="93.7" stroke="#000" stroke-width="1.3"/>
<line x1="1425.0" y1="103.9" x2="1443.0" y2="103.9" stroke="#000" stroke-width="1.3"/>
<line x1="1438.0" y1="92.5" x2="1438.0" y2="102.6" stroke="#000" stroke-width="1.3"/>
<line x1="1429.0" y1="92.5" x2="1447.0" y2="92.5" stroke="#000" stroke-width="1.3"/>
<line x1="1429.0" y1="102.6" x2="1447.0" y2="102.6" stroke="#000" stroke-width="1.3"/>
<line x1="1442.0" y1="91.2" x2="1442.0" y2="101.3" stroke="#000" stroke-width="1.3"/>
<line x1="1433.0" y1="91.2" x2="1451.0" y2="91.2" stroke="#000" stroke-width="1.3"/>
<line x1="1433.0" y1="101.3" x2="1451.0" y2="101.3" stroke="#000" stroke-width="1.3"/>
<line x1="1446.0" y1="89.9" x2="1446.0" y2="100.0" stroke="#000" stroke-width="1.3"/>
<line x1="1437.0" y1="89.9" x2="1455.0" y2="89.9" stroke="#000" stroke-width="1.3"/>
<line x1="1437.0" y1="100.0" x2="1455.0" y2="100.0" stroke="#000" stroke-width="1.3"/>
<line x1="1450.0" y1="88.6" x2="1450.0" y2="98.8" stroke="#000" stroke-width="1.3"/>
<line x1="1441.0" y1="88.6" x2="1459.0" y2="88.6" stroke="#000" stroke-width="1.3"/>
<line x1="1441.0" y1="98.8" x2="1459.0" y2="98.8" stroke="#000" stroke-width="1.3"/>
<line x1="1454.0" y1="87.9" x2="1454.0" y2="98.0" stroke="#000" stroke-width="1.3"/>
<line x1="1445.0" y1="87.9" x2="1463.0" y2="87.9" stroke="#000" stroke-width="1.3"/>
<line x1="1445.0" y1="98.0" x2="1463.0" y2="98.0" stroke="#000" stroke-width="1.3"/>
<line x1="1458.0" y1="87.2" x2="1458.0" y2="97.3" stroke="#000" stroke-width="1.3"/>
<line x1="1449.0" y1="87.2" x2="1467.0" y2="87.2" stroke="#000" stroke-width="1.3"/>
<line x1="1449.0" y1="97.3" x2="1467.0" y2="97.3" stroke="#000" stroke-width="1.3"/>
<line x1="1462.0" y1="86.5" x2="1462.0" y2="96.7" stroke="#000" stroke-width="1.3"/>
<line x1="1453.0" y1="86.5" x2="1471.0" y2="86.5" stroke="#000" stroke-width="1.3"/>
<line x1="1453.0" y1="96.7" x2="1471.0" y2="96.7" stroke="#000" stroke-width="1.3"/>
<line x1="1466.0" y1="85.9" x2="1466.0" y2="96.0" stroke="#000" stroke-width="1.3"/>
<line x1="1457.0" y1="85.9" x2="1475.0" y2="85.9" stroke="#000" stroke-width="1.3"/>
<line x1="1457.0" y1="96.0" x2="1475.0" y2="96.0" stroke="#000" stroke-width="1.3"/>
<line x1="1470.0" y1="85.2" x2="1470.0" y2="95.3" stroke="#000" stroke-width="1.3"/>
<line x1="1461.0" y1="85.2" x2="1479.0" y2="85.2" stroke="#000" stroke-width="1.3"/>
<line x1="1461.0" y1="95.3" x2="1479.0" y2="95.3" stroke="#000" stroke-width="1.3"/>
<line x1="1474.0" y1="84.0" x2="1474.0" y2="94.1" stroke="#000" stroke-width="1.3"/>
<line x1="1465.0" y1="84.0" x2="1483.0" y2="84.0" stroke="#000" stroke-width="1.3"/>
<line x1="1465.0" y1="94.1" x2="1483.0" y2="94.1" stroke="#000" stroke-width="1.3"/>
<line x1="1234.3" y1="53.2" x2="1234.3" y2="401.6" stroke="#000" stroke-width="2.2"/>
<line x1="1221.3" y1="391.6" x2="1234.3" y2="391.6" stroke="#000" stroke-width="2.0"/>
<text transform="translate(1215.30,400.00) scale(1,1.04)" font-size="25.5" text-anchor="end">0</text>
<line x1="1221.3" y1="279.1" x2="1234.3" y2="279.1" stroke="#000" stroke-width="2.0"/>
<text transform="translate(1215.30,287.53) scale(1,1.04)" font-size="25.5" text-anchor="end">10</text>
<line x1="1221.3" y1="166.7" x2="1234.3" y2="166.7" stroke="#000" stroke-width="2.0"/>
<text transform="translate(1215.30,175.07) scale(1,1.04)" font-size="25.5" text-anchor="end">20</text>
<line x1="1221.3" y1="54.2" x2="1234.3" y2="54.2" stroke="#000" stroke-width="2.0"/>
<text transform="translate(1215.30,62.60) scale(1,1.04)" font-size="25.5" text-anchor="end">30</text>
<line x1="1221.3" y1="391.6" x2="1475.0" y2="391.6" stroke="#000" stroke-width="2.2"/>
<line x1="1234.3" y1="391.6" x2="1234.3" y2="401.6" stroke="#000" stroke-width="2.0"/>
<text transform="translate(1233.30,427.60) scale(1,1.04)" font-size="25.5" text-anchor="middle">0</text>
<line x1="1354.2" y1="391.6" x2="1354.2" y2="401.6" stroke="#000" stroke-width="2.0"/>
<text transform="translate(1353.15,427.60) scale(1,1.04)" font-size="25.5" text-anchor="middle">30</text>
<line x1="1474.0" y1="391.6" x2="1474.0" y2="401.6" stroke="#000" stroke-width="2.0"/>
<text transform="translate(1473.00,427.60) scale(1,1.04)" font-size="25.5" text-anchor="middle">60</text>
<path d="M1488.5,89 H1507.2 V105.6 H1488.5" stroke="#000" stroke-width="1.8" fill="none"/>
<text transform="translate(1516.00,104.00) scale(1,1.04)" font-size="24">ns</text>
<text transform="translate(1375.00,462.00) scale(1,1.04)" font-size="28.5" text-anchor="middle" font-weight="bold">Time (min)</text>
<text transform="translate(-0.6,549.4) scale(1.004,1)" font-size="58.36" font-weight="bold">b</text>
<text transform="translate(237.00,557.00) scale(1,1.04)" font-size="29.1" text-anchor="middle">Viability</text>
<rect x="153.5" y="663.2" width="26.8" height="256.4" fill="#646160" stroke="#000" stroke-width="2.1"/>
<line x1="166.9" y1="648.0" x2="166.9" y2="675.6" stroke="#000" stroke-width="2"/>
<line x1="158.9" y1="648.0" x2="174.9" y2="648.0" stroke="#000" stroke-width="2.2"/>
<line x1="158.9" y1="675.6" x2="174.9" y2="675.6" stroke="#000" stroke-width="2.2"/>
<circle cx="156.4" cy="647.5" r="5.5" fill="#000"/>
<circle cx="177.0" cy="642.0" r="5.5" fill="#000"/>
<circle cx="177.0" cy="655.5" r="5.5" fill="#000"/>
<circle cx="166.5" cy="702.0" r="5.5" fill="#000"/>
<rect x="200.0" y="678.8" width="26.7" height="240.8" fill="#2f74bd" stroke="#000" stroke-width="2.1"/>
<line x1="213.3" y1="672.5" x2="213.3" y2="686.0" stroke="#000" stroke-width="2"/>
<line x1="205.3" y1="672.5" x2="221.3" y2="672.5" stroke="#000" stroke-width="2.2"/>
<line x1="205.3" y1="686.0" x2="221.3" y2="686.0" stroke="#000" stroke-width="2.2"/>
<circle cx="203.3" cy="670.0" r="5.5" fill="#000"/>
<circle cx="223.6" cy="672.5" r="5.5" fill="#000"/>
<circle cx="213.4" cy="677.5" r="5.5" fill="#000"/>
<circle cx="213.4" cy="690.0" r="5.5" fill="#000"/>
<rect x="246.5" y="677.0" width="26.9" height="242.6" fill="#a4d11c" stroke="#000" stroke-width="2.1"/>
<line x1="259.9" y1="667.0" x2="259.9" y2="684.5" stroke="#000" stroke-width="2"/>
<line x1="251.9" y1="667.0" x2="267.9" y2="667.0" stroke="#000" stroke-width="2.2"/>
<line x1="251.9" y1="684.5" x2="267.9" y2="684.5" stroke="#000" stroke-width="2.2"/>
<circle cx="260.0" cy="656.5" r="5.5" fill="#000"/>
<circle cx="260.0" cy="669.0" r="5.5" fill="#000"/>
<circle cx="260.0" cy="679.0" r="5.5" fill="#000"/>
<circle cx="260.0" cy="698.0" r="5.5" fill="#000"/>
<rect x="293.3" y="656.8" width="26.8" height="262.8" fill="#df2a1c" stroke="#000" stroke-width="2.1"/>
<line x1="306.7" y1="653.5" x2="306.7" y2="660.0" stroke="#000" stroke-width="2"/>
<line x1="298.7" y1="653.5" x2="314.7" y2="653.5" stroke="#000" stroke-width="2.2"/>
<line x1="298.7" y1="660.0" x2="314.7" y2="660.0" stroke="#000" stroke-width="2.2"/>
<circle cx="296.5" cy="651.0" r="5.5" fill="#000"/>
<circle cx="317.0" cy="651.0" r="5.5" fill="#000"/>
<circle cx="304.0" cy="660.0" r="5.5" fill="#000"/>
<circle cx="312.0" cy="658.0" r="5.5" fill="#000"/>
<line x1="135.2" y1="572.3" x2="135.2" y2="920.6" stroke="#000" stroke-width="2.2"/>
<line x1="126.2" y1="919.6" x2="135.2" y2="919.6" stroke="#000" stroke-width="2.0"/>
<text transform="translate(123.40,927.10) scale(1,1.04)" font-size="24.5" text-anchor="end">0</text>
<line x1="126.2" y1="804.2" x2="135.2" y2="804.2" stroke="#000" stroke-width="2.0"/>
<text transform="translate(123.40,811.67) scale(1,1.04)" font-size="24.5" text-anchor="end">100</text>
<line x1="126.2" y1="688.7" x2="135.2" y2="688.7" stroke="#000" stroke-width="2.0"/>
<text transform="translate(123.40,696.23) scale(1,1.04)" font-size="24.5" text-anchor="end">200</text>
<line x1="126.2" y1="573.3" x2="135.2" y2="573.3" stroke="#000" stroke-width="2.0"/>
<text transform="translate(123.40,580.80) scale(1,1.04)" font-size="24.5" text-anchor="end">300</text>
<line x1="126.0" y1="919.6" x2="337.0" y2="919.6" stroke="#000" stroke-width="2.2"/>
<line x1="166.9" y1="919.6" x2="166.9" y2="928.6" stroke="#000" stroke-width="2.0"/>
<text transform="translate(183.40,942.10) rotate(-45) scale(1,1.04)" font-size="25" text-anchor="end">Veh</text>
<line x1="213.3" y1="919.6" x2="213.3" y2="928.6" stroke="#000" stroke-width="2.0"/>
<text transform="translate(229.80,942.10) rotate(-45) scale(1,1.04)" font-size="25" text-anchor="end">DNA</text>
<line x1="260.0" y1="919.6" x2="260.0" y2="928.6" stroke="#000" stroke-width="2.0"/>
<text transform="translate(276.50,942.10) rotate(-45) scale(1,1.04)" font-size="25" text-anchor="end">E64</text>
<line x1="306.7" y1="919.6" x2="306.7" y2="928.6" stroke="#000" stroke-width="2.0"/>
<text transform="translate(323.20,942.10) rotate(-45) scale(1,1.04)" font-size="25" text-anchor="end">E64-DNA</text>
<text transform="translate(69.50,743.50) rotate(-90) scale(1,1.04)" font-size="28.8" text-anchor="middle" font-weight="bold">Fluorescence intensity</text>
<text transform="translate(381.34,552.4) scale(0.942,1)" font-size="60.0" font-weight="bold">c</text>
<text transform="translate(403.30,573.70) scale(1,1.04)" font-size="21">ladder</text>
<text transform="translate(405.30,598.30) scale(1,1.04)" font-size="21">(kDa)</text>
<text transform="translate(510.80,585.70) scale(1,1.04)" font-size="24.5" text-anchor="middle">Veh</text>
<text transform="translate(610.50,585.70) scale(1,1.04)" font-size="24.5" text-anchor="middle">DNA</text>
<text transform="translate(723.30,585.70) scale(1,1.04)" font-size="24.5" text-anchor="middle">E64-DNA</text>
<line x1="464.0" y1="596.3" x2="550.0" y2="596.3" stroke="#000" stroke-width="2"/>
<line x1="569.5" y1="596.3" x2="655.0" y2="596.3" stroke="#000" stroke-width="2"/>
<line x1="675.0" y1="596.3" x2="762.0" y2="596.3" stroke="#000" stroke-width="2"/>
<clipPath id="clp1"><rect x="432" y="604.5" width="348.5" height="140.5"/></clipPath>
<rect x="432.0" y="604.5" width="348.5" height="140.5" fill="#e3e0e1"/>
<g clip-path="url(#clp1)">
<ellipse cx="446.5" cy="639.5" rx="10.0" ry="6.5" fill="#000" fill-opacity="0.70" filter="url(#b2_0)"/>
<ellipse cx="444.0" cy="716.0" rx="7.0" ry="5.0" fill="#000" fill-opacity="0.25" filter="url(#b2_0)"/>
<rect x="461.5" y="628.5" width="28.0" height="4.0" rx="2.0" ry="2.0" fill="#000" fill-opacity="0.35" filter="url(#b1_0)"/>
<rect x="501.1" y="628.5" width="28.0" height="4.0" rx="2.0" ry="2.0" fill="#000" fill-opacity="0.45" filter="url(#b1_0)"/>
<rect x="537.5" y="628.5" width="28.0" height="4.0" rx="2.0" ry="2.0" fill="#000" fill-opacity="0.40" filter="url(#b1_0)"/>
<rect x="572.5" y="628.5" width="28.0" height="4.0" rx="2.0" ry="2.0" fill="#000" fill-opacity="0.45" filter="url(#b1_0)"/>
<rect x="608.0" y="628.5" width="28.0" height="4.0" rx="2.0" ry="2.0" fill="#000" fill-opacity="0.60" filter="url(#b1_0)"/>
<rect x="643.4" y="628.5" width="28.0" height="4.0" rx="2.0" ry="2.0" fill="#000" fill-opacity="0.40" filter="url(#b1_0)"/>
<rect x="678.5" y="628.5" width="28.0" height="4.0" rx="2.0" ry="2.0" fill="#000" fill-opacity="0.45" filter="url(#b1_0)"/>
<rect x="713.5" y="628.5" width="28.0" height="4.0" rx="2.0" ry="2.0" fill="#000" fill-opacity="0.40" filter="url(#b1_0)"/>
<rect x="748.5" y="628.5" width="28.0" height="4.0" rx="2.0" ry="2.0" fill="#000" fill-opacity="0.40" filter="url(#b1_0)"/>
<rect x="459.0" y="679.5" width="33.0" height="9.0" rx="4.5" ry="4.5" fill="#000" fill-opacity="0.45" filter="url(#b2_5)"/>
<rect x="498.6" y="679.5" width="33.0" height="9.0" rx="4.5" ry="4.5" fill="#000" fill-opacity="0.45" filter="url(#b2_5)"/>
<rect x="535.0" y="679.5" width="33.0" height="9.0" rx="4.5" ry="4.5" fill="#000" fill-opacity="0.45" filter="url(#b2_5)"/>
<rect x="570.0" y="679.5" width="33.0" height="9.0" rx="4.5" ry="4.5" fill="#000" fill-opacity="0.45" filter="url(#b2_5)"/>
<rect x="605.5" y="679.5" width="33.0" height="9.0" rx="4.5" ry="4.5" fill="#000" fill-opacity="0.45" filter="url(#b2_5)"/>
<rect x="640.9" y="679.5" width="33.0" height="9.0" rx="4.5" ry="4.5" fill="#000" fill-opacity="0.45" filter="url(#b2_5)"/>
<rect x="676.0" y="679.5" width="33.0" height="9.0" rx="4.5" ry="4.5" fill="#000" fill-opacity="0.45" filter="url(#b2_5)"/>
<rect x="711.0" y="679.5" width="33.0" height="9.0" rx="4.5" ry="4.5" fill="#000" fill-opacity="0.45" filter="url(#b2_5)"/>
<rect x="746.0" y="679.5" width="33.0" height="9.0" rx="4.5" ry="4.5" fill="#000" fill-opacity="0.45" filter="url(#b2_5)"/>
<rect x="458.0" y="682.2" width="35.0" height="18.5" rx="8.0" ry="9.2" fill="#000" fill-opacity="1.00" filter="url(#b1_0)"/>
<rect x="497.6" y="683.8" width="35.0" height="18.5" rx="8.0" ry="9.2" fill="#000" fill-opacity="1.00" filter="url(#b1_0)"/>
<rect x="534.0" y="683.8" width="35.0" height="18.5" rx="8.0" ry="9.2" fill="#000" fill-opacity="1.00" filter="url(#b1_0)"/>
<rect x="569.0" y="683.2" width="35.0" height="18.5" rx="8.0" ry="9.2" fill="#000" fill-opacity="1.00" filter="url(#b1_0)"/>
<rect x="604.5" y="683.8" width="35.0" height="18.5" rx="8.0" ry="9.2" fill="#000" fill-opacity="1.00" filter="url(#b1_0)"/>
<rect x="639.9" y="684.2" width="35.0" height="18.5" rx="8.0" ry="9.2" fill="#000" fill-opacity="1.00" filter="url(#b1_0)"/>
<rect x="675.0" y="684.2" width="35.0" height="18.5" rx="8.0" ry="9.2" fill="#000" fill-opacity="1.00" filter="url(#b1_0)"/>
<rect x="710.0" y="684.2" width="35.0" height="18.5" rx="8.0" ry="9.2" fill="#000" fill-opacity="1.00" filter="url(#b1_0)"/>
<rect x="745.0" y="684.8" width="35.0" height="18.5" rx="8.0" ry="9.2" fill="#000" fill-opacity="1.00" filter="url(#b1_0)"/>
<rect x="460.5" y="710.5" width="30.0" height="12.0" rx="6.0" ry="6.0" fill="#000" fill-opacity="0.70" filter="url(#b1_5)"/>
<rect x="462.5" y="719.0" width="26.0" height="6.0" rx="3.0" ry="3.0" fill="#000" fill-opacity="0.24" filter="url(#b2_0)"/>
<rect x="500.1" y="710.5" width="30.0" height="12.0" rx="6.0" ry="6.0" fill="#000" fill-opacity="0.95" filter="url(#b1_5)"/>
<rect x="502.1" y="719.0" width="26.0" height="6.0" rx="3.0" ry="3.0" fill="#000" fill-opacity="0.33" filter="url(#b2_0)"/>
<rect x="536.5" y="710.5" width="30.0" height="12.0" rx="6.0" ry="6.0" fill="#000" fill-opacity="0.85" filter="url(#b1_5)"/>
<rect x="538.5" y="719.0" width="26.0" height="6.0" rx="3.0" ry="3.0" fill="#000" fill-opacity="0.30" filter="url(#b2_0)"/>
<rect x="571.5" y="710.5" width="30.0" height="12.0" rx="6.0" ry="6.0" fill="#000" fill-opacity="0.80" filter="url(#b1_5)"/>
<rect x="573.5" y="719.0" width="26.0" height="6.0" rx="3.0" ry="3.0" fill="#000" fill-opacity="0.28" filter="url(#b2_0)"/>
<rect x="607.0" y="710.5" width="30.0" height="12.0" rx="6.0" ry="6.0" fill="#000" fill-opacity="0.95" filter="url(#b1_5)"/>
<rect x="609.0" y="719.0" width="26.0" height="6.0" rx="3.0" ry="3.0" fill="#000" fill-opacity="0.33" filter="url(#b2_0)"/>
<rect x="642.4" y="710.5" width="30.0" height="12.0" rx="6.0" ry="6.0" fill="#000" fill-opacity="0.80" filter="url(#b1_5)"/>
<rect x="644.4" y="719.0" width="26.0" height="6.0" rx="3.0" ry="3.0" fill="#000" fill-opacity="0.28" filter="url(#b2_0)"/>
<rect x="677.5" y="710.5" width="30.0" height="12.0" rx="6.0" ry="6.0" fill="#000" fill-opacity="0.85" filter="url(#b1_5)"/>
<rect x="679.5" y="719.0" width="26.0" height="6.0" rx="3.0" ry="3.0" fill="#000" fill-opacity="0.30" filter="url(#b2_0)"/>
<rect x="712.5" y="710.5" width="30.0" height="12.0" rx="6.0" ry="6.0" fill="#000" fill-opacity="0.92" filter="url(#b1_5)"/>
<rect x="714.5" y="719.0" width="26.0" height="6.0" rx="3.0" ry="3.0" fill="#000" fill-opacity="0.32" filter="url(#b2_0)"/>
<rect x="747.5" y="710.5" width="30.0" height="12.0" rx="6.0" ry="6.0" fill="#000" fill-opacity="0.90" filter="url(#b1_5)"/>
<rect x="749.5" y="719.0" width="26.0" height="6.0" rx="3.0" ry="3.0" fill="#000" fill-opacity="0.32" filter="url(#b2_0)"/>
</g>
<rect x="432.0" y="604.5" width="348.5" height="140.5" fill="none" stroke="#000" stroke-width="2"/>
<text transform="translate(416.50,651.50) scale(1,1.04)" font-size="22" text-anchor="middle">37</text>
<text transform="translate(416.50,723.90) scale(1,1.04)" font-size="22" text-anchor="middle">25</text>
<text transform="translate(788.20,674.40) scale(1,1.04)" font-size="24.5">CTSB</text>
<clipPath id="clp2"><rect x="432" y="753.5" width="348.5" height="139.5"/></clipPath>
<rect x="432.0" y="753.5" width="348.5" height="139.5" fill="#f6f6f6"/>
<g clip-path="url(#clp2)">
<ellipse cx="450.0" cy="770.5" rx="9.0" ry="8.0" fill="#000" fill-opacity="0.45" filter="url(#b2_5)"/>
<ellipse cx="448.0" cy="841.0" rx="8.0" ry="7.0" fill="#000" fill-opacity="0.42" filter="url(#b2_5)"/>
<ellipse cx="445.0" cy="880.5" rx="8.0" ry="6.0" fill="#000" fill-opacity="0.30" filter="url(#b2_5)"/>
<rect x="460.5" y="781.2" width="30.0" height="5.5" rx="2.8" ry="2.8" fill="#000" fill-opacity="0.45" filter="url(#b1_0)"/>
<rect x="461.5" y="827.5" width="28.0" height="5.0" rx="2.5" ry="2.5" fill="#000" fill-opacity="0.22" filter="url(#b1_0)"/>
<rect x="458.5" y="860.5" width="32.0" height="10.0" rx="5.0" ry="5.0" fill="#000" fill-opacity="0.85" filter="url(#b1_5)"/>
<rect x="500.1" y="781.2" width="30.0" height="5.5" rx="2.8" ry="2.8" fill="#000" fill-opacity="0.55" filter="url(#b1_0)"/>
<rect x="501.1" y="827.5" width="28.0" height="5.0" rx="2.5" ry="2.5" fill="#000" fill-opacity="0.25" filter="url(#b1_0)"/>
<rect x="499.1" y="860.5" width="32.0" height="10.0" rx="5.0" ry="5.0" fill="#000" fill-opacity="0.95" filter="url(#b1_5)"/>
<rect x="536.5" y="782.2" width="30.0" height="5.5" rx="2.8" ry="2.8" fill="#000" fill-opacity="0.55" filter="url(#b1_0)"/>
<rect x="537.5" y="827.5" width="28.0" height="5.0" rx="2.5" ry="2.5" fill="#000" fill-opacity="0.25" filter="url(#b1_0)"/>
<rect x="535.5" y="860.5" width="32.0" height="10.0" rx="5.0" ry="5.0" fill="#000" fill-opacity="0.92" filter="url(#b1_5)"/>
<rect x="571.5" y="781.2" width="30.0" height="5.5" rx="2.8" ry="2.8" fill="#000" fill-opacity="0.45" filter="url(#b1_0)"/>
<rect x="572.5" y="827.5" width="28.0" height="5.0" rx="2.5" ry="2.5" fill="#000" fill-opacity="0.22" filter="url(#b1_0)"/>
<rect x="570.5" y="860.5" width="32.0" height="10.0" rx="5.0" ry="5.0" fill="#000" fill-opacity="0.90" filter="url(#b1_5)"/>
<rect x="607.0" y="781.2" width="30.0" height="5.5" rx="2.8" ry="2.8" fill="#000" fill-opacity="0.55" filter="url(#b1_0)"/>
<rect x="608.0" y="827.5" width="28.0" height="5.0" rx="2.5" ry="2.5" fill="#000" fill-opacity="0.25" filter="url(#b1_0)"/>
<rect x="606.0" y="859.5" width="32.0" height="10.0" rx="5.0" ry="5.0" fill="#000" fill-opacity="0.98" filter="url(#b1_5)"/>
<rect x="642.4" y="781.2" width="30.0" height="5.5" rx="2.8" ry="2.8" fill="#000" fill-opacity="0.40" filter="url(#b1_0)"/>
<rect x="643.4" y="827.5" width="28.0" height="5.0" rx="2.5" ry="2.5" fill="#000" fill-opacity="0.18" filter="url(#b1_0)"/>
<rect x="641.4" y="860.5" width="32.0" height="10.0" rx="5.0" ry="5.0" fill="#000" fill-opacity="0.80" filter="url(#b1_5)"/>
<rect x="677.5" y="782.2" width="30.0" height="5.5" rx="2.8" ry="2.8" fill="#000" fill-opacity="0.50" filter="url(#b1_0)"/>
<rect x="678.5" y="827.5" width="28.0" height="5.0" rx="2.5" ry="2.5" fill="#000" fill-opacity="0.22" filter="url(#b1_0)"/>
<rect x="676.5" y="860.5" width="32.0" height="10.0" rx="5.0" ry="5.0" fill="#000" fill-opacity="0.88" filter="url(#b1_5)"/>
<rect x="712.5" y="782.2" width="30.0" height="5.5" rx="2.8" ry="2.8" fill="#000" fill-opacity="0.50" filter="url(#b1_0)"/>
<rect x="713.5" y="827.5" width="28.0" height="5.0" rx="2.5" ry="2.5" fill="#000" fill-opacity="0.20" filter="url(#b1_0)"/>
<rect x="711.5" y="860.5" width="32.0" height="10.0" rx="5.0" ry="5.0" fill="#000" fill-opacity="0.90" filter="url(#b1_5)"/>
<rect x="747.5" y="782.2" width="30.0" height="5.5" rx="2.8" ry="2.8" fill="#000" fill-opacity="0.45" filter="url(#b1_0)"/>
<rect x="748.5" y="827.5" width="28.0" height="5.0" rx="2.5" ry="2.5" fill="#000" fill-opacity="0.18" filter="url(#b1_0)"/>
<rect x="746.5" y="860.5" width="32.0" height="10.0" rx="5.0" ry="5.0" fill="#000" fill-opacity="0.85" filter="url(#b1_5)"/>
</g>
<rect x="432.0" y="753.5" width="348.5" height="139.5" fill="none" stroke="#000" stroke-width="2"/>
<text transform="translate(416.50,777.00) scale(1,1.04)" font-size="22" text-anchor="middle">37</text>
<text transform="translate(416.50,849.00) scale(1,1.04)" font-size="22" text-anchor="middle">25</text>
<text transform="translate(788.20,813.70) scale(1,1.04)" font-size="24.5">CTSL</text>
<clipPath id="clp3"><rect x="432" y="902" width="348.5" height="36"/></clipPath>
<rect x="432.0" y="902.0" width="348.5" height="36.0" fill="#f5f5f5"/>
<g clip-path="url(#clp3)">
<defs><linearGradient id="tg1" x1="0" x2="1" y1="0" y2="0"><stop offset="0" stop-color="#b0b0b0"/><stop offset="0.1" stop-color="#7a7a7a"/><stop offset="0.3" stop-color="#6a6a6a"/><stop offset="0.5" stop-color="#909090"/><stop offset="0.75" stop-color="#c8c8c8"/><stop offset="1" stop-color="#f5f5f5"/></linearGradient></defs>
<rect x="432.0" y="902.0" width="52.0" height="36.0" fill="url(#tg1)"/>
<rect x="462.2" y="915.7" width="33.0" height="6.2" rx="3.1" ry="3.1" fill="#000" fill-opacity="1.00" filter="url(#b1_0)"/>
<rect x="503.0" y="915.7" width="29.4" height="6.2" rx="3.1" ry="3.1" fill="#000" fill-opacity="0.88" filter="url(#b1_0)"/>
<rect x="539.4" y="915.7" width="25.6" height="6.2" rx="3.1" ry="3.1" fill="#000" fill-opacity="0.72" filter="url(#b1_0)"/>
<rect x="570.9" y="915.7" width="28.0" height="6.2" rx="3.1" ry="3.1" fill="#000" fill-opacity="0.72" filter="url(#b1_0)"/>
<rect x="605.9" y="915.7" width="30.3" height="6.2" rx="3.1" ry="3.1" fill="#000" fill-opacity="0.80" filter="url(#b1_0)"/>
<rect x="642.1" y="915.7" width="29.3" height="6.2" rx="3.1" ry="3.1" fill="#000" fill-opacity="0.70" filter="url(#b1_0)"/>
<rect x="677.0" y="915.7" width="27.0" height="6.2" rx="3.1" ry="3.1" fill="#000" fill-opacity="0.72" filter="url(#b1_0)"/>
<rect x="709.7" y="915.7" width="29.2" height="6.2" rx="3.1" ry="3.1" fill="#000" fill-opacity="0.80" filter="url(#b1_0)"/>
<rect x="744.8" y="915.7" width="31.5" height="6.2" rx="3.1" ry="3.1" fill="#000" fill-opacity="0.78" filter="url(#b1_0)"/>
<ellipse cx="471.0" cy="918.3" rx="8.0" ry="3.8" fill="#000" fill-opacity="0.75" filter="url(#b1_0)"/>
</g>
<rect x="432.0" y="902.0" width="348.5" height="36.0" fill="none" stroke="#000" stroke-width="2"/>
<text transform="translate(416.50,927.50) scale(1,1.04)" font-size="22" text-anchor="middle">50</text>
<text transform="translate(788.20,927.60) scale(1,1.04)" font-size="24.5">Tubulin</text>
<text transform="translate(861.36,552.4) scale(1.003,1)" font-size="58.22" font-weight="bold">d</text>
<text transform="translate(1267.50,556.50) scale(1,1.04)" font-size="29.1" text-anchor="middle">Autophagy genes</text>
<rect x="1005.0" y="811.6" width="7.6" height="115.2" fill="#646160" stroke="#000" stroke-width="1.6"/>
<line x1="1008.8" y1="800.1" x2="1008.8" y2="823.1" stroke="#000" stroke-width="1.6"/>
<line x1="1005.3" y1="800.1" x2="1012.3" y2="800.1" stroke="#000" stroke-width="1.8"/>
<line x1="1005.3" y1="823.1" x2="1012.3" y2="823.1" stroke="#000" stroke-width="1.8"/>
<circle cx="1008.8" cy="788.6" r="5.0" fill="#000"/>
<circle cx="1008.8" cy="820.8" r="5.0" fill="#000"/>
<circle cx="1008.8" cy="823.1" r="5.0" fill="#000"/>
<rect x="1020.9" y="795.5" width="7.6" height="131.3" fill="#2f74bd" stroke="#000" stroke-width="1.6"/>
<line x1="1024.7" y1="782.8" x2="1024.7" y2="808.1" stroke="#000" stroke-width="1.6"/>
<line x1="1021.2" y1="782.8" x2="1028.2" y2="782.8" stroke="#000" stroke-width="1.8"/>
<line x1="1021.2" y1="808.1" x2="1028.2" y2="808.1" stroke="#000" stroke-width="1.8"/>
<circle cx="1024.7" cy="780.5" r="5.0" fill="#000"/>
<circle cx="1024.7" cy="782.8" r="5.0" fill="#000"/>
<circle cx="1024.7" cy="817.4" r="5.0" fill="#000"/>
<rect x="1036.7" y="803.5" width="7.6" height="123.3" fill="#a4d11c" stroke="#000" stroke-width="1.6"/>
<line x1="1040.5" y1="795.5" x2="1040.5" y2="811.6" stroke="#000" stroke-width="1.6"/>
<line x1="1037.0" y1="795.5" x2="1044.0" y2="795.5" stroke="#000" stroke-width="1.8"/>
<line x1="1037.0" y1="811.6" x2="1044.0" y2="811.6" stroke="#000" stroke-width="1.8"/>
<circle cx="1040.5" cy="782.8" r="5.0" fill="#000"/>
<circle cx="1040.5" cy="794.3" r="5.0" fill="#000"/>
<circle cx="1040.5" cy="826.6" r="5.0" fill="#000"/>
<rect x="1052.6" y="800.1" width="7.6" height="126.7" fill="#df2a1c" stroke="#000" stroke-width="1.6"/>
<line x1="1056.4" y1="798.9" x2="1056.4" y2="801.2" stroke="#000" stroke-width="1.6"/>
<line x1="1052.9" y1="798.9" x2="1059.9" y2="798.9" stroke="#000" stroke-width="1.8"/>
<line x1="1052.9" y1="801.2" x2="1059.9" y2="801.2" stroke="#000" stroke-width="1.8"/>
<circle cx="1056.4" cy="800.1" r="5.0" fill="#000"/>
<circle cx="1056.4" cy="800.1" r="5.0" fill="#000"/>
<circle cx="1056.4" cy="800.1" r="5.0" fill="#000"/>
<rect x="1079.7" y="808.1" width="7.6" height="118.7" fill="#646160" stroke="#000" stroke-width="1.6"/>
<line x1="1083.5" y1="781.6" x2="1083.5" y2="834.6" stroke="#000" stroke-width="1.6"/>
<line x1="1080.0" y1="781.6" x2="1087.0" y2="781.6" stroke="#000" stroke-width="1.8"/>
<line x1="1080.0" y1="834.6" x2="1087.0" y2="834.6" stroke="#000" stroke-width="1.8"/>
<circle cx="1083.5" cy="756.3" r="5.0" fill="#000"/>
<circle cx="1083.5" cy="828.9" r="5.0" fill="#000"/>
<circle cx="1083.5" cy="832.3" r="5.0" fill="#000"/>
<rect x="1095.5" y="769.0" width="7.6" height="157.8" fill="#2f74bd" stroke="#000" stroke-width="1.6"/>
<line x1="1099.3" y1="754.0" x2="1099.3" y2="784.0" stroke="#000" stroke-width="1.6"/>
<line x1="1095.8" y1="754.0" x2="1102.8" y2="754.0" stroke="#000" stroke-width="1.8"/>
<line x1="1095.8" y1="784.0" x2="1102.8" y2="784.0" stroke="#000" stroke-width="1.8"/>
<circle cx="1099.3" cy="742.5" r="5.0" fill="#000"/>
<circle cx="1099.3" cy="771.3" r="5.0" fill="#000"/>
<circle cx="1099.3" cy="790.9" r="5.0" fill="#000"/>
<rect x="1111.4" y="798.9" width="7.6" height="127.9" fill="#a4d11c" stroke="#000" stroke-width="1.6"/>
<line x1="1115.2" y1="780.5" x2="1115.2" y2="817.4" stroke="#000" stroke-width="1.6"/>
<line x1="1111.7" y1="780.5" x2="1118.7" y2="780.5" stroke="#000" stroke-width="1.8"/>
<line x1="1111.7" y1="817.4" x2="1118.7" y2="817.4" stroke="#000" stroke-width="1.8"/>
<circle cx="1115.2" cy="777.0" r="5.0" fill="#000"/>
<circle cx="1115.2" cy="780.5" r="5.0" fill="#000"/>
<circle cx="1115.2" cy="832.3" r="5.0" fill="#000"/>
<rect x="1127.2" y="784.0" width="7.6" height="142.8" fill="#df2a1c" stroke="#000" stroke-width="1.6"/>
<line x1="1131.0" y1="763.2" x2="1131.0" y2="804.7" stroke="#000" stroke-width="1.6"/>
<line x1="1127.5" y1="763.2" x2="1134.5" y2="763.2" stroke="#000" stroke-width="1.8"/>
<line x1="1127.5" y1="804.7" x2="1134.5" y2="804.7" stroke="#000" stroke-width="1.8"/>
<circle cx="1131.0" cy="763.2" r="5.0" fill="#000"/>
<circle cx="1131.0" cy="763.2" r="5.0" fill="#000"/>
<circle cx="1131.0" cy="819.7" r="5.0" fill="#000"/>
<rect x="1154.3" y="812.8" width="7.6" height="114.0" fill="#646160" stroke="#000" stroke-width="1.6"/>
<line x1="1158.1" y1="802.4" x2="1158.1" y2="823.1" stroke="#000" stroke-width="1.6"/>
<line x1="1154.6" y1="802.4" x2="1161.6" y2="802.4" stroke="#000" stroke-width="1.8"/>
<line x1="1154.6" y1="823.1" x2="1161.6" y2="823.1" stroke="#000" stroke-width="1.8"/>
<circle cx="1158.1" cy="792.0" r="5.0" fill="#000"/>
<circle cx="1158.1" cy="817.4" r="5.0" fill="#000"/>
<circle cx="1158.1" cy="820.8" r="5.0" fill="#000"/>
<rect x="1170.2" y="782.8" width="7.6" height="144.0" fill="#2f74bd" stroke="#000" stroke-width="1.6"/>
<line x1="1174.0" y1="755.2" x2="1174.0" y2="810.4" stroke="#000" stroke-width="1.6"/>
<line x1="1170.5" y1="755.2" x2="1177.5" y2="755.2" stroke="#000" stroke-width="1.8"/>
<line x1="1170.5" y1="810.4" x2="1177.5" y2="810.4" stroke="#000" stroke-width="1.8"/>
<circle cx="1174.0" cy="736.7" r="5.0" fill="#000"/>
<circle cx="1174.0" cy="782.8" r="5.0" fill="#000"/>
<circle cx="1174.0" cy="817.4" r="5.0" fill="#000"/>
<rect x="1186.0" y="795.5" width="7.6" height="131.3" fill="#a4d11c" stroke="#000" stroke-width="1.6"/>
<line x1="1189.8" y1="773.6" x2="1189.8" y2="817.4" stroke="#000" stroke-width="1.6"/>
<line x1="1186.3" y1="773.6" x2="1193.3" y2="773.6" stroke="#000" stroke-width="1.8"/>
<line x1="1186.3" y1="817.4" x2="1193.3" y2="817.4" stroke="#000" stroke-width="1.8"/>
<circle cx="1189.8" cy="765.5" r="5.0" fill="#000"/>
<circle cx="1189.8" cy="782.8" r="5.0" fill="#000"/>
<circle cx="1189.8" cy="832.3" r="5.0" fill="#000"/>
<rect x="1201.9" y="800.1" width="7.6" height="126.7" fill="#df2a1c" stroke="#000" stroke-width="1.6"/>
<line x1="1205.7" y1="792.0" x2="1205.7" y2="808.1" stroke="#000" stroke-width="1.6"/>
<line x1="1202.2" y1="792.0" x2="1209.2" y2="792.0" stroke="#000" stroke-width="1.8"/>
<line x1="1202.2" y1="808.1" x2="1209.2" y2="808.1" stroke="#000" stroke-width="1.8"/>
<circle cx="1205.7" cy="788.6" r="5.0" fill="#000"/>
<circle cx="1205.7" cy="802.4" r="5.0" fill="#000"/>
<circle cx="1205.7" cy="811.6" r="5.0" fill="#000"/>
<rect x="1229.0" y="808.1" width="7.6" height="118.7" fill="#646160" stroke="#000" stroke-width="1.6"/>
<line x1="1232.8" y1="785.1" x2="1232.8" y2="831.2" stroke="#000" stroke-width="1.6"/>
<line x1="1229.3" y1="785.1" x2="1236.3" y2="785.1" stroke="#000" stroke-width="1.8"/>
<line x1="1229.3" y1="831.2" x2="1236.3" y2="831.2" stroke="#000" stroke-width="1.8"/>
<circle cx="1232.8" cy="765.5" r="5.0" fill="#000"/>
<circle cx="1232.8" cy="819.7" r="5.0" fill="#000"/>
<circle cx="1232.8" cy="839.2" r="5.0" fill="#000"/>
<rect x="1244.8" y="780.5" width="7.6" height="146.3" fill="#2f74bd" stroke="#000" stroke-width="1.6"/>
<line x1="1248.6" y1="765.5" x2="1248.6" y2="795.5" stroke="#000" stroke-width="1.6"/>
<line x1="1245.1" y1="765.5" x2="1252.1" y2="765.5" stroke="#000" stroke-width="1.8"/>
<line x1="1245.1" y1="795.5" x2="1252.1" y2="795.5" stroke="#000" stroke-width="1.8"/>
<circle cx="1248.6" cy="755.2" r="5.0" fill="#000"/>
<circle cx="1248.6" cy="774.7" r="5.0" fill="#000"/>
<circle cx="1248.6" cy="807.0" r="5.0" fill="#000"/>
<rect x="1260.7" y="788.6" width="7.6" height="138.2" fill="#a4d11c" stroke="#000" stroke-width="1.6"/>
<line x1="1264.5" y1="755.2" x2="1264.5" y2="822.0" stroke="#000" stroke-width="1.6"/>
<line x1="1261.0" y1="755.2" x2="1268.0" y2="755.2" stroke="#000" stroke-width="1.8"/>
<line x1="1261.0" y1="822.0" x2="1268.0" y2="822.0" stroke="#000" stroke-width="1.8"/>
<circle cx="1264.5" cy="731.0" r="5.0" fill="#000"/>
<circle cx="1264.5" cy="792.0" r="5.0" fill="#000"/>
<circle cx="1264.5" cy="836.9" r="5.0" fill="#000"/>
<rect x="1276.5" y="790.9" width="7.6" height="135.9" fill="#df2a1c" stroke="#000" stroke-width="1.6"/>
<line x1="1280.3" y1="782.8" x2="1280.3" y2="798.9" stroke="#000" stroke-width="1.6"/>
<line x1="1276.8" y1="782.8" x2="1283.8" y2="782.8" stroke="#000" stroke-width="1.8"/>
<line x1="1276.8" y1="798.9" x2="1283.8" y2="798.9" stroke="#000" stroke-width="1.8"/>
<circle cx="1280.3" cy="777.0" r="5.0" fill="#000"/>
<circle cx="1280.3" cy="781.6" r="5.0" fill="#000"/>
<circle cx="1280.3" cy="809.3" r="5.0" fill="#000"/>
<rect x="1303.6" y="803.5" width="7.6" height="123.3" fill="#646160" stroke="#000" stroke-width="1.6"/>
<line x1="1307.4" y1="771.3" x2="1307.4" y2="835.8" stroke="#000" stroke-width="1.6"/>
<line x1="1303.9" y1="771.3" x2="1310.9" y2="771.3" stroke="#000" stroke-width="1.8"/>
<line x1="1303.9" y1="835.8" x2="1310.9" y2="835.8" stroke="#000" stroke-width="1.8"/>
<circle cx="1307.4" cy="757.5" r="5.0" fill="#000"/>
<circle cx="1307.4" cy="788.6" r="5.0" fill="#000"/>
<circle cx="1307.4" cy="862.3" r="5.0" fill="#000"/>
<rect x="1319.5" y="725.2" width="7.6" height="201.6" fill="#2f74bd" stroke="#000" stroke-width="1.6"/>
<line x1="1323.3" y1="676.8" x2="1323.3" y2="773.6" stroke="#000" stroke-width="1.6"/>
<line x1="1319.8" y1="676.8" x2="1326.8" y2="676.8" stroke="#000" stroke-width="1.8"/>
<line x1="1319.8" y1="773.6" x2="1326.8" y2="773.6" stroke="#000" stroke-width="1.8"/>
<circle cx="1323.3" cy="654.9" r="5.0" fill="#000"/>
<circle cx="1323.3" cy="699.9" r="5.0" fill="#000"/>
<circle cx="1323.3" cy="819.7" r="5.0" fill="#000"/>
<rect x="1335.3" y="757.5" width="7.6" height="169.3" fill="#a4d11c" stroke="#000" stroke-width="1.6"/>
<line x1="1339.1" y1="681.4" x2="1339.1" y2="833.5" stroke="#000" stroke-width="1.6"/>
<line x1="1335.6" y1="681.4" x2="1342.6" y2="681.4" stroke="#000" stroke-width="1.8"/>
<line x1="1335.6" y1="833.5" x2="1342.6" y2="833.5" stroke="#000" stroke-width="1.8"/>
<circle cx="1339.1" cy="606.5" r="5.0" fill="#000"/>
<circle cx="1339.1" cy="813.9" r="5.0" fill="#000"/>
<circle cx="1339.1" cy="848.5" r="5.0" fill="#000"/>
<rect x="1351.2" y="751.7" width="7.6" height="175.1" fill="#df2a1c" stroke="#000" stroke-width="1.6"/>
<line x1="1355.0" y1="747.1" x2="1355.0" y2="756.3" stroke="#000" stroke-width="1.6"/>
<line x1="1351.5" y1="747.1" x2="1358.5" y2="747.1" stroke="#000" stroke-width="1.8"/>
<line x1="1351.5" y1="756.3" x2="1358.5" y2="756.3" stroke="#000" stroke-width="1.8"/>
<circle cx="1355.0" cy="742.5" r="5.0" fill="#000"/>
<circle cx="1355.0" cy="763.2" r="5.0" fill="#000"/>
<circle cx="1355.0" cy="765.5" r="5.0" fill="#000"/>
<rect x="1378.3" y="811.6" width="7.6" height="115.2" fill="#646160" stroke="#000" stroke-width="1.6"/>
<line x1="1382.1" y1="797.8" x2="1382.1" y2="825.4" stroke="#000" stroke-width="1.6"/>
<line x1="1378.6" y1="797.8" x2="1385.6" y2="797.8" stroke="#000" stroke-width="1.8"/>
<line x1="1378.6" y1="825.4" x2="1385.6" y2="825.4" stroke="#000" stroke-width="1.8"/>
<circle cx="1382.1" cy="788.6" r="5.0" fill="#000"/>
<circle cx="1382.1" cy="805.8" r="5.0" fill="#000"/>
<circle cx="1382.1" cy="832.3" r="5.0" fill="#000"/>
<rect x="1394.1" y="764.4" width="7.6" height="162.4" fill="#2f74bd" stroke="#000" stroke-width="1.6"/>
<line x1="1397.9" y1="736.7" x2="1397.9" y2="792.0" stroke="#000" stroke-width="1.6"/>
<line x1="1394.4" y1="736.7" x2="1401.4" y2="736.7" stroke="#000" stroke-width="1.8"/>
<line x1="1394.4" y1="792.0" x2="1401.4" y2="792.0" stroke="#000" stroke-width="1.8"/>
<circle cx="1397.9" cy="707.9" r="5.0" fill="#000"/>
<circle cx="1397.9" cy="788.6" r="5.0" fill="#000"/>
<circle cx="1397.9" cy="792.0" r="5.0" fill="#000"/>
<rect x="1410.0" y="779.3" width="7.6" height="147.5" fill="#a4d11c" stroke="#000" stroke-width="1.6"/>
<line x1="1413.8" y1="767.8" x2="1413.8" y2="790.9" stroke="#000" stroke-width="1.6"/>
<line x1="1410.3" y1="767.8" x2="1417.3" y2="767.8" stroke="#000" stroke-width="1.8"/>
<line x1="1410.3" y1="790.9" x2="1417.3" y2="790.9" stroke="#000" stroke-width="1.8"/>
<circle cx="1413.8" cy="755.2" r="5.0" fill="#000"/>
<circle cx="1413.8" cy="767.8" r="5.0" fill="#000"/>
<circle cx="1413.8" cy="811.6" r="5.0" fill="#000"/>
<rect x="1425.8" y="797.8" width="7.6" height="129.0" fill="#df2a1c" stroke="#000" stroke-width="1.6"/>
<line x1="1429.6" y1="793.2" x2="1429.6" y2="802.4" stroke="#000" stroke-width="1.6"/>
<line x1="1426.1" y1="793.2" x2="1433.1" y2="793.2" stroke="#000" stroke-width="1.8"/>
<line x1="1426.1" y1="802.4" x2="1433.1" y2="802.4" stroke="#000" stroke-width="1.8"/>
<circle cx="1429.6" cy="790.9" r="5.0" fill="#000"/>
<circle cx="1429.6" cy="790.9" r="5.0" fill="#000"/>
<circle cx="1429.6" cy="805.8" r="5.0" fill="#000"/>
<rect x="1452.9" y="807.0" width="7.6" height="119.8" fill="#646160" stroke="#000" stroke-width="1.6"/>
<line x1="1456.7" y1="778.2" x2="1456.7" y2="835.8" stroke="#000" stroke-width="1.6"/>
<line x1="1453.2" y1="778.2" x2="1460.2" y2="778.2" stroke="#000" stroke-width="1.8"/>
<line x1="1453.2" y1="835.8" x2="1460.2" y2="835.8" stroke="#000" stroke-width="1.8"/>
<circle cx="1456.7" cy="751.7" r="5.0" fill="#000"/>
<circle cx="1456.7" cy="819.7" r="5.0" fill="#000"/>
<circle cx="1456.7" cy="846.2" r="5.0" fill="#000"/>
<rect x="1468.8" y="780.5" width="7.6" height="146.3" fill="#2f74bd" stroke="#000" stroke-width="1.6"/>
<line x1="1472.6" y1="763.2" x2="1472.6" y2="797.8" stroke="#000" stroke-width="1.6"/>
<line x1="1469.1" y1="763.2" x2="1476.1" y2="763.2" stroke="#000" stroke-width="1.8"/>
<line x1="1469.1" y1="797.8" x2="1476.1" y2="797.8" stroke="#000" stroke-width="1.8"/>
<circle cx="1472.6" cy="749.4" r="5.0" fill="#000"/>
<circle cx="1472.6" cy="780.5" r="5.0" fill="#000"/>
<circle cx="1472.6" cy="803.5" r="5.0" fill="#000"/>
<rect x="1484.6" y="777.0" width="7.6" height="149.8" fill="#a4d11c" stroke="#000" stroke-width="1.6"/>
<line x1="1488.4" y1="751.7" x2="1488.4" y2="802.4" stroke="#000" stroke-width="1.6"/>
<line x1="1484.9" y1="751.7" x2="1491.9" y2="751.7" stroke="#000" stroke-width="1.8"/>
<line x1="1484.9" y1="802.4" x2="1491.9" y2="802.4" stroke="#000" stroke-width="1.8"/>
<circle cx="1488.4" cy="744.8" r="5.0" fill="#000"/>
<circle cx="1488.4" cy="762.1" r="5.0" fill="#000"/>
<circle cx="1488.4" cy="820.8" r="5.0" fill="#000"/>
<rect x="1500.5" y="825.4" width="7.6" height="101.4" fill="#df2a1c" stroke="#000" stroke-width="1.6"/>
<line x1="1504.3" y1="803.5" x2="1504.3" y2="847.3" stroke="#000" stroke-width="1.6"/>
<line x1="1500.8" y1="803.5" x2="1507.8" y2="803.5" stroke="#000" stroke-width="1.8"/>
<line x1="1500.8" y1="847.3" x2="1507.8" y2="847.3" stroke="#000" stroke-width="1.8"/>
<circle cx="1504.3" cy="781.6" r="5.0" fill="#000"/>
<circle cx="1504.3" cy="845.0" r="5.0" fill="#000"/>
<circle cx="1504.3" cy="846.2" r="5.0" fill="#000"/>
<line x1="996.8" y1="580.2" x2="996.8" y2="927.8" stroke="#000" stroke-width="2.2"/>
<line x1="987.8" y1="926.8" x2="996.8" y2="926.8" stroke="#000" stroke-width="2.0"/>
<text transform="translate(981.80,935.30) scale(1,1.04)" font-size="25" text-anchor="end">0.0</text>
<line x1="987.8" y1="811.6" x2="996.8" y2="811.6" stroke="#000" stroke-width="2.0"/>
<text transform="translate(981.80,820.10) scale(1,1.04)" font-size="25" text-anchor="end">1.0</text>
<line x1="987.8" y1="696.4" x2="996.8" y2="696.4" stroke="#000" stroke-width="2.0"/>
<text transform="translate(981.80,704.90) scale(1,1.04)" font-size="25" text-anchor="end">2.0</text>
<line x1="987.8" y1="581.2" x2="996.8" y2="581.2" stroke="#000" stroke-width="2.0"/>
<text transform="translate(981.80,589.70) scale(1,1.04)" font-size="25" text-anchor="end">3.0</text>
<line x1="987.8" y1="926.8" x2="1515.0" y2="926.8" stroke="#000" stroke-width="2.2"/>
<line x1="1032.6" y1="926.8" x2="1032.6" y2="935.8" stroke="#000" stroke-width="2.0"/>
<text transform="translate(1048.60,956.30) rotate(-45) scale(1,1.04)" font-size="24" text-anchor="end" font-style="italic">Sqstm1</text>
<line x1="1107.2" y1="926.8" x2="1107.2" y2="935.8" stroke="#000" stroke-width="2.0"/>
<text transform="translate(1123.25,956.30) rotate(-45) scale(1,1.04)" font-size="24" text-anchor="end" font-style="italic">Map1lc3b</text>
<line x1="1181.9" y1="926.8" x2="1181.9" y2="935.8" stroke="#000" stroke-width="2.0"/>
<text transform="translate(1197.90,956.30) rotate(-45) scale(1,1.04)" font-size="24" text-anchor="end" font-style="italic">Vps11</text>
<line x1="1256.5" y1="926.8" x2="1256.5" y2="935.8" stroke="#000" stroke-width="2.0"/>
<text transform="translate(1272.55,956.30) rotate(-45) scale(1,1.04)" font-size="24" text-anchor="end" font-style="italic">Uvrag</text>
<line x1="1331.2" y1="926.8" x2="1331.2" y2="935.8" stroke="#000" stroke-width="2.0"/>
<text transform="translate(1347.20,956.30) rotate(-45) scale(1,1.04)" font-size="24" text-anchor="end" font-style="italic">Atg9b</text>
<line x1="1405.8" y1="926.8" x2="1405.8" y2="935.8" stroke="#000" stroke-width="2.0"/>
<text transform="translate(1421.85,956.30) rotate(-45) scale(1,1.04)" font-size="24" text-anchor="end" font-style="italic">Vps18</text>
<line x1="1480.5" y1="926.8" x2="1480.5" y2="935.8" stroke="#000" stroke-width="2.0"/>
<text transform="translate(1496.50,956.30) rotate(-45) scale(1,1.04)" font-size="24" text-anchor="end" font-style="italic">Becn1</text>
<rect x="1017.5" y="598.3" width="23.4" height="23.4" fill="#646160" stroke="#111" stroke-width="1.6"/>
<text transform="translate(1051.10,615.70) scale(1,1.04)" font-size="21">Veh</text>
<rect x="1105.4" y="598.3" width="23.4" height="23.4" fill="#2f74bd" stroke="#111" stroke-width="1.6"/>
<text transform="translate(1139.00,615.70) scale(1,1.04)" font-size="21">DNA</text>
<rect x="1017.5" y="630.6" width="23.4" height="23.4" fill="#a4d11c" stroke="#111" stroke-width="1.6"/>
<text transform="translate(1051.10,648.00) scale(1,1.04)" font-size="21">E64</text>
<rect x="1105.4" y="630.6" width="23.4" height="23.4" fill="#df2a1c" stroke="#111" stroke-width="1.6"/>
<text transform="translate(1139.00,648.00) scale(1,1.04)" font-size="21">E64-DNA</text>
<text transform="translate(935.00,751.30) rotate(-90) scale(1,1.04)" font-size="28.75" text-anchor="middle" font-weight="bold">Relative mRNA levels</text>
<text transform="translate(-0.55,1084.01) scale(0.994,1)" font-size="59.09" font-weight="bold">e</text>
<text transform="translate(163.20,1088.70) scale(1,1.04)" font-size="28.5" text-anchor="middle">Autophagy</text>
<text transform="translate(113.40,1134.00) scale(1,1.04)" font-size="24.5" text-anchor="middle">DNA</text>
<text transform="translate(219.30,1134.00) scale(1,1.04)" font-size="24.5" text-anchor="middle">E64-DNA</text>
<line x1="75.0" y1="1143.5" x2="146.0" y2="1143.5" stroke="#000" stroke-width="2"/>
<line x1="178.0" y1="1143.5" x2="249.0" y2="1143.5" stroke="#000" stroke-width="2"/>
<text transform="translate(42.80,1170.70) scale(1,1.04)" font-size="20.8">CQ</text>
<text transform="translate(93.00,1172.00) scale(1,1.04)" font-size="21.5" text-anchor="middle">-</text>
<text transform="translate(135.50,1172.00) scale(1,1.04)" font-size="21.5" text-anchor="middle" font-weight="bold">+</text>
<text transform="translate(188.50,1172.00) scale(1,1.04)" font-size="21.5" text-anchor="middle">-</text>
<text transform="translate(239.00,1172.00) scale(1,1.04)" font-size="21.5" text-anchor="middle" font-weight="bold">+</text>
<clipPath id="clp4"><rect x="64" y="1181" width="209" height="43.5"/></clipPath>
<rect x="64.0" y="1181.0" width="209.0" height="43.5" fill="#d4d7dc"/>
<g clip-path="url(#clp4)">
<rect x="71.0" y="1201.5" width="31.0" height="9.0" rx="4.5" ry="4.5" fill="#000" fill-opacity="0.22" filter="url(#b2_0)"/>
<rect x="122.3" y="1196.5" width="36.0" height="15.0" rx="5.0" ry="7.5" fill="#000" fill-opacity="0.50" filter="url(#b2_0)"/>
<rect x="175.0" y="1198.5" width="34.0" height="9.5" rx="4.8" ry="4.8" fill="#000" fill-opacity="0.35" filter="url(#b2_0)"/>
<rect x="229.1" y="1198.0" width="37.0" height="15.0" rx="5.0" ry="7.5" fill="#000" fill-opacity="0.50" filter="url(#b2_0)"/>
<ellipse cx="140.0" cy="1204.0" rx="3.0" ry="2.0" fill="#000" fill-opacity="0.40" filter="url(#b1_0)"/>
</g>
<rect x="64.0" y="1181.0" width="209.0" height="43.5" fill="none" stroke="#000" stroke-width="2"/>
<line x1="51.0" y1="1191.2" x2="64.0" y2="1191.2" stroke="#000" stroke-width="2"/>
<text transform="translate(48.00,1199.70) scale(1,1.04)" font-size="20.5" text-anchor="end">15</text>
<text transform="translate(279.00,1213.60) scale(1,1.04)" font-size="24.8">LC3B</text>
<clipPath id="clp5"><rect x="64" y="1232.6" width="209" height="70.5"/></clipPath>
<rect x="64.0" y="1232.6" width="209.0" height="70.5" fill="#d4d7dc"/>
<g clip-path="url(#clp5)">
<rect x="68.0" y="1262.0" width="36.0" height="2.6" rx="1.3" ry="1.3" fill="#000" fill-opacity="0.45" filter="url(#b1_0)"/>
<rect x="120.6" y="1260.7" width="36.0" height="4.2" rx="2.1" ry="2.1" fill="#000" fill-opacity="0.68" filter="url(#b1_0)"/>
<rect x="172.5" y="1261.9" width="33.0" height="2.2" rx="1.1" ry="1.1" fill="#000" fill-opacity="0.25" filter="url(#b1_0)"/>
<rect x="221.5" y="1259.1" width="40.0" height="4.6" rx="2.3" ry="2.3" fill="#000" fill-opacity="0.78" filter="url(#b1_0)"/>
<rect x="68.0" y="1285.4" width="36.0" height="3.8" rx="1.9" ry="1.9" fill="#000" fill-opacity="0.60" filter="url(#b1_0)"/>
<rect x="120.6" y="1284.7" width="36.0" height="3.4" rx="1.7" ry="1.7" fill="#000" fill-opacity="0.55" filter="url(#b1_0)"/>
<rect x="172.0" y="1284.5" width="34.0" height="3.8" rx="1.9" ry="1.9" fill="#000" fill-opacity="0.60" filter="url(#b1_0)"/>
<rect x="221.5" y="1284.2" width="40.0" height="3.6" rx="1.8" ry="1.8" fill="#000" fill-opacity="0.55" filter="url(#b1_0)"/>
<path d="M266.5,1233 L273,1233 L273,1256 Q271,1241 266.5,1233 Z" fill="#000"/>
</g>
<rect x="64.0" y="1232.6" width="209.0" height="70.5" fill="none" stroke="#000" stroke-width="2"/>
<line x1="51.0" y1="1232.6" x2="64.0" y2="1232.6" stroke="#000" stroke-width="2"/>
<line x1="51.0" y1="1293.4" x2="64.0" y2="1293.4" stroke="#000" stroke-width="2"/>
<text transform="translate(48.00,1240.60) scale(1,1.04)" font-size="20.5" text-anchor="end">75</text>
<text transform="translate(48.00,1301.40) scale(1,1.04)" font-size="20.5" text-anchor="end">50</text>
<text transform="translate(279.00,1268.50) scale(1,1.04)" font-size="24.5">p62</text>
<clipPath id="clp6"><rect x="64" y="1310.6" width="209" height="43.3"/></clipPath>
<rect x="64.0" y="1310.6" width="209.0" height="43.3" fill="#d4d7dc"/>
<g clip-path="url(#clp6)">
<rect x="70.7" y="1325.5" width="39.6" height="13.0" rx="6.5" ry="6.5" fill="#000" fill-opacity="0.35" filter="url(#b2_0)"/>
<path d="M77.2,1326.5 Q90.5,1329.8 103.8,1326.5 A5.5,5.5 0 0 1 103.8,1337.5 Q90.5,1334.2 77.2,1337.5 A5.5,5.5 0 0 1 77.2,1326.5 Z" fill="#000" fill-opacity="1.00" filter="url(#b1_0)"/>
<rect x="121.4" y="1325.5" width="38.8" height="13.0" rx="6.5" ry="6.5" fill="#000" fill-opacity="0.35" filter="url(#b2_0)"/>
<path d="M127.9,1326.5 Q140.8,1329.8 153.7,1326.5 A5.5,5.5 0 0 1 153.7,1337.5 Q140.8,1334.2 127.9,1337.5 A5.5,5.5 0 0 1 127.9,1326.5 Z" fill="#000" fill-opacity="1.00" filter="url(#b1_0)"/>
<rect x="170.5" y="1325.5" width="38.7" height="13.0" rx="6.5" ry="6.5" fill="#000" fill-opacity="0.35" filter="url(#b2_0)"/>
<path d="M177.0,1326.5 Q189.8,1329.8 202.7,1326.5 A5.5,5.5 0 0 1 202.7,1337.5 Q189.8,1334.2 177.0,1337.5 A5.5,5.5 0 0 1 177.0,1326.5 Z" fill="#000" fill-opacity="1.00" filter="url(#b1_0)"/>
<rect x="219.6" y="1325.5" width="44.9" height="13.0" rx="6.5" ry="6.5" fill="#000" fill-opacity="0.35" filter="url(#b2_0)"/>
<path d="M226.1,1326.5 Q242.0,1329.8 257.9,1326.5 A5.5,5.5 0 0 1 257.9,1337.5 Q242.0,1334.2 226.1,1337.5 A5.5,5.5 0 0 1 226.1,1326.5 Z" fill="#000" fill-opacity="1.00" filter="url(#b1_0)"/>
</g>
<rect x="64.0" y="1310.6" width="209.0" height="43.3" fill="none" stroke="#000" stroke-width="2"/>
<line x1="51.0" y1="1335.5" x2="64.0" y2="1335.5" stroke="#000" stroke-width="2"/>
<text transform="translate(48.00,1343.50) scale(1,1.04)" font-size="20.5" text-anchor="end">50</text>
<text transform="translate(278.50,1345.50) scale(1,1.04)" font-size="24.5">Tubulin</text>
<text transform="translate(379.42,1083.8) scale(1.09,1)" font-size="58.9" font-weight="bold">f</text>
<text transform="translate(530.60,1091.40) scale(1,1.04)" font-size="29.2" text-anchor="middle">STING pathway</text>
<text transform="translate(463.00,1138.30) scale(1,1.04)" font-size="22.9" text-anchor="middle">cGAMP</text>
<line x1="421.5" y1="1147.8" x2="504.8" y2="1147.8" stroke="#000" stroke-width="2"/>
<text transform="translate(441.30,1170.00) scale(1,1.04)" font-size="21.5" text-anchor="middle">-</text>
<text transform="translate(493.40,1170.00) scale(1,1.04)" font-size="21.5" text-anchor="middle" font-weight="bold">+</text>
<text transform="translate(541.70,1149.00) scale(1,1.04)" font-size="23.2" text-anchor="middle">DNA</text>
<text transform="translate(573.60,1134.00) scale(1,1.04)" font-size="23.2">E64-</text>
<text transform="translate(573.30,1161.00) scale(1,1.04)" font-size="23.2">DNA</text>
<clipPath id="clp7"><rect x="414" y="1182" width="209" height="43.5"/></clipPath>
<rect x="414.0" y="1182.0" width="209.0" height="43.5" fill="#eeeeee"/>
<g clip-path="url(#clp7)">
<rect x="560.0" y="1182.0" width="63.0" height="43.5" fill="#e6e6e6"/>
<path d="M476.3,1201.6 Q491.8,1205.2 507.3,1201.6 A4.5,4.5 0 0 1 507.3,1210.6 Q491.8,1207.0 476.3,1210.6 A4.5,4.5 0 0 1 476.3,1201.6 Z" fill="#000" fill-opacity="1.00" filter="url(#b1_0)"/>
</g>
<rect x="414.0" y="1182.0" width="209.0" height="43.5" fill="none" stroke="#000" stroke-width="2"/>
<clipPath id="clp8"><rect x="414" y="1234.2" width="209" height="43.5"/></clipPath>
<rect x="414.0" y="1234.2" width="209.0" height="43.5" fill="#f0f0f0"/>
<g clip-path="url(#clp8)">
<path d="M426.1,1255.3 Q441.0,1257.5 455.9,1255.3 A4.2,4.2 0 0 1 455.9,1263.8 Q441.0,1261.7 426.1,1263.8 A4.2,4.2 0 0 1 426.1,1255.3 Z" fill="#000" fill-opacity="1.00" filter="url(#b1_0)"/>
<path d="M475.6,1255.6 Q490.8,1257.6 506.0,1255.6 A4.0,4.0 0 0 1 506.0,1263.6 Q490.8,1261.6 475.6,1263.6 A4.0,4.0 0 0 1 475.6,1255.6 Z" fill="#000" fill-opacity="1.00" filter="url(#b1_0)"/>
<path d="M527.6,1255.3 Q542.6,1257.5 557.6,1255.3 A4.2,4.2 0 0 1 557.6,1263.8 Q542.6,1261.7 527.6,1263.8 A4.2,4.2 0 0 1 527.6,1255.3 Z" fill="#000" fill-opacity="1.00" filter="url(#b1_0)"/>
<path d="M582.4,1256.0 Q598.1,1260.0 613.8,1256.0 A4.0,4.0 0 0 1 613.8,1264.0 Q598.1,1260.0 582.4,1264.0 A4.0,4.0 0 0 1 582.4,1256.0 Z" fill="#000" fill-opacity="0.95" filter="url(#b1_0)"/>
</g>
<rect x="414.0" y="1234.2" width="209.0" height="43.5" fill="none" stroke="#000" stroke-width="2"/>
<clipPath id="clp9"><rect x="414" y="1287" width="209" height="43.8"/></clipPath>
<rect x="414.0" y="1287.0" width="209.0" height="43.8" fill="#b9b9b9"/>
<g clip-path="url(#clp9)">
<defs><linearGradient id="irfg" x1="0" x2="1" y1="0" y2="0"><stop offset="0" stop-color="#7a7878"/><stop offset="0.03" stop-color="#a9a7a7"/><stop offset="0.06" stop-color="#c6c4c4"/><stop offset="0.24" stop-color="#c4c2c2"/><stop offset="0.27" stop-color="#b5b2b2"/><stop offset="0.3" stop-color="#aaa7a7"/><stop offset="0.45" stop-color="#aaa7a7"/><stop offset="0.48" stop-color="#c4c2c2"/><stop offset="0.51" stop-color="#a8a5a5"/><stop offset="0.68" stop-color="#aaa7a7"/><stop offset="0.71" stop-color="#c0bdbd"/><stop offset="0.76" stop-color="#b3b0b0"/><stop offset="1" stop-color="#b5b2b2"/></linearGradient></defs>
<rect x="414.0" y="1287.0" width="209.0" height="43.8" fill="url(#irfg)"/>
<rect x="471.3" y="1305.0" width="40.0" height="9.0" rx="4.5" ry="4.5" fill="#000" fill-opacity="0.38" filter="url(#b2_5)"/>
</g>
<rect x="414.0" y="1287.0" width="209.0" height="43.8" fill="none" stroke="#000" stroke-width="2"/>
<clipPath id="clp10"><rect x="414" y="1340" width="209" height="44"/></clipPath>
<rect x="414.0" y="1340.0" width="209.0" height="44.0" fill="#ececec"/>
<g clip-path="url(#clp10)">
<rect x="419.8" y="1354.5" width="38.3" height="9.0" rx="4.5" ry="4.5" fill="#000" fill-opacity="0.68" filter="url(#b1_5)"/>
<rect x="421.8" y="1363.0" width="34.3" height="6.0" rx="3.0" ry="3.0" fill="#000" fill-opacity="0.24" filter="url(#b2_0)"/>
<rect x="471.7" y="1354.5" width="36.3" height="9.0" rx="4.5" ry="4.5" fill="#000" fill-opacity="0.64" filter="url(#b1_5)"/>
<rect x="473.7" y="1363.0" width="32.3" height="6.0" rx="3.0" ry="3.0" fill="#000" fill-opacity="0.22" filter="url(#b2_0)"/>
<rect x="521.4" y="1354.5" width="38.4" height="9.0" rx="4.5" ry="4.5" fill="#000" fill-opacity="0.74" filter="url(#b1_5)"/>
<rect x="523.4" y="1363.0" width="34.4" height="6.0" rx="3.0" ry="3.0" fill="#000" fill-opacity="0.26" filter="url(#b2_0)"/>
<rect x="573.2" y="1354.5" width="38.4" height="9.0" rx="4.5" ry="4.5" fill="#000" fill-opacity="0.70" filter="url(#b1_5)"/>
<rect x="575.2" y="1363.0" width="34.4" height="6.0" rx="3.0" ry="3.0" fill="#000" fill-opacity="0.24" filter="url(#b2_0)"/>
</g>
<rect x="414.0" y="1340.0" width="209.0" height="44.0" fill="none" stroke="#000" stroke-width="2"/>
<clipPath id="clp11"><rect x="414" y="1393" width="209" height="43.7"/></clipPath>
<rect x="414.0" y="1393.0" width="209.0" height="43.7" fill="#ececec"/>
<g clip-path="url(#clp11)">
<path d="M424.9,1408.5 Q440.0,1412.1 455.1,1408.5 A7.2,7.2 0 0 1 455.1,1423.0 Q440.0,1419.3 424.9,1423.0 A7.2,7.2 0 0 1 424.9,1408.5 Z" fill="#000" fill-opacity="1.00" filter="url(#b1_0)"/>
<path d="M477.6,1408.7 Q491.3,1412.2 505.0,1408.7 A7.0,7.0 0 0 1 505.0,1422.7 Q491.3,1419.2 477.6,1422.7 A7.0,7.0 0 0 1 477.6,1408.7 Z" fill="#000" fill-opacity="1.00" filter="url(#b1_0)"/>
<path d="M526.5,1409.5 Q540.0,1412.6 553.5,1409.5 A6.2,6.2 0 0 1 553.5,1422.0 Q540.0,1418.8 526.5,1422.0 A6.2,6.2 0 0 1 526.5,1409.5 Z" fill="#000" fill-opacity="1.00" filter="url(#b1_0)"/>
<path d="M575.8,1409.0 Q590.3,1412.3 604.8,1409.0 A6.8,6.8 0 0 1 604.8,1422.5 Q590.3,1419.1 575.8,1422.5 A6.8,6.8 0 0 1 575.8,1409.0 Z" fill="#000" fill-opacity="1.00" filter="url(#b1_0)"/>
</g>
<rect x="414.0" y="1393.0" width="209.0" height="43.7" fill="none" stroke="#000" stroke-width="2"/>
<line x1="401.8" y1="1182.0" x2="414.0" y2="1182.0" stroke="#000" stroke-width="2"/>
<line x1="401.8" y1="1225.5" x2="414.0" y2="1225.5" stroke="#000" stroke-width="2"/>
<line x1="401.8" y1="1234.2" x2="414.0" y2="1234.2" stroke="#000" stroke-width="2"/>
<line x1="401.8" y1="1305.4" x2="414.0" y2="1305.4" stroke="#000" stroke-width="2"/>
<line x1="401.8" y1="1361.3" x2="414.0" y2="1361.3" stroke="#000" stroke-width="2"/>
<line x1="401.8" y1="1419.7" x2="414.0" y2="1419.7" stroke="#000" stroke-width="2"/>
<text transform="translate(397.50,1189.00) scale(1,1.04)" font-size="20.5" text-anchor="end">100</text>
<text transform="translate(397.50,1228.00) scale(1,1.04)" font-size="20.5" text-anchor="end">75</text>
<text transform="translate(397.50,1243.00) scale(1,1.04)" font-size="20.5" text-anchor="end">100</text>
<text transform="translate(397.50,1281.50) scale(1,1.04)" font-size="20.5" text-anchor="end">75</text>
<text transform="translate(397.50,1313.00) scale(1,1.04)" font-size="20.5" text-anchor="end">50</text>
<text transform="translate(397.50,1369.00) scale(1,1.04)" font-size="20.5" text-anchor="end">50</text>
<text transform="translate(397.50,1427.50) scale(1,1.04)" font-size="20.5" text-anchor="end">50</text>
<text transform="translate(629.60,1212.50) scale(1,1.04)" font-size="24.5">p-TBK1</text>
<text transform="translate(629.60,1265.00) scale(1,1.04)" font-size="24.5">TBK1</text>
<text transform="translate(629.60,1321.00) scale(1,1.04)" font-size="24.5">p-IRF3</text>
<text transform="translate(629.60,1376.50) scale(1,1.04)" font-size="24.5">IRF3</text>
<text transform="translate(629.60,1431.50) scale(1,1.04)" font-size="24.5">Tubulin</text>
<text transform="translate(721.36,1083.87) scale(0.986,1)" font-size="59.2" font-weight="bold">g</text>
<text transform="translate(955.80,1089.00) scale(1,1.04)" font-size="25" text-anchor="middle">M1-associated</text>
<text transform="translate(1213.00,1089.00) scale(1,1.04)" font-size="25" text-anchor="middle">M2-associated</text>
<text transform="translate(1428.30,1089.00) scale(1,1.04)" font-size="25" text-anchor="middle">Controls</text>
<rect x="830.4" y="1305.6" width="8.8" height="142.0" fill="#646160" stroke="#000" stroke-width="1.6"/>
<line x1="834.8" y1="1275.2" x2="834.8" y2="1335.9" stroke="#000" stroke-width="1.6"/>
<line x1="829.8" y1="1275.2" x2="839.8" y2="1275.2" stroke="#000" stroke-width="1.8"/>
<line x1="829.8" y1="1335.9" x2="839.8" y2="1335.9" stroke="#000" stroke-width="1.8"/>
<circle cx="834.8" cy="1253.2" r="4.7" fill="#000"/>
<circle cx="834.8" cy="1308.3" r="4.7" fill="#000"/>
<circle cx="834.8" cy="1352.4" r="4.7" fill="#000"/>
<rect x="848.6" y="1312.5" width="8.8" height="135.1" fill="#2f74bd" stroke="#000" stroke-width="1.6"/>
<line x1="853.0" y1="1311.1" x2="853.0" y2="1313.8" stroke="#000" stroke-width="1.6"/>
<line x1="848.0" y1="1311.1" x2="858.0" y2="1311.1" stroke="#000" stroke-width="1.8"/>
<line x1="848.0" y1="1313.8" x2="858.0" y2="1313.8" stroke="#000" stroke-width="1.8"/>
<circle cx="853.0" cy="1311.1" r="4.7" fill="#000"/>
<circle cx="853.0" cy="1313.8" r="4.7" fill="#000"/>
<circle cx="853.0" cy="1315.2" r="4.7" fill="#000"/>
<rect x="866.8" y="1318.0" width="8.8" height="129.6" fill="#a4d11c" stroke="#000" stroke-width="1.6"/>
<line x1="871.2" y1="1309.7" x2="871.2" y2="1326.2" stroke="#000" stroke-width="1.6"/>
<line x1="866.2" y1="1309.7" x2="876.2" y2="1309.7" stroke="#000" stroke-width="1.8"/>
<line x1="866.2" y1="1326.2" x2="876.2" y2="1326.2" stroke="#000" stroke-width="1.8"/>
<circle cx="871.2" cy="1302.8" r="4.7" fill="#000"/>
<circle cx="871.2" cy="1322.1" r="4.7" fill="#000"/>
<circle cx="871.2" cy="1324.9" r="4.7" fill="#000"/>
<rect x="885.0" y="1295.9" width="8.8" height="151.7" fill="#df2a1c" stroke="#000" stroke-width="1.6"/>
<line x1="889.4" y1="1257.3" x2="889.4" y2="1334.5" stroke="#000" stroke-width="1.6"/>
<line x1="884.4" y1="1257.3" x2="894.4" y2="1257.3" stroke="#000" stroke-width="1.8"/>
<line x1="884.4" y1="1334.5" x2="894.4" y2="1334.5" stroke="#000" stroke-width="1.8"/>
<circle cx="889.4" cy="1242.1" r="4.7" fill="#000"/>
<circle cx="889.4" cy="1273.8" r="4.7" fill="#000"/>
<circle cx="889.4" cy="1364.9" r="4.7" fill="#000"/>
<rect x="917.5" y="1309.7" width="8.8" height="137.9" fill="#646160" stroke="#000" stroke-width="1.6"/>
<line x1="921.9" y1="1298.7" x2="921.9" y2="1320.7" stroke="#000" stroke-width="1.6"/>
<line x1="916.9" y1="1298.7" x2="926.9" y2="1298.7" stroke="#000" stroke-width="1.8"/>
<line x1="916.9" y1="1320.7" x2="926.9" y2="1320.7" stroke="#000" stroke-width="1.8"/>
<circle cx="921.9" cy="1291.8" r="4.7" fill="#000"/>
<circle cx="921.9" cy="1295.9" r="4.7" fill="#000"/>
<circle cx="921.9" cy="1337.3" r="4.7" fill="#000"/>
<rect x="935.6" y="1295.9" width="8.8" height="151.7" fill="#2f74bd" stroke="#000" stroke-width="1.6"/>
<line x1="940.0" y1="1275.2" x2="940.0" y2="1316.6" stroke="#000" stroke-width="1.6"/>
<line x1="935.0" y1="1275.2" x2="945.0" y2="1275.2" stroke="#000" stroke-width="1.8"/>
<line x1="935.0" y1="1316.6" x2="945.0" y2="1316.6" stroke="#000" stroke-width="1.8"/>
<circle cx="940.0" cy="1260.1" r="4.7" fill="#000"/>
<circle cx="940.0" cy="1298.7" r="4.7" fill="#000"/>
<circle cx="940.0" cy="1324.9" r="4.7" fill="#000"/>
<rect x="953.9" y="1294.5" width="8.8" height="153.1" fill="#a4d11c" stroke="#000" stroke-width="1.6"/>
<line x1="958.2" y1="1273.8" x2="958.2" y2="1315.2" stroke="#000" stroke-width="1.6"/>
<line x1="953.2" y1="1273.8" x2="963.2" y2="1273.8" stroke="#000" stroke-width="1.8"/>
<line x1="953.2" y1="1315.2" x2="963.2" y2="1315.2" stroke="#000" stroke-width="1.8"/>
<circle cx="958.2" cy="1254.5" r="4.7" fill="#000"/>
<circle cx="958.2" cy="1305.6" r="4.7" fill="#000"/>
<circle cx="958.2" cy="1316.6" r="4.7" fill="#000"/>
<rect x="972.0" y="1300.0" width="8.8" height="147.6" fill="#df2a1c" stroke="#000" stroke-width="1.6"/>
<line x1="976.4" y1="1286.3" x2="976.4" y2="1313.8" stroke="#000" stroke-width="1.6"/>
<line x1="971.4" y1="1286.3" x2="981.4" y2="1286.3" stroke="#000" stroke-width="1.8"/>
<line x1="971.4" y1="1313.8" x2="981.4" y2="1313.8" stroke="#000" stroke-width="1.8"/>
<circle cx="976.4" cy="1279.4" r="4.7" fill="#000"/>
<circle cx="976.4" cy="1284.9" r="4.7" fill="#000"/>
<circle cx="976.4" cy="1330.4" r="4.7" fill="#000"/>
<rect x="1004.5" y="1309.7" width="8.8" height="137.9" fill="#646160" stroke="#000" stroke-width="1.6"/>
<line x1="1008.9" y1="1301.4" x2="1008.9" y2="1318.0" stroke="#000" stroke-width="1.6"/>
<line x1="1003.9" y1="1301.4" x2="1013.9" y2="1301.4" stroke="#000" stroke-width="1.8"/>
<line x1="1003.9" y1="1318.0" x2="1013.9" y2="1318.0" stroke="#000" stroke-width="1.8"/>
<circle cx="1008.9" cy="1297.3" r="4.7" fill="#000"/>
<circle cx="1008.9" cy="1300.0" r="4.7" fill="#000"/>
<circle cx="1008.9" cy="1331.8" r="4.7" fill="#000"/>
<rect x="1022.7" y="1319.4" width="8.8" height="128.2" fill="#2f74bd" stroke="#000" stroke-width="1.6"/>
<line x1="1027.1" y1="1309.7" x2="1027.1" y2="1329.0" stroke="#000" stroke-width="1.6"/>
<line x1="1022.1" y1="1309.7" x2="1032.1" y2="1309.7" stroke="#000" stroke-width="1.8"/>
<line x1="1022.1" y1="1329.0" x2="1032.1" y2="1329.0" stroke="#000" stroke-width="1.8"/>
<circle cx="1027.1" cy="1308.3" r="4.7" fill="#000"/>
<circle cx="1027.1" cy="1324.9" r="4.7" fill="#000"/>
<circle cx="1027.1" cy="1327.6" r="4.7" fill="#000"/>
<rect x="1040.9" y="1293.2" width="8.8" height="154.4" fill="#a4d11c" stroke="#000" stroke-width="1.6"/>
<line x1="1045.3" y1="1282.1" x2="1045.3" y2="1304.2" stroke="#000" stroke-width="1.6"/>
<line x1="1040.3" y1="1282.1" x2="1050.3" y2="1282.1" stroke="#000" stroke-width="1.8"/>
<line x1="1040.3" y1="1304.2" x2="1050.3" y2="1304.2" stroke="#000" stroke-width="1.8"/>
<circle cx="1045.3" cy="1275.2" r="4.7" fill="#000"/>
<circle cx="1045.3" cy="1279.4" r="4.7" fill="#000"/>
<circle cx="1045.3" cy="1319.4" r="4.7" fill="#000"/>
<rect x="1059.1" y="1284.9" width="8.8" height="162.7" fill="#df2a1c" stroke="#000" stroke-width="1.6"/>
<line x1="1063.5" y1="1262.8" x2="1063.5" y2="1306.9" stroke="#000" stroke-width="1.6"/>
<line x1="1058.5" y1="1262.8" x2="1068.5" y2="1262.8" stroke="#000" stroke-width="1.8"/>
<line x1="1058.5" y1="1306.9" x2="1068.5" y2="1306.9" stroke="#000" stroke-width="1.8"/>
<circle cx="1063.5" cy="1243.5" r="4.7" fill="#000"/>
<circle cx="1063.5" cy="1289.0" r="4.7" fill="#000"/>
<circle cx="1063.5" cy="1313.8" r="4.7" fill="#000"/>
<rect x="1091.5" y="1309.7" width="8.8" height="137.9" fill="#646160" stroke="#000" stroke-width="1.6"/>
<line x1="1096.0" y1="1302.8" x2="1096.0" y2="1316.6" stroke="#000" stroke-width="1.6"/>
<line x1="1091.0" y1="1302.8" x2="1101.0" y2="1302.8" stroke="#000" stroke-width="1.8"/>
<line x1="1091.0" y1="1316.6" x2="1101.0" y2="1316.6" stroke="#000" stroke-width="1.8"/>
<circle cx="1096.0" cy="1293.2" r="4.7" fill="#000"/>
<circle cx="1096.0" cy="1309.7" r="4.7" fill="#000"/>
<circle cx="1096.0" cy="1323.5" r="4.7" fill="#000"/>
<rect x="1109.8" y="1309.7" width="8.8" height="137.9" fill="#2f74bd" stroke="#000" stroke-width="1.6"/>
<line x1="1114.2" y1="1293.2" x2="1114.2" y2="1326.2" stroke="#000" stroke-width="1.6"/>
<line x1="1109.2" y1="1293.2" x2="1119.2" y2="1293.2" stroke="#000" stroke-width="1.8"/>
<line x1="1109.2" y1="1326.2" x2="1119.2" y2="1326.2" stroke="#000" stroke-width="1.8"/>
<circle cx="1114.2" cy="1279.4" r="4.7" fill="#000"/>
<circle cx="1114.2" cy="1320.7" r="4.7" fill="#000"/>
<circle cx="1114.2" cy="1324.9" r="4.7" fill="#000"/>
<rect x="1127.9" y="1297.3" width="8.8" height="150.3" fill="#a4d11c" stroke="#000" stroke-width="1.6"/>
<line x1="1132.3" y1="1278.0" x2="1132.3" y2="1316.6" stroke="#000" stroke-width="1.6"/>
<line x1="1127.3" y1="1278.0" x2="1137.3" y2="1278.0" stroke="#000" stroke-width="1.8"/>
<line x1="1127.3" y1="1316.6" x2="1137.3" y2="1316.6" stroke="#000" stroke-width="1.8"/>
<circle cx="1132.3" cy="1260.1" r="4.7" fill="#000"/>
<circle cx="1132.3" cy="1305.6" r="4.7" fill="#000"/>
<circle cx="1132.3" cy="1323.5" r="4.7" fill="#000"/>
<rect x="1146.1" y="1306.9" width="8.8" height="140.7" fill="#df2a1c" stroke="#000" stroke-width="1.6"/>
<line x1="1150.5" y1="1291.8" x2="1150.5" y2="1322.1" stroke="#000" stroke-width="1.6"/>
<line x1="1145.5" y1="1291.8" x2="1155.5" y2="1291.8" stroke="#000" stroke-width="1.8"/>
<line x1="1145.5" y1="1322.1" x2="1155.5" y2="1322.1" stroke="#000" stroke-width="1.8"/>
<circle cx="1150.5" cy="1287.6" r="4.7" fill="#000"/>
<circle cx="1150.5" cy="1289.0" r="4.7" fill="#000"/>
<circle cx="1150.5" cy="1340.0" r="4.7" fill="#000"/>
<rect x="1178.6" y="1308.3" width="8.8" height="139.3" fill="#646160" stroke="#000" stroke-width="1.6"/>
<line x1="1183.0" y1="1286.3" x2="1183.0" y2="1330.4" stroke="#000" stroke-width="1.6"/>
<line x1="1178.0" y1="1286.3" x2="1188.0" y2="1286.3" stroke="#000" stroke-width="1.8"/>
<line x1="1178.0" y1="1330.4" x2="1188.0" y2="1330.4" stroke="#000" stroke-width="1.8"/>
<circle cx="1183.0" cy="1267.0" r="4.7" fill="#000"/>
<circle cx="1183.0" cy="1319.4" r="4.7" fill="#000"/>
<circle cx="1183.0" cy="1333.1" r="4.7" fill="#000"/>
<rect x="1196.8" y="1306.9" width="8.8" height="140.7" fill="#2f74bd" stroke="#000" stroke-width="1.6"/>
<line x1="1201.2" y1="1286.3" x2="1201.2" y2="1327.6" stroke="#000" stroke-width="1.6"/>
<line x1="1196.2" y1="1286.3" x2="1206.2" y2="1286.3" stroke="#000" stroke-width="1.8"/>
<line x1="1196.2" y1="1327.6" x2="1206.2" y2="1327.6" stroke="#000" stroke-width="1.8"/>
<circle cx="1201.2" cy="1269.7" r="4.7" fill="#000"/>
<circle cx="1201.2" cy="1313.8" r="4.7" fill="#000"/>
<circle cx="1201.2" cy="1334.5" r="4.7" fill="#000"/>
<rect x="1215.0" y="1309.7" width="8.8" height="137.9" fill="#a4d11c" stroke="#000" stroke-width="1.6"/>
<line x1="1219.4" y1="1289.0" x2="1219.4" y2="1330.4" stroke="#000" stroke-width="1.6"/>
<line x1="1214.4" y1="1289.0" x2="1224.4" y2="1289.0" stroke="#000" stroke-width="1.8"/>
<line x1="1214.4" y1="1330.4" x2="1224.4" y2="1330.4" stroke="#000" stroke-width="1.8"/>
<circle cx="1219.4" cy="1282.1" r="4.7" fill="#000"/>
<circle cx="1219.4" cy="1295.9" r="4.7" fill="#000"/>
<circle cx="1219.4" cy="1345.6" r="4.7" fill="#000"/>
<rect x="1233.2" y="1295.9" width="8.8" height="151.7" fill="#df2a1c" stroke="#000" stroke-width="1.6"/>
<line x1="1237.6" y1="1287.6" x2="1237.6" y2="1304.2" stroke="#000" stroke-width="1.6"/>
<line x1="1232.6" y1="1287.6" x2="1242.6" y2="1287.6" stroke="#000" stroke-width="1.8"/>
<line x1="1232.6" y1="1304.2" x2="1242.6" y2="1304.2" stroke="#000" stroke-width="1.8"/>
<circle cx="1237.6" cy="1279.4" r="4.7" fill="#000"/>
<circle cx="1237.6" cy="1300.0" r="4.7" fill="#000"/>
<circle cx="1237.6" cy="1305.6" r="4.7" fill="#000"/>
<rect x="1265.6" y="1309.7" width="8.8" height="137.9" fill="#646160" stroke="#000" stroke-width="1.6"/>
<line x1="1270.0" y1="1294.5" x2="1270.0" y2="1324.9" stroke="#000" stroke-width="1.6"/>
<line x1="1265.0" y1="1294.5" x2="1275.0" y2="1294.5" stroke="#000" stroke-width="1.8"/>
<line x1="1265.0" y1="1324.9" x2="1275.0" y2="1324.9" stroke="#000" stroke-width="1.8"/>
<circle cx="1270.0" cy="1279.4" r="4.7" fill="#000"/>
<circle cx="1270.0" cy="1323.5" r="4.7" fill="#000"/>
<circle cx="1270.0" cy="1324.9" r="4.7" fill="#000"/>
<rect x="1283.8" y="1244.9" width="8.8" height="202.7" fill="#2f74bd" stroke="#000" stroke-width="1.6"/>
<line x1="1288.2" y1="1204.9" x2="1288.2" y2="1284.9" stroke="#000" stroke-width="1.6"/>
<line x1="1283.2" y1="1204.9" x2="1293.2" y2="1204.9" stroke="#000" stroke-width="1.8"/>
<line x1="1283.2" y1="1284.9" x2="1293.2" y2="1284.9" stroke="#000" stroke-width="1.8"/>
<circle cx="1288.2" cy="1166.3" r="4.7" fill="#000"/>
<circle cx="1288.2" cy="1273.8" r="4.7" fill="#000"/>
<circle cx="1288.2" cy="1291.8" r="4.7" fill="#000"/>
<rect x="1302.0" y="1291.8" width="8.8" height="155.8" fill="#a4d11c" stroke="#000" stroke-width="1.6"/>
<line x1="1306.4" y1="1286.3" x2="1306.4" y2="1297.3" stroke="#000" stroke-width="1.6"/>
<line x1="1301.4" y1="1286.3" x2="1311.4" y2="1286.3" stroke="#000" stroke-width="1.8"/>
<line x1="1301.4" y1="1297.3" x2="1311.4" y2="1297.3" stroke="#000" stroke-width="1.8"/>
<circle cx="1306.4" cy="1276.6" r="4.7" fill="#000"/>
<circle cx="1306.4" cy="1287.6" r="4.7" fill="#000"/>
<circle cx="1306.4" cy="1309.7" r="4.7" fill="#000"/>
<rect x="1320.2" y="1284.9" width="8.8" height="162.7" fill="#df2a1c" stroke="#000" stroke-width="1.6"/>
<line x1="1324.6" y1="1267.0" x2="1324.6" y2="1302.8" stroke="#000" stroke-width="1.6"/>
<line x1="1319.6" y1="1267.0" x2="1329.6" y2="1267.0" stroke="#000" stroke-width="1.8"/>
<line x1="1319.6" y1="1302.8" x2="1329.6" y2="1302.8" stroke="#000" stroke-width="1.8"/>
<circle cx="1324.6" cy="1251.8" r="4.7" fill="#000"/>
<circle cx="1324.6" cy="1289.0" r="4.7" fill="#000"/>
<circle cx="1324.6" cy="1306.9" r="4.7" fill="#000"/>
<rect x="1352.7" y="1305.6" width="8.8" height="142.0" fill="#646160" stroke="#000" stroke-width="1.6"/>
<line x1="1357.1" y1="1275.2" x2="1357.1" y2="1335.9" stroke="#000" stroke-width="1.6"/>
<line x1="1352.1" y1="1275.2" x2="1362.1" y2="1275.2" stroke="#000" stroke-width="1.8"/>
<line x1="1352.1" y1="1335.9" x2="1362.1" y2="1335.9" stroke="#000" stroke-width="1.8"/>
<circle cx="1357.1" cy="1269.7" r="4.7" fill="#000"/>
<circle cx="1357.1" cy="1286.3" r="4.7" fill="#000"/>
<circle cx="1357.1" cy="1356.6" r="4.7" fill="#000"/>
<rect x="1370.9" y="1291.8" width="8.8" height="155.8" fill="#2f74bd" stroke="#000" stroke-width="1.6"/>
<line x1="1375.3" y1="1269.7" x2="1375.3" y2="1313.8" stroke="#000" stroke-width="1.6"/>
<line x1="1370.3" y1="1269.7" x2="1380.3" y2="1269.7" stroke="#000" stroke-width="1.8"/>
<line x1="1370.3" y1="1313.8" x2="1380.3" y2="1313.8" stroke="#000" stroke-width="1.8"/>
<circle cx="1375.3" cy="1247.6" r="4.7" fill="#000"/>
<circle cx="1375.3" cy="1311.1" r="4.7" fill="#000"/>
<circle cx="1375.3" cy="1312.5" r="4.7" fill="#000"/>
<rect x="1389.1" y="1268.3" width="8.8" height="179.3" fill="#a4d11c" stroke="#000" stroke-width="1.6"/>
<line x1="1393.5" y1="1243.5" x2="1393.5" y2="1293.2" stroke="#000" stroke-width="1.6"/>
<line x1="1388.5" y1="1243.5" x2="1398.5" y2="1243.5" stroke="#000" stroke-width="1.8"/>
<line x1="1388.5" y1="1293.2" x2="1398.5" y2="1293.2" stroke="#000" stroke-width="1.8"/>
<circle cx="1393.5" cy="1225.6" r="4.7" fill="#000"/>
<circle cx="1393.5" cy="1269.7" r="4.7" fill="#000"/>
<circle cx="1393.5" cy="1308.3" r="4.7" fill="#000"/>
<rect x="1407.3" y="1300.0" width="8.8" height="147.6" fill="#df2a1c" stroke="#000" stroke-width="1.6"/>
<line x1="1411.7" y1="1271.1" x2="1411.7" y2="1329.0" stroke="#000" stroke-width="1.6"/>
<line x1="1406.7" y1="1271.1" x2="1416.7" y2="1271.1" stroke="#000" stroke-width="1.8"/>
<line x1="1406.7" y1="1329.0" x2="1416.7" y2="1329.0" stroke="#000" stroke-width="1.8"/>
<circle cx="1411.7" cy="1267.0" r="4.7" fill="#000"/>
<circle cx="1411.7" cy="1276.6" r="4.7" fill="#000"/>
<circle cx="1411.7" cy="1352.4" r="4.7" fill="#000"/>
<rect x="1439.8" y="1304.2" width="8.8" height="143.4" fill="#646160" stroke="#000" stroke-width="1.6"/>
<line x1="1444.2" y1="1272.5" x2="1444.2" y2="1335.9" stroke="#000" stroke-width="1.6"/>
<line x1="1439.2" y1="1272.5" x2="1449.2" y2="1272.5" stroke="#000" stroke-width="1.8"/>
<line x1="1439.2" y1="1335.9" x2="1449.2" y2="1335.9" stroke="#000" stroke-width="1.8"/>
<circle cx="1444.2" cy="1242.1" r="4.7" fill="#000"/>
<circle cx="1444.2" cy="1330.4" r="4.7" fill="#000"/>
<circle cx="1444.2" cy="1337.3" r="4.7" fill="#000"/>
<rect x="1458.0" y="1330.4" width="8.8" height="117.2" fill="#2f74bd" stroke="#000" stroke-width="1.6"/>
<line x1="1462.4" y1="1323.5" x2="1462.4" y2="1337.3" stroke="#000" stroke-width="1.6"/>
<line x1="1457.4" y1="1323.5" x2="1467.4" y2="1323.5" stroke="#000" stroke-width="1.8"/>
<line x1="1457.4" y1="1337.3" x2="1467.4" y2="1337.3" stroke="#000" stroke-width="1.8"/>
<circle cx="1462.4" cy="1318.0" r="4.7" fill="#000"/>
<circle cx="1462.4" cy="1323.5" r="4.7" fill="#000"/>
<circle cx="1462.4" cy="1348.3" r="4.7" fill="#000"/>
<rect x="1476.1" y="1312.5" width="8.8" height="135.1" fill="#a4d11c" stroke="#000" stroke-width="1.6"/>
<line x1="1480.5" y1="1302.8" x2="1480.5" y2="1322.1" stroke="#000" stroke-width="1.6"/>
<line x1="1475.5" y1="1302.8" x2="1485.5" y2="1302.8" stroke="#000" stroke-width="1.8"/>
<line x1="1475.5" y1="1322.1" x2="1485.5" y2="1322.1" stroke="#000" stroke-width="1.8"/>
<circle cx="1480.5" cy="1293.2" r="4.7" fill="#000"/>
<circle cx="1480.5" cy="1315.2" r="4.7" fill="#000"/>
<circle cx="1480.5" cy="1330.4" r="4.7" fill="#000"/>
<rect x="1494.3" y="1309.7" width="8.8" height="137.9" fill="#df2a1c" stroke="#000" stroke-width="1.6"/>
<line x1="1498.8" y1="1301.4" x2="1498.8" y2="1318.0" stroke="#000" stroke-width="1.6"/>
<line x1="1493.8" y1="1301.4" x2="1503.8" y2="1301.4" stroke="#000" stroke-width="1.8"/>
<line x1="1493.8" y1="1318.0" x2="1503.8" y2="1318.0" stroke="#000" stroke-width="1.8"/>
<circle cx="1498.8" cy="1294.5" r="4.7" fill="#000"/>
<circle cx="1498.8" cy="1305.6" r="4.7" fill="#000"/>
<circle cx="1498.8" cy="1320.7" r="4.7" fill="#000"/>
<line x1="1078.9" y1="1102.8" x2="1078.9" y2="1447.6" stroke="#000" stroke-width="1.9" stroke-dasharray="8.6,7.7" stroke-dashoffset="4"/>
<line x1="1347.4" y1="1102.8" x2="1347.4" y2="1447.6" stroke="#000" stroke-width="1.9" stroke-dasharray="8.6,7.7" stroke-dashoffset="4"/>
<path d="M820.5,1102.85 H1511.6 V1447.6 H820.5 Z" fill="none" stroke="#000" stroke-width="2.1"/>
<line x1="811.5" y1="1447.6" x2="820.5" y2="1447.6" stroke="#000" stroke-width="2.0"/>
<text transform="translate(808.10,1456.60) scale(1,1.04)" font-size="25" text-anchor="end">0.0</text>
<line x1="811.5" y1="1378.6" x2="820.5" y2="1378.6" stroke="#000" stroke-width="2.0"/>
<text transform="translate(808.10,1387.65) scale(1,1.04)" font-size="25" text-anchor="end">0.5</text>
<line x1="811.5" y1="1309.7" x2="820.5" y2="1309.7" stroke="#000" stroke-width="2.0"/>
<text transform="translate(808.10,1318.70) scale(1,1.04)" font-size="25" text-anchor="end">1.0</text>
<line x1="811.5" y1="1240.8" x2="820.5" y2="1240.8" stroke="#000" stroke-width="2.0"/>
<text transform="translate(808.10,1249.75) scale(1,1.04)" font-size="25" text-anchor="end">1.5</text>
<line x1="811.5" y1="1171.8" x2="820.5" y2="1171.8" stroke="#000" stroke-width="2.0"/>
<text transform="translate(808.10,1180.80) scale(1,1.04)" font-size="25" text-anchor="end">2.0</text>
<line x1="811.5" y1="1102.8" x2="820.5" y2="1102.8" stroke="#000" stroke-width="2.0"/>
<text transform="translate(808.10,1111.85) scale(1,1.04)" font-size="25" text-anchor="end">2.5</text>
<line x1="862.1" y1="1447.6" x2="862.1" y2="1457.6" stroke="#000" stroke-width="2.0"/>
<text transform="translate(860.60,1480.30) scale(1,1.04)" font-size="24" text-anchor="middle" font-style="italic">Tnfa</text>
<line x1="949.1" y1="1447.6" x2="949.1" y2="1457.6" stroke="#000" stroke-width="2.0"/>
<text transform="translate(947.65,1480.30) scale(1,1.04)" font-size="24" text-anchor="middle" font-style="italic">Il1b</text>
<line x1="1036.2" y1="1447.6" x2="1036.2" y2="1457.6" stroke="#000" stroke-width="2.0"/>
<text transform="translate(1034.70,1480.30) scale(1,1.04)" font-size="24" text-anchor="middle" font-style="italic">Nos2</text>
<line x1="1123.2" y1="1447.6" x2="1123.2" y2="1457.6" stroke="#000" stroke-width="2.0"/>
<text transform="translate(1121.75,1480.30) scale(1,1.04)" font-size="24" text-anchor="middle" font-style="italic">Arg1</text>
<line x1="1210.3" y1="1447.6" x2="1210.3" y2="1457.6" stroke="#000" stroke-width="2.0"/>
<text transform="translate(1208.80,1480.30) scale(1,1.04)" font-size="24" text-anchor="middle" font-style="italic">Il10</text>
<line x1="1297.3" y1="1447.6" x2="1297.3" y2="1457.6" stroke="#000" stroke-width="2.0"/>
<text transform="translate(1295.85,1480.30) scale(1,1.04)" font-size="24" text-anchor="middle" font-style="italic">Fizz1</text>
<line x1="1384.4" y1="1447.6" x2="1384.4" y2="1457.6" stroke="#000" stroke-width="2.0"/>
<text transform="translate(1382.90,1480.30) scale(1,1.04)" font-size="24" text-anchor="middle" font-style="italic">Gapdh</text>
<line x1="1471.5" y1="1447.6" x2="1471.5" y2="1457.6" stroke="#000" stroke-width="2.0"/>
<text transform="translate(1469.95,1480.30) scale(1,1.04)" font-size="24" text-anchor="middle" font-style="italic">Cd11b</text>
<rect x="835.4" y="1114.9" width="23.4" height="23.4" fill="#646160" stroke="#111" stroke-width="1.6"/>
<text transform="translate(868.40,1132.30) scale(1,1.04)" font-size="21">Veh</text>
<rect x="923.5" y="1114.9" width="23.4" height="23.4" fill="#2f74bd" stroke="#111" stroke-width="1.6"/>
<text transform="translate(956.50,1132.30) scale(1,1.04)" font-size="21">DNA</text>
<rect x="835.4" y="1147.1" width="23.4" height="23.4" fill="#a4d11c" stroke="#111" stroke-width="1.6"/>
<text transform="translate(868.40,1164.50) scale(1,1.04)" font-size="21">E64</text>
<rect x="923.5" y="1147.1" width="23.4" height="23.4" fill="#df2a1c" stroke="#111" stroke-width="1.6"/>
<text transform="translate(956.50,1164.50) scale(1,1.04)" font-size="21">E64-DNA</text>
<text transform="translate(758.00,1278.00) rotate(-90) scale(1,1.04)" font-size="29.4" text-anchor="middle" font-weight="bold">Relative mRNA levels</text>
</svg></body></html>
